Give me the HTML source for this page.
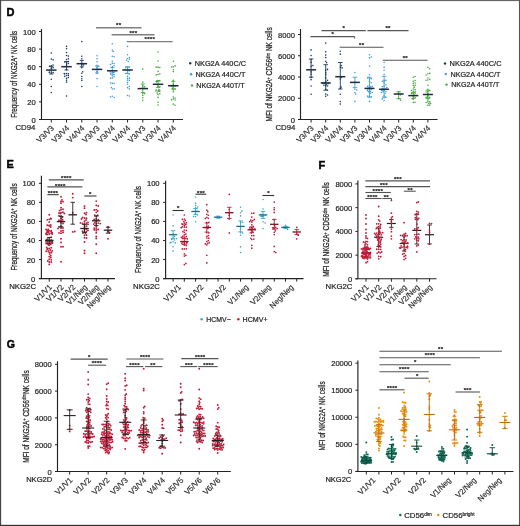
<!DOCTYPE html>
<html><head><meta charset="utf-8"><style>
html,body{margin:0;padding:0;background:#fff;}
body{width:520px;height:526px;overflow:hidden;}
svg{display:block;filter:blur(0.3px);font-family:"Liberation Sans", sans-serif;}
</style></head><body>
<svg width="520" height="526" viewBox="0 0 520 526">
<rect x="0" y="0" width="520" height="526" fill="#fff"/>
<text x="6.60" y="15.90" font-size="11" font-weight="bold" fill="#000" stroke="#000" stroke-width="0.45">D</text>
<line x1="41.50" y1="29.00" x2="41.50" y2="120.00" stroke="#222" stroke-width="1.15"/>
<line x1="39.00" y1="119.50" x2="41.50" y2="119.50" stroke="#222" stroke-width="1.0"/>
<text x="35.70" y="122.50" font-size="7.6" text-anchor="end" fill="#222" stroke="#222" stroke-width="0.2">0</text>
<line x1="39.00" y1="101.90" x2="41.50" y2="101.90" stroke="#222" stroke-width="1.0"/>
<text x="35.70" y="104.90" font-size="7.6" text-anchor="end" fill="#222" stroke="#222" stroke-width="0.2">20</text>
<line x1="39.00" y1="84.30" x2="41.50" y2="84.30" stroke="#222" stroke-width="1.0"/>
<text x="35.70" y="87.30" font-size="7.6" text-anchor="end" fill="#222" stroke="#222" stroke-width="0.2">40</text>
<line x1="39.00" y1="66.70" x2="41.50" y2="66.70" stroke="#222" stroke-width="1.0"/>
<text x="35.70" y="69.70" font-size="7.6" text-anchor="end" fill="#222" stroke="#222" stroke-width="0.2">60</text>
<line x1="39.00" y1="49.10" x2="41.50" y2="49.10" stroke="#222" stroke-width="1.0"/>
<text x="35.70" y="52.10" font-size="7.6" text-anchor="end" fill="#222" stroke="#222" stroke-width="0.2">80</text>
<line x1="39.00" y1="31.50" x2="41.50" y2="31.50" stroke="#222" stroke-width="1.0"/>
<text x="35.70" y="34.50" font-size="7.6" text-anchor="end" fill="#222" stroke="#222" stroke-width="0.2">100</text>
<line x1="39.00" y1="119.50" x2="183.00" y2="119.50" stroke="#222" stroke-width="1.15"/>
<line x1="51.30" y1="119.50" x2="51.30" y2="122.50" stroke="#222" stroke-width="1.0"/>
<line x1="66.55" y1="119.50" x2="66.55" y2="122.50" stroke="#222" stroke-width="1.0"/>
<line x1="81.80" y1="119.50" x2="81.80" y2="122.50" stroke="#222" stroke-width="1.0"/>
<line x1="97.05" y1="119.50" x2="97.05" y2="122.50" stroke="#222" stroke-width="1.0"/>
<line x1="112.30" y1="119.50" x2="112.30" y2="122.50" stroke="#222" stroke-width="1.0"/>
<line x1="127.55" y1="119.50" x2="127.55" y2="122.50" stroke="#222" stroke-width="1.0"/>
<line x1="142.80" y1="119.50" x2="142.80" y2="122.50" stroke="#222" stroke-width="1.0"/>
<line x1="158.05" y1="119.50" x2="158.05" y2="122.50" stroke="#222" stroke-width="1.0"/>
<line x1="173.30" y1="119.50" x2="173.30" y2="122.50" stroke="#222" stroke-width="1.0"/>
<text x="16.60" y="74.20" font-size="9.4" text-anchor="middle" textLength="86.9" lengthAdjust="spacingAndGlyphs" transform="rotate(-90 16.60 74.20)" fill="#222" stroke="#222" stroke-width="0.25">Frequency of NKG2A<tspan font-size="5.4" dy="-2.6">+</tspan><tspan dy="2.6"> NK cells</tspan></text>
<text x="15.40" y="130.20" font-size="7.8" fill="#222" stroke="#222" stroke-width="0.2">CD94</text>
<text x="54.50" y="128.70" font-size="7.9" text-anchor="end" textLength="20.7" lengthAdjust="spacingAndGlyphs" transform="rotate(-45 54.50 128.70)" fill="#2a2a2a" stroke="#2a2a2a" stroke-width="0.15">V3/V3</text>
<text x="69.75" y="128.70" font-size="7.9" text-anchor="end" textLength="20.7" lengthAdjust="spacingAndGlyphs" transform="rotate(-45 69.75 128.70)" fill="#2a2a2a" stroke="#2a2a2a" stroke-width="0.15">V3/V4</text>
<text x="85.00" y="128.70" font-size="7.9" text-anchor="end" textLength="20.7" lengthAdjust="spacingAndGlyphs" transform="rotate(-45 85.00 128.70)" fill="#2a2a2a" stroke="#2a2a2a" stroke-width="0.15">V4/V4</text>
<text x="100.25" y="128.70" font-size="7.9" text-anchor="end" textLength="20.7" lengthAdjust="spacingAndGlyphs" transform="rotate(-45 100.25 128.70)" fill="#2a2a2a" stroke="#2a2a2a" stroke-width="0.15">V3/V3</text>
<text x="115.50" y="128.70" font-size="7.9" text-anchor="end" textLength="20.7" lengthAdjust="spacingAndGlyphs" transform="rotate(-45 115.50 128.70)" fill="#2a2a2a" stroke="#2a2a2a" stroke-width="0.15">V3/V4</text>
<text x="130.75" y="128.70" font-size="7.9" text-anchor="end" textLength="20.7" lengthAdjust="spacingAndGlyphs" transform="rotate(-45 130.75 128.70)" fill="#2a2a2a" stroke="#2a2a2a" stroke-width="0.15">V4/V4</text>
<text x="146.00" y="128.70" font-size="7.9" text-anchor="end" textLength="20.7" lengthAdjust="spacingAndGlyphs" transform="rotate(-45 146.00 128.70)" fill="#2a2a2a" stroke="#2a2a2a" stroke-width="0.15">V3/V3</text>
<text x="161.25" y="128.70" font-size="7.9" text-anchor="end" textLength="20.7" lengthAdjust="spacingAndGlyphs" transform="rotate(-45 161.25 128.70)" fill="#2a2a2a" stroke="#2a2a2a" stroke-width="0.15">V3/V4</text>
<text x="176.50" y="128.70" font-size="7.9" text-anchor="end" textLength="20.7" lengthAdjust="spacingAndGlyphs" transform="rotate(-45 176.50 128.70)" fill="#2a2a2a" stroke="#2a2a2a" stroke-width="0.15">V4/V4</text>
<circle cx="51.30" cy="73.21" r="0.8" fill="#1a3a68"/>
<circle cx="53.10" cy="72.63" r="0.8" fill="#1a3a68"/>
<circle cx="51.30" cy="68.27" r="0.8" fill="#1a3a68"/>
<circle cx="51.30" cy="59.12" r="0.8" fill="#1a3a68"/>
<circle cx="49.50" cy="72.33" r="0.8" fill="#1a3a68"/>
<circle cx="49.38" cy="72.21" r="0.8" fill="#1a3a68"/>
<circle cx="51.30" cy="86.55" r="0.8" fill="#1a3a68"/>
<circle cx="53.10" cy="67.64" r="0.8" fill="#1a3a68"/>
<circle cx="51.30" cy="79.28" r="0.8" fill="#1a3a68"/>
<circle cx="51.30" cy="53.00" r="0.8" fill="#1a3a68"/>
<circle cx="51.30" cy="65.91" r="0.8" fill="#1a3a68"/>
<circle cx="49.50" cy="66.20" r="0.8" fill="#1a3a68"/>
<circle cx="53.10" cy="59.86" r="0.8" fill="#1a3a68"/>
<circle cx="53.10" cy="65.05" r="0.8" fill="#1a3a68"/>
<circle cx="51.30" cy="92.50" r="0.8" fill="#1a3a68"/>
<line x1="51.30" y1="66.30" x2="51.30" y2="74.00" stroke="#1a3a68" stroke-width="0.9"/>
<line x1="49.30" y1="66.30" x2="53.30" y2="66.30" stroke="#1a3a68" stroke-width="0.9"/>
<line x1="49.30" y1="74.00" x2="53.30" y2="74.00" stroke="#1a3a68" stroke-width="0.9"/>
<line x1="46.05" y1="70.10" x2="56.55" y2="70.10" stroke="#1f2a3a" stroke-width="1.5"/>
<circle cx="66.55" cy="73.52" r="0.8" fill="#1a3a68"/>
<circle cx="66.55" cy="62.69" r="0.8" fill="#1a3a68"/>
<circle cx="66.55" cy="48.68" r="0.8" fill="#1a3a68"/>
<circle cx="66.55" cy="75.50" r="0.8" fill="#1a3a68"/>
<circle cx="66.55" cy="69.62" r="0.8" fill="#1a3a68"/>
<circle cx="66.55" cy="80.21" r="0.8" fill="#1a3a68"/>
<circle cx="66.55" cy="82.12" r="0.8" fill="#1a3a68"/>
<circle cx="66.55" cy="65.03" r="0.8" fill="#1a3a68"/>
<circle cx="68.35" cy="73.68" r="0.8" fill="#1a3a68"/>
<circle cx="66.55" cy="52.51" r="0.8" fill="#1a3a68"/>
<circle cx="68.35" cy="75.38" r="0.8" fill="#1a3a68"/>
<circle cx="66.55" cy="96.00" r="0.8" fill="#1a3a68"/>
<circle cx="66.55" cy="78.40" r="0.8" fill="#1a3a68"/>
<circle cx="66.55" cy="46.40" r="0.8" fill="#1a3a68"/>
<circle cx="64.75" cy="73.86" r="0.8" fill="#1a3a68"/>
<circle cx="64.75" cy="76.37" r="0.8" fill="#1a3a68"/>
<circle cx="66.55" cy="59.52" r="0.8" fill="#1a3a68"/>
<circle cx="66.55" cy="55.48" r="0.8" fill="#1a3a68"/>
<circle cx="68.35" cy="63.54" r="0.8" fill="#1a3a68"/>
<circle cx="68.35" cy="61.58" r="0.8" fill="#1a3a68"/>
<circle cx="64.75" cy="61.97" r="0.8" fill="#1a3a68"/>
<circle cx="68.35" cy="58.84" r="0.8" fill="#1a3a68"/>
<circle cx="68.35" cy="56.09" r="0.8" fill="#1a3a68"/>
<circle cx="64.22" cy="73.48" r="0.8" fill="#1a3a68"/>
<circle cx="68.35" cy="77.56" r="0.8" fill="#1a3a68"/>
<line x1="66.55" y1="61.50" x2="66.55" y2="70.00" stroke="#1a3a68" stroke-width="0.9"/>
<line x1="64.55" y1="61.50" x2="68.55" y2="61.50" stroke="#1a3a68" stroke-width="0.9"/>
<line x1="64.55" y1="70.00" x2="68.55" y2="70.00" stroke="#1a3a68" stroke-width="0.9"/>
<line x1="61.30" y1="66.70" x2="71.80" y2="66.70" stroke="#1f2a3a" stroke-width="1.5"/>
<circle cx="81.80" cy="67.59" r="0.8" fill="#1a3a68"/>
<circle cx="81.80" cy="76.52" r="0.8" fill="#1a3a68"/>
<circle cx="81.80" cy="73.29" r="0.8" fill="#1a3a68"/>
<circle cx="81.80" cy="56.29" r="0.8" fill="#1a3a68"/>
<circle cx="81.80" cy="78.68" r="0.8" fill="#1a3a68"/>
<circle cx="81.80" cy="58.76" r="0.8" fill="#1a3a68"/>
<circle cx="81.80" cy="86.50" r="0.8" fill="#1a3a68"/>
<circle cx="81.80" cy="80.50" r="0.8" fill="#1a3a68"/>
<circle cx="81.80" cy="64.84" r="0.8" fill="#1a3a68"/>
<circle cx="81.80" cy="41.60" r="0.8" fill="#1a3a68"/>
<circle cx="83.60" cy="65.04" r="0.8" fill="#1a3a68"/>
<circle cx="82.70" cy="71.68" r="0.8" fill="#1a3a68"/>
<line x1="81.80" y1="60.40" x2="81.80" y2="66.90" stroke="#1a3a68" stroke-width="0.9"/>
<line x1="79.80" y1="60.40" x2="83.80" y2="60.40" stroke="#1a3a68" stroke-width="0.9"/>
<line x1="79.80" y1="66.90" x2="83.80" y2="66.90" stroke="#1a3a68" stroke-width="0.9"/>
<line x1="76.55" y1="63.70" x2="87.05" y2="63.70" stroke="#1f2a3a" stroke-width="1.5"/>
<circle cx="97.05" cy="68.94" r="0.8" fill="#3f9fd8"/>
<circle cx="97.05" cy="65.32" r="0.8" fill="#3f9fd8"/>
<circle cx="98.85" cy="66.36" r="0.8" fill="#3f9fd8"/>
<circle cx="97.05" cy="58.85" r="0.8" fill="#3f9fd8"/>
<circle cx="97.05" cy="55.80" r="0.8" fill="#3f9fd8"/>
<circle cx="97.05" cy="67.23" r="0.8" fill="#3f9fd8"/>
<circle cx="97.05" cy="86.50" r="0.8" fill="#3f9fd8"/>
<circle cx="97.05" cy="78.60" r="0.8" fill="#3f9fd8"/>
<circle cx="98.85" cy="69.29" r="0.8" fill="#3f9fd8"/>
<circle cx="97.05" cy="61.76" r="0.8" fill="#3f9fd8"/>
<circle cx="97.05" cy="73.41" r="0.8" fill="#3f9fd8"/>
<circle cx="97.05" cy="71.67" r="0.8" fill="#3f9fd8"/>
<line x1="97.05" y1="66.00" x2="97.05" y2="73.00" stroke="#3f9fd8" stroke-width="0.9"/>
<line x1="95.05" y1="66.00" x2="99.05" y2="66.00" stroke="#3f9fd8" stroke-width="0.9"/>
<line x1="95.05" y1="73.00" x2="99.05" y2="73.00" stroke="#3f9fd8" stroke-width="0.9"/>
<line x1="91.80" y1="69.40" x2="102.30" y2="69.40" stroke="#1f2a3a" stroke-width="1.5"/>
<circle cx="112.30" cy="49.93" r="0.8" fill="#3f9fd8"/>
<circle cx="112.30" cy="75.73" r="0.8" fill="#3f9fd8"/>
<circle cx="112.30" cy="77.89" r="0.8" fill="#3f9fd8"/>
<circle cx="114.10" cy="74.78" r="0.8" fill="#3f9fd8"/>
<circle cx="112.30" cy="83.42" r="0.8" fill="#3f9fd8"/>
<circle cx="114.10" cy="76.85" r="0.8" fill="#3f9fd8"/>
<circle cx="112.30" cy="61.28" r="0.8" fill="#3f9fd8"/>
<circle cx="112.30" cy="89.05" r="0.8" fill="#3f9fd8"/>
<circle cx="112.30" cy="96.29" r="0.8" fill="#3f9fd8"/>
<circle cx="112.30" cy="56.37" r="0.8" fill="#3f9fd8"/>
<circle cx="114.10" cy="83.21" r="0.8" fill="#3f9fd8"/>
<circle cx="114.10" cy="97.60" r="0.8" fill="#3f9fd8"/>
<circle cx="112.30" cy="72.30" r="0.8" fill="#3f9fd8"/>
<circle cx="112.30" cy="66.64" r="0.8" fill="#3f9fd8"/>
<circle cx="114.10" cy="88.82" r="0.8" fill="#3f9fd8"/>
<circle cx="110.50" cy="82.93" r="0.8" fill="#3f9fd8"/>
<circle cx="112.30" cy="63.40" r="0.8" fill="#3f9fd8"/>
<circle cx="114.10" cy="65.68" r="0.8" fill="#3f9fd8"/>
<circle cx="110.50" cy="64.47" r="0.8" fill="#3f9fd8"/>
<circle cx="110.50" cy="78.25" r="0.8" fill="#3f9fd8"/>
<circle cx="111.40" cy="87.44" r="0.8" fill="#3f9fd8"/>
<circle cx="114.10" cy="72.19" r="0.8" fill="#3f9fd8"/>
<circle cx="113.20" cy="51.40" r="0.8" fill="#3f9fd8"/>
<circle cx="110.50" cy="73.71" r="0.8" fill="#3f9fd8"/>
<circle cx="114.10" cy="56.75" r="0.8" fill="#3f9fd8"/>
<circle cx="110.50" cy="97.02" r="0.8" fill="#3f9fd8"/>
<circle cx="113.60" cy="72.56" r="0.8" fill="#3f9fd8"/>
<circle cx="114.10" cy="63.48" r="0.8" fill="#3f9fd8"/>
<circle cx="112.30" cy="43.80" r="0.8" fill="#3f9fd8"/>
<circle cx="110.50" cy="71.94" r="0.8" fill="#3f9fd8"/>
<line x1="112.30" y1="67.50" x2="112.30" y2="74.30" stroke="#3f9fd8" stroke-width="0.9"/>
<line x1="110.30" y1="67.50" x2="114.30" y2="67.50" stroke="#3f9fd8" stroke-width="0.9"/>
<line x1="110.30" y1="74.30" x2="114.30" y2="74.30" stroke="#3f9fd8" stroke-width="0.9"/>
<line x1="107.05" y1="70.80" x2="117.55" y2="70.80" stroke="#1f2a3a" stroke-width="1.5"/>
<circle cx="127.55" cy="80.10" r="0.8" fill="#3f9fd8"/>
<circle cx="127.55" cy="73.38" r="0.8" fill="#3f9fd8"/>
<circle cx="127.55" cy="69.16" r="0.8" fill="#3f9fd8"/>
<circle cx="129.35" cy="70.30" r="0.8" fill="#3f9fd8"/>
<circle cx="125.75" cy="69.57" r="0.8" fill="#3f9fd8"/>
<circle cx="127.55" cy="87.64" r="0.8" fill="#3f9fd8"/>
<circle cx="127.55" cy="67.45" r="0.8" fill="#3f9fd8"/>
<circle cx="127.55" cy="82.37" r="0.8" fill="#3f9fd8"/>
<circle cx="127.55" cy="95.55" r="0.8" fill="#3f9fd8"/>
<circle cx="127.55" cy="78.36" r="0.8" fill="#3f9fd8"/>
<circle cx="129.35" cy="80.42" r="0.8" fill="#3f9fd8"/>
<circle cx="127.55" cy="58.78" r="0.8" fill="#3f9fd8"/>
<circle cx="127.55" cy="76.34" r="0.8" fill="#3f9fd8"/>
<circle cx="129.35" cy="96.00" r="0.8" fill="#3f9fd8"/>
<circle cx="129.35" cy="88.86" r="0.8" fill="#3f9fd8"/>
<circle cx="129.35" cy="59.30" r="0.8" fill="#3f9fd8"/>
<circle cx="126.65" cy="60.25" r="0.8" fill="#3f9fd8"/>
<circle cx="127.55" cy="54.74" r="0.8" fill="#3f9fd8"/>
<circle cx="129.35" cy="74.24" r="0.8" fill="#3f9fd8"/>
<circle cx="129.35" cy="57.48" r="0.8" fill="#3f9fd8"/>
<circle cx="129.35" cy="67.37" r="0.8" fill="#3f9fd8"/>
<circle cx="129.17" cy="70.86" r="0.8" fill="#3f9fd8"/>
<circle cx="127.55" cy="84.27" r="0.8" fill="#3f9fd8"/>
<circle cx="125.75" cy="67.28" r="0.8" fill="#3f9fd8"/>
<circle cx="125.75" cy="73.49" r="0.8" fill="#3f9fd8"/>
<circle cx="129.35" cy="78.16" r="0.8" fill="#3f9fd8"/>
<circle cx="127.55" cy="46.40" r="0.8" fill="#3f9fd8"/>
<circle cx="129.35" cy="86.55" r="0.8" fill="#3f9fd8"/>
<circle cx="125.31" cy="69.47" r="0.8" fill="#3f9fd8"/>
<circle cx="128.45" cy="61.54" r="0.8" fill="#3f9fd8"/>
<line x1="127.55" y1="66.70" x2="127.55" y2="73.40" stroke="#3f9fd8" stroke-width="0.9"/>
<line x1="125.55" y1="66.70" x2="129.55" y2="66.70" stroke="#3f9fd8" stroke-width="0.9"/>
<line x1="125.55" y1="73.40" x2="129.55" y2="73.40" stroke="#3f9fd8" stroke-width="0.9"/>
<line x1="122.30" y1="70.00" x2="132.80" y2="70.00" stroke="#1f2a3a" stroke-width="1.5"/>
<circle cx="142.80" cy="97.68" r="0.8" fill="#45a83c"/>
<circle cx="142.80" cy="93.50" r="0.8" fill="#45a83c"/>
<circle cx="142.80" cy="95.38" r="0.8" fill="#45a83c"/>
<circle cx="142.80" cy="85.99" r="0.8" fill="#45a83c"/>
<circle cx="142.80" cy="100.20" r="0.8" fill="#45a83c"/>
<circle cx="142.80" cy="69.10" r="0.8" fill="#45a83c"/>
<circle cx="144.60" cy="93.43" r="0.8" fill="#45a83c"/>
<circle cx="142.80" cy="82.08" r="0.8" fill="#45a83c"/>
<circle cx="144.60" cy="86.90" r="0.8" fill="#45a83c"/>
<circle cx="142.80" cy="87.93" r="0.8" fill="#45a83c"/>
<line x1="142.80" y1="84.00" x2="142.80" y2="92.50" stroke="#45a83c" stroke-width="0.9"/>
<line x1="140.80" y1="84.00" x2="144.80" y2="84.00" stroke="#45a83c" stroke-width="0.9"/>
<line x1="140.80" y1="92.50" x2="144.80" y2="92.50" stroke="#45a83c" stroke-width="0.9"/>
<line x1="137.55" y1="88.60" x2="148.05" y2="88.60" stroke="#1f2a3a" stroke-width="1.5"/>
<circle cx="158.05" cy="60.93" r="0.8" fill="#45a83c"/>
<circle cx="158.05" cy="94.58" r="0.8" fill="#45a83c"/>
<circle cx="158.05" cy="105.00" r="0.8" fill="#45a83c"/>
<circle cx="158.05" cy="67.13" r="0.8" fill="#45a83c"/>
<circle cx="158.05" cy="81.15" r="0.8" fill="#45a83c"/>
<circle cx="158.05" cy="91.28" r="0.8" fill="#45a83c"/>
<circle cx="158.05" cy="74.51" r="0.8" fill="#45a83c"/>
<circle cx="159.85" cy="91.07" r="0.8" fill="#45a83c"/>
<circle cx="156.25" cy="90.02" r="0.8" fill="#45a83c"/>
<circle cx="158.05" cy="86.41" r="0.8" fill="#45a83c"/>
<circle cx="158.95" cy="89.61" r="0.8" fill="#45a83c"/>
<circle cx="159.85" cy="86.92" r="0.8" fill="#45a83c"/>
<circle cx="159.59" cy="91.00" r="0.8" fill="#45a83c"/>
<circle cx="159.85" cy="67.58" r="0.8" fill="#45a83c"/>
<circle cx="159.85" cy="93.85" r="0.8" fill="#45a83c"/>
<circle cx="155.92" cy="90.93" r="0.8" fill="#45a83c"/>
<circle cx="158.05" cy="52.00" r="0.8" fill="#45a83c"/>
<circle cx="159.85" cy="80.88" r="0.8" fill="#45a83c"/>
<circle cx="157.15" cy="93.09" r="0.8" fill="#45a83c"/>
<circle cx="159.85" cy="73.84" r="0.8" fill="#45a83c"/>
<circle cx="158.05" cy="102.18" r="0.8" fill="#45a83c"/>
<circle cx="156.25" cy="81.71" r="0.8" fill="#45a83c"/>
<circle cx="158.38" cy="90.43" r="0.8" fill="#45a83c"/>
<circle cx="158.05" cy="97.39" r="0.8" fill="#45a83c"/>
<circle cx="156.25" cy="67.14" r="0.8" fill="#45a83c"/>
<circle cx="156.69" cy="81.85" r="0.8" fill="#45a83c"/>
<circle cx="156.25" cy="74.83" r="0.8" fill="#45a83c"/>
<circle cx="158.05" cy="71.38" r="0.8" fill="#45a83c"/>
<line x1="158.05" y1="80.60" x2="158.05" y2="87.40" stroke="#45a83c" stroke-width="0.9"/>
<line x1="156.05" y1="80.60" x2="160.05" y2="80.60" stroke="#45a83c" stroke-width="0.9"/>
<line x1="156.05" y1="87.40" x2="160.05" y2="87.40" stroke="#45a83c" stroke-width="0.9"/>
<line x1="152.80" y1="84.30" x2="163.30" y2="84.30" stroke="#1f2a3a" stroke-width="1.5"/>
<circle cx="173.30" cy="98.90" r="0.8" fill="#45a83c"/>
<circle cx="173.30" cy="61.20" r="0.8" fill="#45a83c"/>
<circle cx="173.30" cy="66.91" r="0.8" fill="#45a83c"/>
<circle cx="173.30" cy="80.40" r="0.8" fill="#45a83c"/>
<circle cx="175.10" cy="99.93" r="0.8" fill="#45a83c"/>
<circle cx="173.30" cy="104.13" r="0.8" fill="#45a83c"/>
<circle cx="173.30" cy="86.39" r="0.8" fill="#45a83c"/>
<circle cx="173.30" cy="69.75" r="0.8" fill="#45a83c"/>
<circle cx="173.30" cy="89.96" r="0.8" fill="#45a83c"/>
<circle cx="175.10" cy="65.92" r="0.8" fill="#45a83c"/>
<circle cx="173.30" cy="71.61" r="0.8" fill="#45a83c"/>
<circle cx="175.10" cy="105.30" r="0.8" fill="#45a83c"/>
<circle cx="173.30" cy="84.17" r="0.8" fill="#45a83c"/>
<circle cx="175.10" cy="86.55" r="0.8" fill="#45a83c"/>
<circle cx="173.30" cy="91.84" r="0.8" fill="#45a83c"/>
<circle cx="175.10" cy="88.89" r="0.8" fill="#45a83c"/>
<circle cx="171.50" cy="86.16" r="0.8" fill="#45a83c"/>
<circle cx="172.40" cy="88.31" r="0.8" fill="#45a83c"/>
<circle cx="173.30" cy="97.02" r="0.8" fill="#45a83c"/>
<circle cx="171.50" cy="67.01" r="0.8" fill="#45a83c"/>
<circle cx="175.10" cy="98.00" r="0.8" fill="#45a83c"/>
<circle cx="171.50" cy="99.84" r="0.8" fill="#45a83c"/>
<line x1="173.30" y1="81.40" x2="173.30" y2="89.10" stroke="#45a83c" stroke-width="0.9"/>
<line x1="171.30" y1="81.40" x2="175.30" y2="81.40" stroke="#45a83c" stroke-width="0.9"/>
<line x1="171.30" y1="89.10" x2="175.30" y2="89.10" stroke="#45a83c" stroke-width="0.9"/>
<line x1="168.05" y1="85.70" x2="178.55" y2="85.70" stroke="#1f2a3a" stroke-width="1.5"/>
<line x1="96.00" y1="27.80" x2="141.60" y2="27.80" stroke="#808080" stroke-width="1.4"/>
<text x="118.65" y="26.90" font-size="6" text-anchor="middle" font-weight="bold" fill="#222" stroke="#222" stroke-width="0.2" letter-spacing="0.3">**</text>
<line x1="111.60" y1="34.70" x2="154.50" y2="34.70" stroke="#808080" stroke-width="1.4"/>
<text x="133.45" y="34.50" font-size="6" text-anchor="middle" font-weight="bold" fill="#222" stroke="#222" stroke-width="0.2" letter-spacing="0.3">***</text>
<line x1="126.70" y1="41.60" x2="172.70" y2="41.60" stroke="#808080" stroke-width="1.4"/>
<text x="149.85" y="41.30" font-size="6" text-anchor="middle" font-weight="bold" fill="#222" stroke="#222" stroke-width="0.2" letter-spacing="0.3">****</text>
<circle cx="190.20" cy="63.20" r="1.2" fill="#1a3a68"/>
<text x="194.70" y="65.90" font-size="7.6" textLength="51.4" lengthAdjust="spacingAndGlyphs" fill="#222" stroke="#222" stroke-width="0.2">NKG2A 440C/C</text>
<circle cx="191.10" cy="74.30" r="1.2" fill="#3f9fd8"/>
<text x="195.50" y="77.00" font-size="7.6" textLength="50" lengthAdjust="spacingAndGlyphs" fill="#222" stroke="#222" stroke-width="0.2">NKG2A 440C/T</text>
<circle cx="192.00" cy="85.40" r="1.2" fill="#45a83c"/>
<text x="196.30" y="88.10" font-size="7.6" textLength="48.4" lengthAdjust="spacingAndGlyphs" fill="#222" stroke="#222" stroke-width="0.2">NKG2A 440T/T</text>
<line x1="300.50" y1="29.00" x2="300.50" y2="120.00" stroke="#222" stroke-width="1.15"/>
<line x1="298.00" y1="119.50" x2="300.50" y2="119.50" stroke="#222" stroke-width="1.0"/>
<text x="295.00" y="122.50" font-size="7.6" text-anchor="end" fill="#222" stroke="#222" stroke-width="0.2">0</text>
<line x1="298.00" y1="98.25" x2="300.50" y2="98.25" stroke="#222" stroke-width="1.0"/>
<text x="295.00" y="101.25" font-size="7.6" text-anchor="end" fill="#222" stroke="#222" stroke-width="0.2">2000</text>
<line x1="298.00" y1="77.00" x2="300.50" y2="77.00" stroke="#222" stroke-width="1.0"/>
<text x="295.00" y="80.00" font-size="7.6" text-anchor="end" fill="#222" stroke="#222" stroke-width="0.2">4000</text>
<line x1="298.00" y1="55.75" x2="300.50" y2="55.75" stroke="#222" stroke-width="1.0"/>
<text x="295.00" y="58.75" font-size="7.6" text-anchor="end" fill="#222" stroke="#222" stroke-width="0.2">6000</text>
<line x1="298.00" y1="34.50" x2="300.50" y2="34.50" stroke="#222" stroke-width="1.0"/>
<text x="295.00" y="37.50" font-size="7.6" text-anchor="end" fill="#222" stroke="#222" stroke-width="0.2">8000</text>
<line x1="298.00" y1="119.50" x2="437.50" y2="119.50" stroke="#222" stroke-width="1.15"/>
<line x1="311.10" y1="119.50" x2="311.10" y2="122.50" stroke="#222" stroke-width="1.0"/>
<line x1="325.70" y1="119.50" x2="325.70" y2="122.50" stroke="#222" stroke-width="1.0"/>
<line x1="340.30" y1="119.50" x2="340.30" y2="122.50" stroke="#222" stroke-width="1.0"/>
<line x1="354.90" y1="119.50" x2="354.90" y2="122.50" stroke="#222" stroke-width="1.0"/>
<line x1="369.50" y1="119.50" x2="369.50" y2="122.50" stroke="#222" stroke-width="1.0"/>
<line x1="384.10" y1="119.50" x2="384.10" y2="122.50" stroke="#222" stroke-width="1.0"/>
<line x1="398.70" y1="119.50" x2="398.70" y2="122.50" stroke="#222" stroke-width="1.0"/>
<line x1="413.30" y1="119.50" x2="413.30" y2="122.50" stroke="#222" stroke-width="1.0"/>
<line x1="427.90" y1="119.50" x2="427.90" y2="122.50" stroke="#222" stroke-width="1.0"/>
<text x="272.30" y="74.40" font-size="9.4" text-anchor="middle" textLength="94.1" lengthAdjust="spacingAndGlyphs" transform="rotate(-90 272.30 74.40)" fill="#222" stroke="#222" stroke-width="0.25">MFI of NKG2A<tspan font-size="5.4" dy="-2.6">+</tspan><tspan dy="2.6"> CD56</tspan><tspan font-size="5.4" dy="-2.6">dim</tspan><tspan dy="2.6"> NK cells</tspan></text>
<text x="275.40" y="130.20" font-size="7.8" fill="#222" stroke="#222" stroke-width="0.2">CD94</text>
<text x="314.30" y="128.70" font-size="7.9" text-anchor="end" textLength="20.7" lengthAdjust="spacingAndGlyphs" transform="rotate(-45 314.30 128.70)" fill="#2a2a2a" stroke="#2a2a2a" stroke-width="0.15">V3/V3</text>
<text x="328.90" y="128.70" font-size="7.9" text-anchor="end" textLength="20.7" lengthAdjust="spacingAndGlyphs" transform="rotate(-45 328.90 128.70)" fill="#2a2a2a" stroke="#2a2a2a" stroke-width="0.15">V3/V4</text>
<text x="343.50" y="128.70" font-size="7.9" text-anchor="end" textLength="20.7" lengthAdjust="spacingAndGlyphs" transform="rotate(-45 343.50 128.70)" fill="#2a2a2a" stroke="#2a2a2a" stroke-width="0.15">V4/V4</text>
<text x="358.10" y="128.70" font-size="7.9" text-anchor="end" textLength="20.7" lengthAdjust="spacingAndGlyphs" transform="rotate(-45 358.10 128.70)" fill="#2a2a2a" stroke="#2a2a2a" stroke-width="0.15">V3/V3</text>
<text x="372.70" y="128.70" font-size="7.9" text-anchor="end" textLength="20.7" lengthAdjust="spacingAndGlyphs" transform="rotate(-45 372.70 128.70)" fill="#2a2a2a" stroke="#2a2a2a" stroke-width="0.15">V3/V4</text>
<text x="387.30" y="128.70" font-size="7.9" text-anchor="end" textLength="20.7" lengthAdjust="spacingAndGlyphs" transform="rotate(-45 387.30 128.70)" fill="#2a2a2a" stroke="#2a2a2a" stroke-width="0.15">V4/V4</text>
<text x="401.90" y="128.70" font-size="7.9" text-anchor="end" textLength="20.7" lengthAdjust="spacingAndGlyphs" transform="rotate(-45 401.90 128.70)" fill="#2a2a2a" stroke="#2a2a2a" stroke-width="0.15">V3/V3</text>
<text x="416.50" y="128.70" font-size="7.9" text-anchor="end" textLength="20.7" lengthAdjust="spacingAndGlyphs" transform="rotate(-45 416.50 128.70)" fill="#2a2a2a" stroke="#2a2a2a" stroke-width="0.15">V3/V4</text>
<text x="431.10" y="128.70" font-size="7.9" text-anchor="end" textLength="20.7" lengthAdjust="spacingAndGlyphs" transform="rotate(-45 431.10 128.70)" fill="#2a2a2a" stroke="#2a2a2a" stroke-width="0.15">V4/V4</text>
<circle cx="311.10" cy="77.41" r="0.8" fill="#1a3a68"/>
<circle cx="311.10" cy="71.91" r="0.8" fill="#1a3a68"/>
<circle cx="311.10" cy="94.20" r="0.8" fill="#1a3a68"/>
<circle cx="311.10" cy="85.96" r="0.8" fill="#1a3a68"/>
<circle cx="311.10" cy="79.67" r="0.8" fill="#1a3a68"/>
<circle cx="311.10" cy="66.22" r="0.8" fill="#1a3a68"/>
<circle cx="311.10" cy="49.90" r="0.8" fill="#1a3a68"/>
<circle cx="312.90" cy="65.46" r="0.8" fill="#1a3a68"/>
<circle cx="311.10" cy="62.38" r="0.8" fill="#1a3a68"/>
<circle cx="311.10" cy="59.62" r="0.8" fill="#1a3a68"/>
<circle cx="311.10" cy="74.18" r="0.8" fill="#1a3a68"/>
<circle cx="311.10" cy="55.57" r="0.8" fill="#1a3a68"/>
<line x1="311.10" y1="59.00" x2="311.10" y2="77.20" stroke="#1a3a68" stroke-width="0.9"/>
<line x1="308.85" y1="59.00" x2="313.35" y2="59.00" stroke="#1a3a68" stroke-width="0.9"/>
<line x1="308.85" y1="77.20" x2="313.35" y2="77.20" stroke="#1a3a68" stroke-width="0.9"/>
<line x1="306.10" y1="69.80" x2="316.10" y2="69.80" stroke="#1f2a3a" stroke-width="1.5"/>
<circle cx="325.70" cy="85.82" r="0.8" fill="#1a3a68"/>
<circle cx="325.70" cy="81.66" r="0.8" fill="#1a3a68"/>
<circle cx="326.60" cy="84.37" r="0.8" fill="#1a3a68"/>
<circle cx="325.70" cy="74.70" r="0.8" fill="#1a3a68"/>
<circle cx="324.80" cy="83.39" r="0.8" fill="#1a3a68"/>
<circle cx="327.50" cy="80.35" r="0.8" fill="#1a3a68"/>
<circle cx="325.70" cy="70.17" r="0.8" fill="#1a3a68"/>
<circle cx="325.70" cy="89.33" r="0.8" fill="#1a3a68"/>
<circle cx="328.40" cy="83.44" r="0.8" fill="#1a3a68"/>
<circle cx="325.70" cy="61.32" r="0.8" fill="#1a3a68"/>
<circle cx="325.70" cy="94.09" r="0.8" fill="#1a3a68"/>
<circle cx="327.50" cy="69.42" r="0.8" fill="#1a3a68"/>
<circle cx="325.70" cy="96.20" r="0.8" fill="#1a3a68"/>
<circle cx="325.70" cy="57.62" r="0.8" fill="#1a3a68"/>
<circle cx="327.50" cy="95.03" r="0.8" fill="#1a3a68"/>
<circle cx="325.70" cy="55.11" r="0.8" fill="#1a3a68"/>
<circle cx="323.00" cy="83.40" r="0.8" fill="#1a3a68"/>
<circle cx="325.70" cy="72.85" r="0.8" fill="#1a3a68"/>
<circle cx="323.90" cy="85.25" r="0.8" fill="#1a3a68"/>
<circle cx="327.50" cy="90.19" r="0.8" fill="#1a3a68"/>
<circle cx="326.60" cy="62.79" r="0.8" fill="#1a3a68"/>
<circle cx="325.70" cy="43.10" r="0.8" fill="#1a3a68"/>
<circle cx="325.70" cy="51.84" r="0.8" fill="#1a3a68"/>
<circle cx="327.50" cy="86.05" r="0.8" fill="#1a3a68"/>
<circle cx="325.70" cy="77.89" r="0.8" fill="#1a3a68"/>
<line x1="325.70" y1="64.70" x2="325.70" y2="90.20" stroke="#1a3a68" stroke-width="0.9"/>
<line x1="323.45" y1="64.70" x2="327.95" y2="64.70" stroke="#1a3a68" stroke-width="0.9"/>
<line x1="323.45" y1="90.20" x2="327.95" y2="90.20" stroke="#1a3a68" stroke-width="0.9"/>
<line x1="320.70" y1="82.90" x2="330.70" y2="82.90" stroke="#1f2a3a" stroke-width="1.5"/>
<circle cx="340.30" cy="101.47" r="0.8" fill="#1a3a68"/>
<circle cx="340.30" cy="94.30" r="0.8" fill="#1a3a68"/>
<circle cx="340.30" cy="67.20" r="0.8" fill="#1a3a68"/>
<circle cx="340.30" cy="104.00" r="0.8" fill="#1a3a68"/>
<circle cx="340.30" cy="88.42" r="0.8" fill="#1a3a68"/>
<circle cx="340.30" cy="54.14" r="0.8" fill="#1a3a68"/>
<circle cx="341.20" cy="86.93" r="0.8" fill="#1a3a68"/>
<circle cx="340.30" cy="79.02" r="0.8" fill="#1a3a68"/>
<circle cx="342.10" cy="67.90" r="0.8" fill="#1a3a68"/>
<circle cx="340.30" cy="51.20" r="0.8" fill="#1a3a68"/>
<circle cx="341.20" cy="65.60" r="0.8" fill="#1a3a68"/>
<circle cx="341.20" cy="77.53" r="0.8" fill="#1a3a68"/>
<line x1="340.30" y1="62.50" x2="340.30" y2="89.00" stroke="#1a3a68" stroke-width="0.9"/>
<line x1="338.05" y1="62.50" x2="342.55" y2="62.50" stroke="#1a3a68" stroke-width="0.9"/>
<line x1="338.05" y1="89.00" x2="342.55" y2="89.00" stroke="#1a3a68" stroke-width="0.9"/>
<line x1="335.30" y1="76.70" x2="345.30" y2="76.70" stroke="#1f2a3a" stroke-width="1.5"/>
<circle cx="354.90" cy="89.11" r="0.8" fill="#3f9fd8"/>
<circle cx="354.90" cy="92.48" r="0.8" fill="#3f9fd8"/>
<circle cx="354.90" cy="72.50" r="0.8" fill="#3f9fd8"/>
<circle cx="354.90" cy="101.40" r="0.8" fill="#3f9fd8"/>
<circle cx="354.90" cy="82.12" r="0.8" fill="#3f9fd8"/>
<circle cx="355.80" cy="94.11" r="0.8" fill="#3f9fd8"/>
<circle cx="356.70" cy="90.00" r="0.8" fill="#3f9fd8"/>
<line x1="354.90" y1="77.20" x2="354.90" y2="87.60" stroke="#3f9fd8" stroke-width="0.9"/>
<line x1="352.65" y1="77.20" x2="357.15" y2="77.20" stroke="#3f9fd8" stroke-width="0.9"/>
<line x1="352.65" y1="87.60" x2="357.15" y2="87.60" stroke="#3f9fd8" stroke-width="0.9"/>
<line x1="349.90" y1="82.40" x2="359.90" y2="82.40" stroke="#1f2a3a" stroke-width="1.5"/>
<circle cx="369.50" cy="85.60" r="0.8" fill="#3f9fd8"/>
<circle cx="369.50" cy="57.88" r="0.8" fill="#3f9fd8"/>
<circle cx="369.50" cy="89.70" r="0.8" fill="#3f9fd8"/>
<circle cx="369.50" cy="81.48" r="0.8" fill="#3f9fd8"/>
<circle cx="371.30" cy="88.56" r="0.8" fill="#3f9fd8"/>
<circle cx="369.50" cy="78.83" r="0.8" fill="#3f9fd8"/>
<circle cx="369.50" cy="66.03" r="0.8" fill="#3f9fd8"/>
<circle cx="370.40" cy="87.08" r="0.8" fill="#3f9fd8"/>
<circle cx="369.50" cy="97.54" r="0.8" fill="#3f9fd8"/>
<circle cx="371.30" cy="96.86" r="0.8" fill="#3f9fd8"/>
<circle cx="370.40" cy="91.32" r="0.8" fill="#3f9fd8"/>
<circle cx="367.70" cy="86.42" r="0.8" fill="#3f9fd8"/>
<circle cx="371.30" cy="56.94" r="0.8" fill="#3f9fd8"/>
<circle cx="367.70" cy="96.14" r="0.8" fill="#3f9fd8"/>
<circle cx="372.20" cy="86.18" r="0.8" fill="#3f9fd8"/>
<circle cx="368.60" cy="91.73" r="0.8" fill="#3f9fd8"/>
<circle cx="372.20" cy="92.51" r="0.8" fill="#3f9fd8"/>
<circle cx="370.76" cy="87.03" r="0.8" fill="#3f9fd8"/>
<circle cx="369.50" cy="74.70" r="0.8" fill="#3f9fd8"/>
<circle cx="370.40" cy="93.17" r="0.8" fill="#3f9fd8"/>
<circle cx="369.50" cy="54.70" r="0.8" fill="#3f9fd8"/>
<circle cx="371.30" cy="78.71" r="0.8" fill="#3f9fd8"/>
<circle cx="369.50" cy="101.40" r="0.8" fill="#3f9fd8"/>
<circle cx="367.70" cy="77.92" r="0.8" fill="#3f9fd8"/>
<circle cx="367.70" cy="89.95" r="0.8" fill="#3f9fd8"/>
<circle cx="371.19" cy="89.53" r="0.8" fill="#3f9fd8"/>
<circle cx="368.60" cy="88.09" r="0.8" fill="#3f9fd8"/>
<circle cx="371.30" cy="82.80" r="0.8" fill="#3f9fd8"/>
<circle cx="367.55" cy="90.65" r="0.8" fill="#3f9fd8"/>
<circle cx="369.63" cy="78.19" r="0.8" fill="#3f9fd8"/>
<line x1="369.50" y1="77.20" x2="369.50" y2="97.00" stroke="#3f9fd8" stroke-width="0.9"/>
<line x1="367.25" y1="77.20" x2="371.75" y2="77.20" stroke="#3f9fd8" stroke-width="0.9"/>
<line x1="367.25" y1="97.00" x2="371.75" y2="97.00" stroke="#3f9fd8" stroke-width="0.9"/>
<line x1="364.50" y1="88.40" x2="374.50" y2="88.40" stroke="#1f2a3a" stroke-width="1.5"/>
<circle cx="384.10" cy="90.33" r="0.8" fill="#3f9fd8"/>
<circle cx="385.90" cy="91.51" r="0.8" fill="#3f9fd8"/>
<circle cx="384.10" cy="67.38" r="0.8" fill="#3f9fd8"/>
<circle cx="384.10" cy="97.81" r="0.8" fill="#3f9fd8"/>
<circle cx="385.90" cy="97.27" r="0.8" fill="#3f9fd8"/>
<circle cx="385.90" cy="88.90" r="0.8" fill="#3f9fd8"/>
<circle cx="384.10" cy="95.70" r="0.8" fill="#3f9fd8"/>
<circle cx="382.30" cy="89.59" r="0.8" fill="#3f9fd8"/>
<circle cx="383.08" cy="88.83" r="0.8" fill="#3f9fd8"/>
<circle cx="384.10" cy="86.14" r="0.8" fill="#3f9fd8"/>
<circle cx="381.86" cy="89.23" r="0.8" fill="#3f9fd8"/>
<circle cx="383.95" cy="89.96" r="0.8" fill="#3f9fd8"/>
<circle cx="384.10" cy="74.55" r="0.8" fill="#3f9fd8"/>
<circle cx="383.20" cy="91.83" r="0.8" fill="#3f9fd8"/>
<circle cx="386.80" cy="87.43" r="0.8" fill="#3f9fd8"/>
<circle cx="382.30" cy="86.77" r="0.8" fill="#3f9fd8"/>
<circle cx="384.10" cy="80.42" r="0.8" fill="#3f9fd8"/>
<circle cx="384.10" cy="100.50" r="0.8" fill="#3f9fd8"/>
<circle cx="384.10" cy="83.09" r="0.8" fill="#3f9fd8"/>
<circle cx="384.10" cy="62.50" r="0.8" fill="#3f9fd8"/>
<circle cx="381.40" cy="92.47" r="0.8" fill="#3f9fd8"/>
<circle cx="385.00" cy="93.24" r="0.8" fill="#3f9fd8"/>
<circle cx="382.96" cy="90.10" r="0.8" fill="#3f9fd8"/>
<circle cx="385.90" cy="80.41" r="0.8" fill="#3f9fd8"/>
<circle cx="385.90" cy="84.81" r="0.8" fill="#3f9fd8"/>
<circle cx="381.81" cy="90.41" r="0.8" fill="#3f9fd8"/>
<circle cx="382.30" cy="98.92" r="0.8" fill="#3f9fd8"/>
<circle cx="382.30" cy="81.27" r="0.8" fill="#3f9fd8"/>
<circle cx="384.10" cy="70.27" r="0.8" fill="#3f9fd8"/>
<circle cx="384.14" cy="81.32" r="0.8" fill="#3f9fd8"/>
<line x1="384.10" y1="76.30" x2="384.10" y2="97.00" stroke="#3f9fd8" stroke-width="0.9"/>
<line x1="381.85" y1="76.30" x2="386.35" y2="76.30" stroke="#3f9fd8" stroke-width="0.9"/>
<line x1="381.85" y1="97.00" x2="386.35" y2="97.00" stroke="#3f9fd8" stroke-width="0.9"/>
<line x1="379.10" y1="89.30" x2="389.10" y2="89.30" stroke="#1f2a3a" stroke-width="1.5"/>
<circle cx="398.70" cy="98.67" r="0.8" fill="#45a83c"/>
<circle cx="398.70" cy="94.30" r="0.8" fill="#45a83c"/>
<circle cx="400.50" cy="94.87" r="0.8" fill="#45a83c"/>
<circle cx="398.70" cy="91.80" r="0.8" fill="#45a83c"/>
<circle cx="400.50" cy="100.10" r="0.8" fill="#45a83c"/>
<line x1="398.70" y1="91.80" x2="398.70" y2="98.60" stroke="#45a83c" stroke-width="0.9"/>
<line x1="396.45" y1="91.80" x2="400.95" y2="91.80" stroke="#45a83c" stroke-width="0.9"/>
<line x1="396.45" y1="98.60" x2="400.95" y2="98.60" stroke="#45a83c" stroke-width="0.9"/>
<line x1="393.70" y1="94.00" x2="403.70" y2="94.00" stroke="#1f2a3a" stroke-width="1.5"/>
<circle cx="413.30" cy="93.28" r="0.8" fill="#45a83c"/>
<circle cx="413.30" cy="96.95" r="0.8" fill="#45a83c"/>
<circle cx="413.30" cy="83.39" r="0.8" fill="#45a83c"/>
<circle cx="413.30" cy="91.20" r="0.8" fill="#45a83c"/>
<circle cx="413.30" cy="88.98" r="0.8" fill="#45a83c"/>
<circle cx="415.10" cy="91.20" r="0.8" fill="#45a83c"/>
<circle cx="413.30" cy="77.29" r="0.8" fill="#45a83c"/>
<circle cx="415.10" cy="89.47" r="0.8" fill="#45a83c"/>
<circle cx="411.50" cy="90.57" r="0.8" fill="#45a83c"/>
<circle cx="414.20" cy="95.37" r="0.8" fill="#45a83c"/>
<circle cx="413.30" cy="102.40" r="0.8" fill="#45a83c"/>
<circle cx="415.10" cy="93.37" r="0.8" fill="#45a83c"/>
<circle cx="415.10" cy="76.50" r="0.8" fill="#45a83c"/>
<circle cx="414.20" cy="87.42" r="0.8" fill="#45a83c"/>
<circle cx="415.10" cy="102.27" r="0.8" fill="#45a83c"/>
<circle cx="413.30" cy="85.56" r="0.8" fill="#45a83c"/>
<circle cx="412.40" cy="95.44" r="0.8" fill="#45a83c"/>
<circle cx="413.30" cy="81.21" r="0.8" fill="#45a83c"/>
<circle cx="415.10" cy="80.47" r="0.8" fill="#45a83c"/>
<circle cx="416.00" cy="95.43" r="0.8" fill="#45a83c"/>
<circle cx="415.10" cy="83.04" r="0.8" fill="#45a83c"/>
<circle cx="415.10" cy="97.53" r="0.8" fill="#45a83c"/>
<circle cx="415.10" cy="85.40" r="0.8" fill="#45a83c"/>
<circle cx="411.50" cy="93.45" r="0.8" fill="#45a83c"/>
<circle cx="413.30" cy="99.30" r="0.8" fill="#45a83c"/>
<line x1="413.30" y1="92.50" x2="413.30" y2="98.60" stroke="#45a83c" stroke-width="0.9"/>
<line x1="411.05" y1="92.50" x2="415.55" y2="92.50" stroke="#45a83c" stroke-width="0.9"/>
<line x1="411.05" y1="98.60" x2="415.55" y2="98.60" stroke="#45a83c" stroke-width="0.9"/>
<line x1="408.30" y1="95.60" x2="418.30" y2="95.60" stroke="#1f2a3a" stroke-width="1.5"/>
<circle cx="427.90" cy="85.21" r="0.8" fill="#45a83c"/>
<circle cx="427.90" cy="100.08" r="0.8" fill="#45a83c"/>
<circle cx="427.90" cy="97.61" r="0.8" fill="#45a83c"/>
<circle cx="427.90" cy="67.40" r="0.8" fill="#45a83c"/>
<circle cx="427.90" cy="101.92" r="0.8" fill="#45a83c"/>
<circle cx="427.90" cy="89.25" r="0.8" fill="#45a83c"/>
<circle cx="427.90" cy="95.25" r="0.8" fill="#45a83c"/>
<circle cx="429.70" cy="68.71" r="0.8" fill="#45a83c"/>
<circle cx="427.90" cy="91.57" r="0.8" fill="#45a83c"/>
<circle cx="427.90" cy="78.03" r="0.8" fill="#45a83c"/>
<circle cx="427.90" cy="73.76" r="0.8" fill="#45a83c"/>
<circle cx="429.70" cy="97.35" r="0.8" fill="#45a83c"/>
<circle cx="429.70" cy="90.61" r="0.8" fill="#45a83c"/>
<circle cx="428.80" cy="103.43" r="0.8" fill="#45a83c"/>
<circle cx="427.90" cy="105.40" r="0.8" fill="#45a83c"/>
<circle cx="427.90" cy="93.46" r="0.8" fill="#45a83c"/>
<circle cx="429.70" cy="79.30" r="0.8" fill="#45a83c"/>
<circle cx="427.90" cy="79.98" r="0.8" fill="#45a83c"/>
<circle cx="429.70" cy="73.40" r="0.8" fill="#45a83c"/>
<circle cx="426.10" cy="74.95" r="0.8" fill="#45a83c"/>
<circle cx="429.70" cy="105.10" r="0.8" fill="#45a83c"/>
<circle cx="426.10" cy="80.20" r="0.8" fill="#45a83c"/>
<circle cx="426.10" cy="91.97" r="0.8" fill="#45a83c"/>
<circle cx="426.10" cy="102.55" r="0.8" fill="#45a83c"/>
<circle cx="430.60" cy="103.37" r="0.8" fill="#45a83c"/>
<circle cx="429.70" cy="101.87" r="0.8" fill="#45a83c"/>
<circle cx="426.10" cy="97.62" r="0.8" fill="#45a83c"/>
<circle cx="427.27" cy="96.90" r="0.8" fill="#45a83c"/>
<line x1="427.90" y1="90.20" x2="427.90" y2="98.60" stroke="#45a83c" stroke-width="0.9"/>
<line x1="425.65" y1="90.20" x2="430.15" y2="90.20" stroke="#45a83c" stroke-width="0.9"/>
<line x1="425.65" y1="98.60" x2="430.15" y2="98.60" stroke="#45a83c" stroke-width="0.9"/>
<line x1="422.90" y1="94.50" x2="432.90" y2="94.50" stroke="#1f2a3a" stroke-width="1.5"/>
<line x1="321.50" y1="30.60" x2="365.80" y2="30.60" stroke="#555" stroke-width="1.1"/>
<text x="343.80" y="30.20" font-size="6" text-anchor="middle" font-weight="bold" fill="#222" stroke="#222" stroke-width="0.2" letter-spacing="0.3">*</text>
<line x1="367.40" y1="30.60" x2="408.50" y2="30.60" stroke="#555" stroke-width="1.1"/>
<text x="388.10" y="30.20" font-size="6" text-anchor="middle" font-weight="bold" fill="#222" stroke="#222" stroke-width="0.2" letter-spacing="0.3">**</text>
<line x1="310.40" y1="36.60" x2="354.70" y2="36.60" stroke="#555" stroke-width="1.1"/>
<text x="332.70" y="36.20" font-size="6" text-anchor="middle" font-weight="bold" fill="#222" stroke="#222" stroke-width="0.2" letter-spacing="0.3">*</text>
<line x1="354.70" y1="36.60" x2="354.70" y2="38.60" stroke="#555" stroke-width="1"/>
<line x1="339.70" y1="47.20" x2="383.50" y2="47.20" stroke="#555" stroke-width="1.1"/>
<text x="361.75" y="46.80" font-size="6" text-anchor="middle" font-weight="bold" fill="#222" stroke="#222" stroke-width="0.2" letter-spacing="0.3">**</text>
<line x1="382.70" y1="60.20" x2="427.60" y2="60.20" stroke="#555" stroke-width="1.1"/>
<text x="405.30" y="59.80" font-size="6" text-anchor="middle" font-weight="bold" fill="#222" stroke="#222" stroke-width="0.2" letter-spacing="0.3">**</text>
<circle cx="445.00" cy="63.50" r="1.2" fill="#1a3a68"/>
<text x="449.60" y="66.20" font-size="7.6" textLength="51.9" lengthAdjust="spacingAndGlyphs" fill="#222" stroke="#222" stroke-width="0.2">NKG2A 440C/C</text>
<circle cx="445.75" cy="74.05" r="1.2" fill="#3f9fd8"/>
<text x="450.40" y="76.75" font-size="7.6" textLength="50" lengthAdjust="spacingAndGlyphs" fill="#222" stroke="#222" stroke-width="0.2">NKG2A 440C/T</text>
<circle cx="446.50" cy="84.60" r="1.2" fill="#45a83c"/>
<text x="451.20" y="87.30" font-size="7.6" textLength="48.1" lengthAdjust="spacingAndGlyphs" fill="#222" stroke="#222" stroke-width="0.2">NKG2A 440T/T</text>
<text x="6.60" y="168.20" font-size="11" font-weight="bold" fill="#000" stroke="#000" stroke-width="0.45">E</text>
<line x1="41.40" y1="175.80" x2="41.40" y2="279.00" stroke="#222" stroke-width="1.15"/>
<line x1="38.90" y1="278.60" x2="41.40" y2="278.60" stroke="#222" stroke-width="1.0"/>
<text x="35.20" y="281.60" font-size="7.6" text-anchor="end" fill="#222" stroke="#222" stroke-width="0.2">0</text>
<line x1="38.90" y1="259.54" x2="41.40" y2="259.54" stroke="#222" stroke-width="1.0"/>
<text x="35.20" y="262.54" font-size="7.6" text-anchor="end" fill="#222" stroke="#222" stroke-width="0.2">20</text>
<line x1="38.90" y1="240.48" x2="41.40" y2="240.48" stroke="#222" stroke-width="1.0"/>
<text x="35.20" y="243.48" font-size="7.6" text-anchor="end" fill="#222" stroke="#222" stroke-width="0.2">40</text>
<line x1="38.90" y1="221.42" x2="41.40" y2="221.42" stroke="#222" stroke-width="1.0"/>
<text x="35.20" y="224.42" font-size="7.6" text-anchor="end" fill="#222" stroke="#222" stroke-width="0.2">60</text>
<line x1="38.90" y1="202.36" x2="41.40" y2="202.36" stroke="#222" stroke-width="1.0"/>
<text x="35.20" y="205.36" font-size="7.6" text-anchor="end" fill="#222" stroke="#222" stroke-width="0.2">80</text>
<line x1="38.90" y1="183.30" x2="41.40" y2="183.30" stroke="#222" stroke-width="1.0"/>
<text x="35.20" y="186.30" font-size="7.6" text-anchor="end" fill="#222" stroke="#222" stroke-width="0.2">100</text>
<line x1="38.90" y1="278.60" x2="115.00" y2="278.60" stroke="#222" stroke-width="1.15"/>
<line x1="49.25" y1="278.60" x2="49.25" y2="281.60" stroke="#222" stroke-width="1.0"/>
<line x1="61.00" y1="278.60" x2="61.00" y2="281.60" stroke="#222" stroke-width="1.0"/>
<line x1="72.75" y1="278.60" x2="72.75" y2="281.60" stroke="#222" stroke-width="1.0"/>
<line x1="84.50" y1="278.60" x2="84.50" y2="281.60" stroke="#222" stroke-width="1.0"/>
<line x1="96.25" y1="278.60" x2="96.25" y2="281.60" stroke="#222" stroke-width="1.0"/>
<line x1="108.00" y1="278.60" x2="108.00" y2="281.60" stroke="#222" stroke-width="1.0"/>
<text x="16.70" y="227.00" font-size="9.4" text-anchor="middle" textLength="87.2" lengthAdjust="spacingAndGlyphs" transform="rotate(-90 16.70 227.00)" fill="#222" stroke="#222" stroke-width="0.25">Frequency of NKG2A<tspan font-size="5.4" dy="-2.6">+</tspan><tspan dy="2.6"> NK cells</tspan></text>
<text x="9.20" y="288.70" font-size="7.8" fill="#222" stroke="#222" stroke-width="0.2">NKG2C</text>
<text x="52.45" y="287.70" font-size="7.9" text-anchor="end" textLength="20.7" lengthAdjust="spacingAndGlyphs" transform="rotate(-45 52.45 287.70)" fill="#2a2a2a" stroke="#2a2a2a" stroke-width="0.15">V1/V1</text>
<text x="64.20" y="287.70" font-size="7.9" text-anchor="end" textLength="20.7" lengthAdjust="spacingAndGlyphs" transform="rotate(-45 64.20 287.70)" fill="#2a2a2a" stroke="#2a2a2a" stroke-width="0.15">V1/V2</text>
<text x="75.95" y="287.70" font-size="7.9" text-anchor="end" textLength="20.7" lengthAdjust="spacingAndGlyphs" transform="rotate(-45 75.95 287.70)" fill="#2a2a2a" stroke="#2a2a2a" stroke-width="0.15">V2/V2</text>
<text x="87.70" y="287.70" font-size="7.9" text-anchor="end" textLength="25.35" lengthAdjust="spacingAndGlyphs" transform="rotate(-45 87.70 287.70)" fill="#2a2a2a" stroke="#2a2a2a" stroke-width="0.15">V1/Neg</text>
<text x="99.45" y="287.70" font-size="7.9" text-anchor="end" textLength="25.35" lengthAdjust="spacingAndGlyphs" transform="rotate(-45 99.45 287.70)" fill="#2a2a2a" stroke="#2a2a2a" stroke-width="0.15">V2/Neg</text>
<text x="111.20" y="287.70" font-size="7.9" text-anchor="end" textLength="30.0" lengthAdjust="spacingAndGlyphs" transform="rotate(-45 111.20 287.70)" fill="#2a2a2a" stroke="#2a2a2a" stroke-width="0.15">Neg/Neg</text>
<circle cx="49.25" cy="234.06" r="0.95" fill="#c41a38"/>
<circle cx="49.25" cy="230.86" r="0.95" fill="#c41a38"/>
<circle cx="49.25" cy="262.03" r="0.95" fill="#c41a38"/>
<circle cx="51.25" cy="233.37" r="0.95" fill="#c41a38"/>
<circle cx="49.25" cy="240.21" r="0.95" fill="#c41a38"/>
<circle cx="51.25" cy="230.66" r="0.95" fill="#c41a38"/>
<circle cx="49.25" cy="252.48" r="0.95" fill="#c41a38"/>
<circle cx="49.25" cy="256.60" r="0.95" fill="#c41a38"/>
<circle cx="47.25" cy="230.38" r="0.95" fill="#c41a38"/>
<circle cx="49.25" cy="248.43" r="0.95" fill="#c41a38"/>
<circle cx="50.25" cy="250.00" r="0.95" fill="#c41a38"/>
<circle cx="48.24" cy="229.47" r="0.95" fill="#c41a38"/>
<circle cx="49.25" cy="243.21" r="0.95" fill="#c41a38"/>
<circle cx="51.25" cy="240.29" r="0.95" fill="#c41a38"/>
<circle cx="47.25" cy="239.67" r="0.95" fill="#c41a38"/>
<circle cx="47.75" cy="241.45" r="0.95" fill="#c41a38"/>
<circle cx="48.25" cy="251.05" r="0.95" fill="#c41a38"/>
<circle cx="49.25" cy="219.35" r="0.95" fill="#c41a38"/>
<circle cx="52.35" cy="241.28" r="0.95" fill="#c41a38"/>
<circle cx="49.25" cy="259.18" r="0.95" fill="#c41a38"/>
<circle cx="46.69" cy="240.09" r="0.95" fill="#c41a38"/>
<circle cx="50.75" cy="244.24" r="0.95" fill="#c41a38"/>
<circle cx="47.25" cy="234.54" r="0.95" fill="#c41a38"/>
<circle cx="49.25" cy="225.85" r="0.95" fill="#c41a38"/>
<circle cx="47.25" cy="243.29" r="0.95" fill="#c41a38"/>
<circle cx="49.25" cy="221.91" r="0.95" fill="#c41a38"/>
<circle cx="50.75" cy="255.67" r="0.95" fill="#c41a38"/>
<circle cx="52.25" cy="243.03" r="0.95" fill="#c41a38"/>
<circle cx="52.41" cy="242.83" r="0.95" fill="#c41a38"/>
<circle cx="50.25" cy="241.69" r="0.95" fill="#c41a38"/>
<circle cx="47.26" cy="239.23" r="0.95" fill="#c41a38"/>
<circle cx="48.28" cy="230.95" r="0.95" fill="#c41a38"/>
<circle cx="49.25" cy="237.63" r="0.95" fill="#c41a38"/>
<circle cx="49.25" cy="264.40" r="0.95" fill="#c41a38"/>
<circle cx="50.75" cy="225.00" r="0.95" fill="#c41a38"/>
<circle cx="50.75" cy="257.55" r="0.95" fill="#c41a38"/>
<circle cx="47.25" cy="225.26" r="0.95" fill="#c41a38"/>
<circle cx="51.25" cy="252.46" r="0.95" fill="#c41a38"/>
<circle cx="51.44" cy="240.62" r="0.95" fill="#c41a38"/>
<circle cx="49.25" cy="245.22" r="0.95" fill="#c41a38"/>
<circle cx="51.44" cy="240.34" r="0.95" fill="#c41a38"/>
<circle cx="48.79" cy="240.63" r="0.95" fill="#c41a38"/>
<circle cx="51.25" cy="261.95" r="0.95" fill="#c41a38"/>
<circle cx="46.18" cy="243.51" r="0.95" fill="#c41a38"/>
<circle cx="50.75" cy="218.53" r="0.95" fill="#c41a38"/>
<circle cx="49.07" cy="225.40" r="0.95" fill="#c41a38"/>
<circle cx="47.25" cy="219.86" r="0.95" fill="#c41a38"/>
<circle cx="52.25" cy="250.86" r="0.95" fill="#c41a38"/>
<circle cx="51.25" cy="247.78" r="0.95" fill="#c41a38"/>
<circle cx="47.25" cy="232.33" r="0.95" fill="#c41a38"/>
<circle cx="50.75" cy="226.99" r="0.95" fill="#c41a38"/>
<circle cx="48.38" cy="244.85" r="0.95" fill="#c41a38"/>
<circle cx="52.10" cy="241.90" r="0.95" fill="#c41a38"/>
<circle cx="47.16" cy="231.90" r="0.95" fill="#c41a38"/>
<circle cx="46.25" cy="251.25" r="0.95" fill="#c41a38"/>
<circle cx="47.25" cy="249.04" r="0.95" fill="#c41a38"/>
<circle cx="48.33" cy="244.40" r="0.95" fill="#c41a38"/>
<circle cx="47.75" cy="260.97" r="0.95" fill="#c41a38"/>
<circle cx="51.25" cy="237.23" r="0.95" fill="#c41a38"/>
<circle cx="51.95" cy="232.74" r="0.95" fill="#c41a38"/>
<circle cx="46.06" cy="233.56" r="0.95" fill="#c41a38"/>
<circle cx="48.64" cy="232.62" r="0.95" fill="#c41a38"/>
<circle cx="51.37" cy="252.25" r="0.95" fill="#c41a38"/>
<circle cx="51.06" cy="231.61" r="0.95" fill="#c41a38"/>
<circle cx="49.25" cy="214.80" r="0.95" fill="#c41a38"/>
<circle cx="46.13" cy="229.51" r="0.95" fill="#c41a38"/>
<circle cx="51.25" cy="259.86" r="0.95" fill="#c41a38"/>
<circle cx="46.09" cy="241.85" r="0.95" fill="#c41a38"/>
<circle cx="46.28" cy="234.27" r="0.95" fill="#c41a38"/>
<circle cx="52.11" cy="233.97" r="0.95" fill="#c41a38"/>
<circle cx="47.60" cy="248.91" r="0.95" fill="#c41a38"/>
<circle cx="50.93" cy="218.72" r="0.95" fill="#c41a38"/>
<circle cx="49.75" cy="254.12" r="0.95" fill="#c41a38"/>
<circle cx="46.75" cy="247.33" r="0.95" fill="#c41a38"/>
<circle cx="51.96" cy="232.81" r="0.95" fill="#c41a38"/>
<line x1="49.25" y1="237.54" x2="49.25" y2="243.26" stroke="#222" stroke-width="0.9"/>
<line x1="47.00" y1="237.54" x2="51.50" y2="237.54" stroke="#222" stroke-width="0.9"/>
<line x1="47.00" y1="243.26" x2="51.50" y2="243.26" stroke="#222" stroke-width="0.9"/>
<line x1="45.00" y1="240.40" x2="53.50" y2="240.40" stroke="#222" stroke-width="1.3"/>
<circle cx="61.00" cy="233.15" r="0.95" fill="#c41a38"/>
<circle cx="61.00" cy="196.80" r="0.95" fill="#c41a38"/>
<circle cx="61.00" cy="220.95" r="0.95" fill="#c41a38"/>
<circle cx="61.00" cy="228.12" r="0.95" fill="#c41a38"/>
<circle cx="61.00" cy="201.45" r="0.95" fill="#c41a38"/>
<circle cx="61.00" cy="212.77" r="0.95" fill="#c41a38"/>
<circle cx="61.00" cy="261.80" r="0.95" fill="#c41a38"/>
<circle cx="61.00" cy="230.95" r="0.95" fill="#c41a38"/>
<circle cx="61.00" cy="215.90" r="0.95" fill="#c41a38"/>
<circle cx="61.00" cy="246.70" r="0.95" fill="#c41a38"/>
<circle cx="61.00" cy="226.11" r="0.95" fill="#c41a38"/>
<circle cx="61.00" cy="238.75" r="0.95" fill="#c41a38"/>
<circle cx="63.00" cy="228.06" r="0.95" fill="#c41a38"/>
<circle cx="62.50" cy="219.73" r="0.95" fill="#c41a38"/>
<circle cx="59.00" cy="220.27" r="0.95" fill="#c41a38"/>
<circle cx="63.00" cy="201.66" r="0.95" fill="#c41a38"/>
<circle cx="63.00" cy="212.31" r="0.95" fill="#c41a38"/>
<circle cx="59.00" cy="226.89" r="0.95" fill="#c41a38"/>
<circle cx="63.00" cy="246.78" r="0.95" fill="#c41a38"/>
<circle cx="61.00" cy="209.67" r="0.95" fill="#c41a38"/>
<circle cx="58.00" cy="228.48" r="0.95" fill="#c41a38"/>
<circle cx="59.00" cy="212.97" r="0.95" fill="#c41a38"/>
<circle cx="63.00" cy="232.41" r="0.95" fill="#c41a38"/>
<circle cx="63.00" cy="230.64" r="0.95" fill="#c41a38"/>
<circle cx="60.29" cy="213.52" r="0.95" fill="#c41a38"/>
<circle cx="64.35" cy="213.52" r="0.95" fill="#c41a38"/>
<circle cx="61.00" cy="222.86" r="0.95" fill="#c41a38"/>
<circle cx="63.00" cy="221.50" r="0.95" fill="#c41a38"/>
<circle cx="62.50" cy="217.25" r="0.95" fill="#c41a38"/>
<circle cx="63.00" cy="223.57" r="0.95" fill="#c41a38"/>
<circle cx="59.00" cy="215.66" r="0.95" fill="#c41a38"/>
<circle cx="59.00" cy="232.92" r="0.95" fill="#c41a38"/>
<circle cx="61.00" cy="207.65" r="0.95" fill="#c41a38"/>
<circle cx="63.00" cy="209.25" r="0.95" fill="#c41a38"/>
<circle cx="61.00" cy="242.46" r="0.95" fill="#c41a38"/>
<circle cx="61.00" cy="218.23" r="0.95" fill="#c41a38"/>
<circle cx="62.00" cy="199.88" r="0.95" fill="#c41a38"/>
<circle cx="61.00" cy="203.24" r="0.95" fill="#c41a38"/>
<circle cx="59.50" cy="210.62" r="0.95" fill="#c41a38"/>
<circle cx="61.05" cy="227.51" r="0.95" fill="#c41a38"/>
<line x1="61.00" y1="216.46" x2="61.00" y2="226.74" stroke="#222" stroke-width="0.9"/>
<line x1="58.75" y1="216.46" x2="63.25" y2="216.46" stroke="#222" stroke-width="0.9"/>
<line x1="58.75" y1="226.74" x2="63.25" y2="226.74" stroke="#222" stroke-width="0.9"/>
<line x1="56.75" y1="221.60" x2="65.25" y2="221.60" stroke="#222" stroke-width="1.3"/>
<circle cx="72.75" cy="212.78" r="0.95" fill="#c41a38"/>
<circle cx="72.75" cy="197.60" r="0.95" fill="#c41a38"/>
<circle cx="72.75" cy="231.90" r="0.95" fill="#c41a38"/>
<circle cx="74.75" cy="231.48" r="0.95" fill="#c41a38"/>
<circle cx="72.75" cy="193.80" r="0.95" fill="#c41a38"/>
<line x1="72.75" y1="202.30" x2="72.75" y2="224.20" stroke="#222" stroke-width="0.9"/>
<line x1="70.50" y1="202.30" x2="75.00" y2="202.30" stroke="#222" stroke-width="0.9"/>
<line x1="70.50" y1="224.20" x2="75.00" y2="224.20" stroke="#222" stroke-width="0.9"/>
<line x1="68.50" y1="214.80" x2="77.00" y2="214.80" stroke="#222" stroke-width="1.3"/>
<circle cx="84.50" cy="235.27" r="0.95" fill="#c41a38"/>
<circle cx="84.50" cy="218.06" r="0.95" fill="#c41a38"/>
<circle cx="84.50" cy="221.17" r="0.95" fill="#c41a38"/>
<circle cx="84.50" cy="223.26" r="0.95" fill="#c41a38"/>
<circle cx="86.50" cy="218.24" r="0.95" fill="#c41a38"/>
<circle cx="84.50" cy="231.77" r="0.95" fill="#c41a38"/>
<circle cx="86.50" cy="223.31" r="0.95" fill="#c41a38"/>
<circle cx="84.50" cy="250.45" r="0.95" fill="#c41a38"/>
<circle cx="82.50" cy="223.49" r="0.95" fill="#c41a38"/>
<circle cx="84.50" cy="206.20" r="0.95" fill="#c41a38"/>
<circle cx="84.50" cy="229.77" r="0.95" fill="#c41a38"/>
<circle cx="86.50" cy="231.52" r="0.95" fill="#c41a38"/>
<circle cx="88.00" cy="222.34" r="0.95" fill="#c41a38"/>
<circle cx="84.50" cy="208.16" r="0.95" fill="#c41a38"/>
<circle cx="85.50" cy="233.32" r="0.95" fill="#c41a38"/>
<circle cx="84.50" cy="241.95" r="0.95" fill="#c41a38"/>
<circle cx="84.50" cy="253.20" r="0.95" fill="#c41a38"/>
<circle cx="86.50" cy="228.99" r="0.95" fill="#c41a38"/>
<circle cx="84.50" cy="237.78" r="0.95" fill="#c41a38"/>
<circle cx="82.50" cy="231.13" r="0.95" fill="#c41a38"/>
<circle cx="86.50" cy="238.06" r="0.95" fill="#c41a38"/>
<circle cx="84.50" cy="213.18" r="0.95" fill="#c41a38"/>
<circle cx="86.00" cy="219.95" r="0.95" fill="#c41a38"/>
<circle cx="84.50" cy="226.04" r="0.95" fill="#c41a38"/>
<circle cx="86.50" cy="234.96" r="0.95" fill="#c41a38"/>
<circle cx="86.00" cy="214.46" r="0.95" fill="#c41a38"/>
<circle cx="84.50" cy="227.75" r="0.95" fill="#c41a38"/>
<circle cx="86.50" cy="226.22" r="0.95" fill="#c41a38"/>
<circle cx="88.00" cy="224.34" r="0.95" fill="#c41a38"/>
<circle cx="88.00" cy="230.36" r="0.95" fill="#c41a38"/>
<circle cx="82.50" cy="217.46" r="0.95" fill="#c41a38"/>
<circle cx="86.50" cy="212.61" r="0.95" fill="#c41a38"/>
<circle cx="80.50" cy="222.92" r="0.95" fill="#c41a38"/>
<circle cx="83.00" cy="233.09" r="0.95" fill="#c41a38"/>
<circle cx="81.50" cy="219.02" r="0.95" fill="#c41a38"/>
<line x1="84.50" y1="224.53" x2="84.50" y2="232.47" stroke="#222" stroke-width="0.9"/>
<line x1="82.25" y1="224.53" x2="86.75" y2="224.53" stroke="#222" stroke-width="0.9"/>
<line x1="82.25" y1="232.47" x2="86.75" y2="232.47" stroke="#222" stroke-width="0.9"/>
<line x1="80.25" y1="228.50" x2="88.75" y2="228.50" stroke="#222" stroke-width="1.3"/>
<circle cx="96.25" cy="228.72" r="0.95" fill="#c41a38"/>
<circle cx="96.25" cy="209.65" r="0.95" fill="#c41a38"/>
<circle cx="96.25" cy="212.35" r="0.95" fill="#c41a38"/>
<circle cx="96.25" cy="223.82" r="0.95" fill="#c41a38"/>
<circle cx="96.25" cy="218.88" r="0.95" fill="#c41a38"/>
<circle cx="98.25" cy="219.62" r="0.95" fill="#c41a38"/>
<circle cx="96.25" cy="244.30" r="0.95" fill="#c41a38"/>
<circle cx="96.25" cy="238.47" r="0.95" fill="#c41a38"/>
<circle cx="96.25" cy="253.20" r="0.95" fill="#c41a38"/>
<circle cx="98.25" cy="229.51" r="0.95" fill="#c41a38"/>
<circle cx="96.25" cy="216.05" r="0.95" fill="#c41a38"/>
<circle cx="98.25" cy="223.09" r="0.95" fill="#c41a38"/>
<circle cx="96.25" cy="230.52" r="0.95" fill="#c41a38"/>
<circle cx="94.25" cy="228.11" r="0.95" fill="#c41a38"/>
<circle cx="96.25" cy="201.10" r="0.95" fill="#c41a38"/>
<circle cx="96.25" cy="221.01" r="0.95" fill="#c41a38"/>
<circle cx="94.25" cy="219.40" r="0.95" fill="#c41a38"/>
<circle cx="94.25" cy="229.82" r="0.95" fill="#c41a38"/>
<circle cx="96.25" cy="232.82" r="0.95" fill="#c41a38"/>
<circle cx="97.75" cy="215.22" r="0.95" fill="#c41a38"/>
<circle cx="97.75" cy="211.01" r="0.95" fill="#c41a38"/>
<circle cx="94.75" cy="222.58" r="0.95" fill="#c41a38"/>
<circle cx="94.25" cy="210.07" r="0.95" fill="#c41a38"/>
<circle cx="96.25" cy="205.34" r="0.95" fill="#c41a38"/>
<circle cx="94.75" cy="215.11" r="0.95" fill="#c41a38"/>
<circle cx="98.25" cy="206.02" r="0.95" fill="#c41a38"/>
<circle cx="93.75" cy="224.08" r="0.95" fill="#c41a38"/>
<circle cx="100.25" cy="223.62" r="0.95" fill="#c41a38"/>
<circle cx="96.25" cy="236.56" r="0.95" fill="#c41a38"/>
<circle cx="96.25" cy="226.73" r="0.95" fill="#c41a38"/>
<line x1="96.25" y1="216.04" x2="96.25" y2="225.56" stroke="#222" stroke-width="0.9"/>
<line x1="94.00" y1="216.04" x2="98.50" y2="216.04" stroke="#222" stroke-width="0.9"/>
<line x1="94.00" y1="225.56" x2="98.50" y2="225.56" stroke="#222" stroke-width="0.9"/>
<line x1="92.00" y1="220.80" x2="100.50" y2="220.80" stroke="#222" stroke-width="1.3"/>
<circle cx="108.00" cy="226.80" r="0.95" fill="#c41a38"/>
<circle cx="108.00" cy="238.70" r="0.95" fill="#c41a38"/>
<circle cx="108.00" cy="231.50" r="0.95" fill="#c41a38"/>
<circle cx="109.50" cy="232.49" r="0.95" fill="#c41a38"/>
<line x1="108.00" y1="227.22" x2="108.00" y2="233.17" stroke="#222" stroke-width="0.9"/>
<line x1="105.75" y1="227.22" x2="110.25" y2="227.22" stroke="#222" stroke-width="0.9"/>
<line x1="105.75" y1="233.17" x2="110.25" y2="233.17" stroke="#222" stroke-width="0.9"/>
<line x1="103.75" y1="230.20" x2="112.25" y2="230.20" stroke="#222" stroke-width="1.3"/>
<line x1="48.75" y1="179.80" x2="83.75" y2="179.80" stroke="#555" stroke-width="1.3"/>
<text x="66.35" y="180.00" font-size="6" text-anchor="middle" font-weight="bold" fill="#222" stroke="#222" stroke-width="0.2" letter-spacing="0.3">****</text>
<line x1="47.40" y1="186.80" x2="82.40" y2="186.80" stroke="#555" stroke-width="1.3"/>
<text x="60.35" y="187.70" font-size="6" text-anchor="middle" font-weight="bold" fill="#222" stroke="#222" stroke-width="0.2" letter-spacing="0.3">****</text>
<line x1="47.40" y1="194.60" x2="58.80" y2="194.60" stroke="#555" stroke-width="1.3"/>
<text x="52.95" y="195.10" font-size="6" text-anchor="middle" font-weight="bold" fill="#222" stroke="#222" stroke-width="0.2" letter-spacing="0.3">****</text>
<line x1="84.40" y1="196.00" x2="96.50" y2="196.00" stroke="#555" stroke-width="1.3"/>
<text x="90.35" y="195.50" font-size="6" text-anchor="middle" font-weight="bold" fill="#222" stroke="#222" stroke-width="0.2" letter-spacing="0.3">*</text>
<line x1="165.60" y1="180.80" x2="165.60" y2="279.00" stroke="#222" stroke-width="1.15"/>
<line x1="163.10" y1="278.60" x2="165.60" y2="278.60" stroke="#222" stroke-width="1.0"/>
<text x="159.60" y="281.60" font-size="7.6" text-anchor="end" fill="#222" stroke="#222" stroke-width="0.2">0</text>
<line x1="163.10" y1="259.54" x2="165.60" y2="259.54" stroke="#222" stroke-width="1.0"/>
<text x="159.60" y="262.54" font-size="7.6" text-anchor="end" fill="#222" stroke="#222" stroke-width="0.2">20</text>
<line x1="163.10" y1="240.48" x2="165.60" y2="240.48" stroke="#222" stroke-width="1.0"/>
<text x="159.60" y="243.48" font-size="7.6" text-anchor="end" fill="#222" stroke="#222" stroke-width="0.2">40</text>
<line x1="163.10" y1="221.42" x2="165.60" y2="221.42" stroke="#222" stroke-width="1.0"/>
<text x="159.60" y="224.42" font-size="7.6" text-anchor="end" fill="#222" stroke="#222" stroke-width="0.2">60</text>
<line x1="163.10" y1="202.36" x2="165.60" y2="202.36" stroke="#222" stroke-width="1.0"/>
<text x="159.60" y="205.36" font-size="7.6" text-anchor="end" fill="#222" stroke="#222" stroke-width="0.2">80</text>
<line x1="163.10" y1="183.30" x2="165.60" y2="183.30" stroke="#222" stroke-width="1.0"/>
<text x="159.60" y="186.30" font-size="7.6" text-anchor="end" fill="#222" stroke="#222" stroke-width="0.2">100</text>
<line x1="163.10" y1="278.60" x2="303.50" y2="278.60" stroke="#222" stroke-width="1.15"/>
<line x1="173.10" y1="278.60" x2="173.10" y2="281.60" stroke="#222" stroke-width="1.0"/>
<line x1="184.34" y1="278.60" x2="184.34" y2="281.60" stroke="#222" stroke-width="1.0"/>
<line x1="195.58" y1="278.60" x2="195.58" y2="281.60" stroke="#222" stroke-width="1.0"/>
<line x1="206.82" y1="278.60" x2="206.82" y2="281.60" stroke="#222" stroke-width="1.0"/>
<line x1="218.06" y1="278.60" x2="218.06" y2="281.60" stroke="#222" stroke-width="1.0"/>
<line x1="229.30" y1="278.60" x2="229.30" y2="281.60" stroke="#222" stroke-width="1.0"/>
<line x1="240.54" y1="278.60" x2="240.54" y2="281.60" stroke="#222" stroke-width="1.0"/>
<line x1="251.78" y1="278.60" x2="251.78" y2="281.60" stroke="#222" stroke-width="1.0"/>
<line x1="263.02" y1="278.60" x2="263.02" y2="281.60" stroke="#222" stroke-width="1.0"/>
<line x1="274.26" y1="278.60" x2="274.26" y2="281.60" stroke="#222" stroke-width="1.0"/>
<line x1="285.50" y1="278.60" x2="285.50" y2="281.60" stroke="#222" stroke-width="1.0"/>
<line x1="296.74" y1="278.60" x2="296.74" y2="281.60" stroke="#222" stroke-width="1.0"/>
<text x="140.90" y="229.50" font-size="9.4" text-anchor="middle" textLength="86.9" lengthAdjust="spacingAndGlyphs" transform="rotate(-90 140.90 229.50)" fill="#222" stroke="#222" stroke-width="0.25">Frequency of NKG2A<tspan font-size="5.4" dy="-2.6">+</tspan><tspan dy="2.6"> NK cells</tspan></text>
<text x="133.10" y="288.90" font-size="7.8" fill="#222" stroke="#222" stroke-width="0.2">NKG2C</text>
<text x="181.62" y="287.70" font-size="7.9" text-anchor="end" textLength="20.7" lengthAdjust="spacingAndGlyphs" transform="rotate(-45 181.62 287.70)" fill="#2a2a2a" stroke="#2a2a2a" stroke-width="0.15">V1/V1</text>
<text x="204.10" y="287.70" font-size="7.9" text-anchor="end" textLength="20.7" lengthAdjust="spacingAndGlyphs" transform="rotate(-45 204.10 287.70)" fill="#2a2a2a" stroke="#2a2a2a" stroke-width="0.15">V1/V2</text>
<text x="226.58" y="287.70" font-size="7.9" text-anchor="end" textLength="20.7" lengthAdjust="spacingAndGlyphs" transform="rotate(-45 226.58 287.70)" fill="#2a2a2a" stroke="#2a2a2a" stroke-width="0.15">V2/V2</text>
<text x="249.06" y="287.70" font-size="7.9" text-anchor="end" textLength="25.35" lengthAdjust="spacingAndGlyphs" transform="rotate(-45 249.06 287.70)" fill="#2a2a2a" stroke="#2a2a2a" stroke-width="0.15">V1/Neg</text>
<text x="271.54" y="287.70" font-size="7.9" text-anchor="end" textLength="25.35" lengthAdjust="spacingAndGlyphs" transform="rotate(-45 271.54 287.70)" fill="#2a2a2a" stroke="#2a2a2a" stroke-width="0.15">V2/Neg</text>
<text x="294.02" y="287.70" font-size="7.9" text-anchor="end" textLength="30.0" lengthAdjust="spacingAndGlyphs" transform="rotate(-45 294.02 287.70)" fill="#2a2a2a" stroke="#2a2a2a" stroke-width="0.15">Neg/Neg</text>
<circle cx="173.10" cy="225.91" r="0.8" fill="#3aa5c9"/>
<circle cx="173.10" cy="241.77" r="0.8" fill="#3aa5c9"/>
<circle cx="173.10" cy="237.94" r="0.8" fill="#3aa5c9"/>
<circle cx="173.10" cy="233.96" r="0.8" fill="#3aa5c9"/>
<circle cx="173.10" cy="250.90" r="0.8" fill="#3aa5c9"/>
<circle cx="174.50" cy="239.99" r="0.8" fill="#3aa5c9"/>
<circle cx="173.10" cy="215.00" r="0.8" fill="#3aa5c9"/>
<circle cx="175.20" cy="242.91" r="0.8" fill="#3aa5c9"/>
<circle cx="174.50" cy="236.51" r="0.8" fill="#3aa5c9"/>
<circle cx="173.10" cy="246.69" r="0.8" fill="#3aa5c9"/>
<circle cx="171.00" cy="242.34" r="0.8" fill="#3aa5c9"/>
<circle cx="170.24" cy="242.91" r="0.8" fill="#3aa5c9"/>
<circle cx="171.70" cy="239.39" r="0.8" fill="#3aa5c9"/>
<circle cx="176.60" cy="238.60" r="0.8" fill="#3aa5c9"/>
<line x1="173.10" y1="230.70" x2="173.10" y2="238.70" stroke="#3aa5c9" stroke-width="0.9"/>
<line x1="170.85" y1="230.70" x2="175.35" y2="230.70" stroke="#3aa5c9" stroke-width="0.9"/>
<line x1="170.85" y1="238.70" x2="175.35" y2="238.70" stroke="#3aa5c9" stroke-width="0.9"/>
<line x1="168.85" y1="234.70" x2="177.35" y2="234.70" stroke="#1f6f8b" stroke-width="1.3"/>
<circle cx="184.34" cy="223.03" r="0.85" fill="#c41a38"/>
<circle cx="184.34" cy="218.98" r="0.85" fill="#c41a38"/>
<circle cx="184.34" cy="230.01" r="0.85" fill="#c41a38"/>
<circle cx="184.34" cy="243.15" r="0.85" fill="#c41a38"/>
<circle cx="184.34" cy="248.93" r="0.85" fill="#c41a38"/>
<circle cx="184.34" cy="245.07" r="0.85" fill="#c41a38"/>
<circle cx="184.34" cy="253.84" r="0.85" fill="#c41a38"/>
<circle cx="186.34" cy="242.93" r="0.85" fill="#c41a38"/>
<circle cx="184.34" cy="227.18" r="0.85" fill="#c41a38"/>
<circle cx="184.34" cy="215.00" r="0.85" fill="#c41a38"/>
<circle cx="186.34" cy="227.17" r="0.85" fill="#c41a38"/>
<circle cx="185.34" cy="220.37" r="0.85" fill="#c41a38"/>
<circle cx="182.84" cy="241.99" r="0.85" fill="#c41a38"/>
<circle cx="186.34" cy="248.78" r="0.85" fill="#c41a38"/>
<circle cx="181.84" cy="243.43" r="0.85" fill="#c41a38"/>
<circle cx="182.34" cy="219.31" r="0.85" fill="#c41a38"/>
<circle cx="186.34" cy="245.59" r="0.85" fill="#c41a38"/>
<circle cx="184.34" cy="256.12" r="0.85" fill="#c41a38"/>
<circle cx="184.34" cy="264.60" r="0.85" fill="#c41a38"/>
<circle cx="182.34" cy="248.97" r="0.85" fill="#c41a38"/>
<circle cx="184.34" cy="237.03" r="0.85" fill="#c41a38"/>
<circle cx="185.34" cy="238.46" r="0.85" fill="#c41a38"/>
<circle cx="184.34" cy="225.46" r="0.85" fill="#c41a38"/>
<circle cx="185.84" cy="255.34" r="0.85" fill="#c41a38"/>
<circle cx="185.84" cy="224.26" r="0.85" fill="#c41a38"/>
<circle cx="186.95" cy="242.69" r="0.85" fill="#c41a38"/>
<circle cx="182.84" cy="224.44" r="0.85" fill="#c41a38"/>
<circle cx="182.84" cy="238.27" r="0.85" fill="#c41a38"/>
<circle cx="186.34" cy="236.59" r="0.85" fill="#c41a38"/>
<circle cx="185.84" cy="263.41" r="0.85" fill="#c41a38"/>
<circle cx="187.34" cy="238.94" r="0.85" fill="#c41a38"/>
<circle cx="182.34" cy="226.82" r="0.85" fill="#c41a38"/>
<circle cx="181.34" cy="237.36" r="0.85" fill="#c41a38"/>
<circle cx="184.34" cy="234.81" r="0.85" fill="#c41a38"/>
<circle cx="181.91" cy="223.97" r="0.85" fill="#c41a38"/>
<circle cx="182.54" cy="238.42" r="0.85" fill="#c41a38"/>
<circle cx="185.84" cy="234.08" r="0.85" fill="#c41a38"/>
<circle cx="185.35" cy="224.72" r="0.85" fill="#c41a38"/>
<circle cx="186.34" cy="230.39" r="0.85" fill="#c41a38"/>
<circle cx="182.84" cy="236.22" r="0.85" fill="#c41a38"/>
<circle cx="184.34" cy="232.42" r="0.85" fill="#c41a38"/>
<circle cx="182.84" cy="231.54" r="0.85" fill="#c41a38"/>
<circle cx="183.84" cy="221.38" r="0.85" fill="#c41a38"/>
<circle cx="181.19" cy="227.66" r="0.85" fill="#c41a38"/>
<circle cx="186.34" cy="222.68" r="0.85" fill="#c41a38"/>
<line x1="184.34" y1="238.42" x2="184.34" y2="244.58" stroke="#c41a38" stroke-width="0.9"/>
<line x1="182.09" y1="238.42" x2="186.59" y2="238.42" stroke="#c41a38" stroke-width="0.9"/>
<line x1="182.09" y1="244.58" x2="186.59" y2="244.58" stroke="#c41a38" stroke-width="0.9"/>
<line x1="180.09" y1="241.50" x2="188.59" y2="241.50" stroke="#8a1022" stroke-width="1.3"/>
<circle cx="195.58" cy="207.89" r="0.8" fill="#3aa5c9"/>
<circle cx="195.58" cy="213.73" r="0.8" fill="#3aa5c9"/>
<circle cx="197.68" cy="206.93" r="0.8" fill="#3aa5c9"/>
<circle cx="197.68" cy="215.05" r="0.8" fill="#3aa5c9"/>
<circle cx="195.58" cy="221.80" r="0.8" fill="#3aa5c9"/>
<circle cx="195.58" cy="210.18" r="0.8" fill="#3aa5c9"/>
<circle cx="195.58" cy="216.51" r="0.8" fill="#3aa5c9"/>
<circle cx="195.58" cy="203.40" r="0.8" fill="#3aa5c9"/>
<circle cx="193.48" cy="216.44" r="0.8" fill="#3aa5c9"/>
<circle cx="197.68" cy="211.40" r="0.8" fill="#3aa5c9"/>
<circle cx="195.58" cy="197.00" r="0.8" fill="#3aa5c9"/>
<circle cx="195.58" cy="205.69" r="0.8" fill="#3aa5c9"/>
<line x1="195.58" y1="208.52" x2="195.58" y2="214.48" stroke="#3aa5c9" stroke-width="0.9"/>
<line x1="193.33" y1="208.52" x2="197.83" y2="208.52" stroke="#3aa5c9" stroke-width="0.9"/>
<line x1="193.33" y1="214.48" x2="197.83" y2="214.48" stroke="#3aa5c9" stroke-width="0.9"/>
<line x1="191.33" y1="211.50" x2="199.83" y2="211.50" stroke="#1f6f8b" stroke-width="1.3"/>
<circle cx="206.82" cy="227.11" r="0.85" fill="#c41a38"/>
<circle cx="206.82" cy="232.77" r="0.85" fill="#c41a38"/>
<circle cx="206.82" cy="241.59" r="0.85" fill="#c41a38"/>
<circle cx="206.82" cy="237.99" r="0.85" fill="#c41a38"/>
<circle cx="206.82" cy="244.78" r="0.85" fill="#c41a38"/>
<circle cx="207.82" cy="243.34" r="0.85" fill="#c41a38"/>
<circle cx="208.82" cy="238.22" r="0.85" fill="#c41a38"/>
<circle cx="205.32" cy="243.92" r="0.85" fill="#c41a38"/>
<circle cx="208.82" cy="232.83" r="0.85" fill="#c41a38"/>
<circle cx="209.32" cy="242.53" r="0.85" fill="#c41a38"/>
<circle cx="206.82" cy="236.23" r="0.85" fill="#c41a38"/>
<circle cx="206.82" cy="210.19" r="0.85" fill="#c41a38"/>
<circle cx="206.82" cy="214.26" r="0.85" fill="#c41a38"/>
<circle cx="206.82" cy="217.32" r="0.85" fill="#c41a38"/>
<circle cx="207.82" cy="228.51" r="0.85" fill="#c41a38"/>
<circle cx="206.82" cy="255.24" r="0.85" fill="#c41a38"/>
<circle cx="208.32" cy="215.23" r="0.85" fill="#c41a38"/>
<circle cx="206.82" cy="222.66" r="0.85" fill="#c41a38"/>
<circle cx="208.32" cy="218.29" r="0.85" fill="#c41a38"/>
<circle cx="204.82" cy="227.49" r="0.85" fill="#c41a38"/>
<circle cx="208.82" cy="222.31" r="0.85" fill="#c41a38"/>
<circle cx="206.82" cy="204.70" r="0.85" fill="#c41a38"/>
<circle cx="207.82" cy="211.66" r="0.85" fill="#c41a38"/>
<circle cx="205.32" cy="218.38" r="0.85" fill="#c41a38"/>
<circle cx="208.32" cy="226.03" r="0.85" fill="#c41a38"/>
<circle cx="208.32" cy="240.62" r="0.85" fill="#c41a38"/>
<circle cx="206.82" cy="262.90" r="0.85" fill="#c41a38"/>
<circle cx="208.32" cy="235.54" r="0.85" fill="#c41a38"/>
<line x1="206.82" y1="222.92" x2="206.82" y2="232.08" stroke="#c41a38" stroke-width="0.9"/>
<line x1="204.57" y1="222.92" x2="209.07" y2="222.92" stroke="#c41a38" stroke-width="0.9"/>
<line x1="204.57" y1="232.08" x2="209.07" y2="232.08" stroke="#c41a38" stroke-width="0.9"/>
<line x1="202.57" y1="227.50" x2="211.07" y2="227.50" stroke="#8a1022" stroke-width="1.3"/>
<circle cx="218.06" cy="216.50" r="0.8" fill="#3aa5c9"/>
<circle cx="219.46" cy="218.00" r="0.8" fill="#3aa5c9"/>
<line x1="218.06" y1="216.20" x2="218.06" y2="218.20" stroke="#3aa5c9" stroke-width="0.9"/>
<line x1="215.81" y1="216.20" x2="220.31" y2="216.20" stroke="#3aa5c9" stroke-width="0.9"/>
<line x1="215.81" y1="218.20" x2="220.31" y2="218.20" stroke="#3aa5c9" stroke-width="0.9"/>
<line x1="213.81" y1="217.20" x2="222.31" y2="217.20" stroke="#1f6f8b" stroke-width="1.3"/>
<circle cx="229.30" cy="212.89" r="0.85" fill="#c41a38"/>
<circle cx="229.30" cy="215.21" r="0.85" fill="#c41a38"/>
<circle cx="229.30" cy="218.95" r="0.85" fill="#c41a38"/>
<circle cx="229.30" cy="232.90" r="0.85" fill="#c41a38"/>
<circle cx="229.30" cy="194.40" r="0.85" fill="#c41a38"/>
<circle cx="229.30" cy="209.50" r="0.85" fill="#c41a38"/>
<line x1="229.30" y1="207.30" x2="229.30" y2="218.40" stroke="#c41a38" stroke-width="0.9"/>
<line x1="227.05" y1="207.30" x2="231.55" y2="207.30" stroke="#c41a38" stroke-width="0.9"/>
<line x1="227.05" y1="218.40" x2="231.55" y2="218.40" stroke="#c41a38" stroke-width="0.9"/>
<line x1="225.05" y1="212.70" x2="233.55" y2="212.70" stroke="#8a1022" stroke-width="1.3"/>
<circle cx="240.54" cy="222.39" r="0.8" fill="#3aa5c9"/>
<circle cx="240.54" cy="212.82" r="0.8" fill="#3aa5c9"/>
<circle cx="242.64" cy="222.25" r="0.8" fill="#3aa5c9"/>
<circle cx="240.54" cy="252.50" r="0.8" fill="#3aa5c9"/>
<circle cx="240.54" cy="232.79" r="0.8" fill="#3aa5c9"/>
<circle cx="241.94" cy="211.13" r="0.8" fill="#3aa5c9"/>
<circle cx="240.54" cy="215.90" r="0.8" fill="#3aa5c9"/>
<circle cx="240.54" cy="207.20" r="0.8" fill="#3aa5c9"/>
<circle cx="240.54" cy="228.90" r="0.8" fill="#3aa5c9"/>
<circle cx="240.54" cy="246.89" r="0.8" fill="#3aa5c9"/>
<circle cx="240.54" cy="235.30" r="0.8" fill="#3aa5c9"/>
<circle cx="242.64" cy="232.97" r="0.8" fill="#3aa5c9"/>
<line x1="240.54" y1="220.95" x2="240.54" y2="231.85" stroke="#3aa5c9" stroke-width="0.9"/>
<line x1="238.29" y1="220.95" x2="242.79" y2="220.95" stroke="#3aa5c9" stroke-width="0.9"/>
<line x1="238.29" y1="231.85" x2="242.79" y2="231.85" stroke="#3aa5c9" stroke-width="0.9"/>
<line x1="236.29" y1="226.40" x2="244.79" y2="226.40" stroke="#1f6f8b" stroke-width="1.3"/>
<circle cx="251.78" cy="235.57" r="0.85" fill="#c41a38"/>
<circle cx="251.78" cy="213.29" r="0.85" fill="#c41a38"/>
<circle cx="251.78" cy="221.91" r="0.85" fill="#c41a38"/>
<circle cx="251.78" cy="227.67" r="0.85" fill="#c41a38"/>
<circle cx="251.78" cy="224.81" r="0.85" fill="#c41a38"/>
<circle cx="253.78" cy="213.20" r="0.85" fill="#c41a38"/>
<circle cx="252.78" cy="220.49" r="0.85" fill="#c41a38"/>
<circle cx="251.78" cy="230.47" r="0.85" fill="#c41a38"/>
<circle cx="253.78" cy="235.62" r="0.85" fill="#c41a38"/>
<circle cx="251.78" cy="239.51" r="0.85" fill="#c41a38"/>
<circle cx="253.28" cy="226.64" r="0.85" fill="#c41a38"/>
<circle cx="251.78" cy="217.12" r="0.85" fill="#c41a38"/>
<circle cx="250.78" cy="220.20" r="0.85" fill="#c41a38"/>
<circle cx="253.78" cy="239.05" r="0.85" fill="#c41a38"/>
<circle cx="249.78" cy="221.69" r="0.85" fill="#c41a38"/>
<circle cx="252.78" cy="228.93" r="0.85" fill="#c41a38"/>
<circle cx="251.78" cy="248.20" r="0.85" fill="#c41a38"/>
<circle cx="254.28" cy="219.43" r="0.85" fill="#c41a38"/>
<circle cx="250.28" cy="229.37" r="0.85" fill="#c41a38"/>
<circle cx="254.78" cy="228.73" r="0.85" fill="#c41a38"/>
<circle cx="249.78" cy="227.81" r="0.85" fill="#c41a38"/>
<circle cx="250.78" cy="238.26" r="0.85" fill="#c41a38"/>
<circle cx="252.78" cy="231.89" r="0.85" fill="#c41a38"/>
<circle cx="251.28" cy="232.84" r="0.85" fill="#c41a38"/>
<circle cx="251.78" cy="245.25" r="0.85" fill="#c41a38"/>
<line x1="251.78" y1="226.88" x2="251.78" y2="232.72" stroke="#c41a38" stroke-width="0.9"/>
<line x1="249.53" y1="226.88" x2="254.03" y2="226.88" stroke="#c41a38" stroke-width="0.9"/>
<line x1="249.53" y1="232.72" x2="254.03" y2="232.72" stroke="#c41a38" stroke-width="0.9"/>
<line x1="247.53" y1="229.80" x2="256.03" y2="229.80" stroke="#8a1022" stroke-width="1.3"/>
<circle cx="263.02" cy="208.98" r="0.8" fill="#3aa5c9"/>
<circle cx="263.02" cy="215.15" r="0.8" fill="#3aa5c9"/>
<circle cx="265.12" cy="215.23" r="0.8" fill="#3aa5c9"/>
<circle cx="263.02" cy="221.71" r="0.8" fill="#3aa5c9"/>
<circle cx="260.92" cy="216.24" r="0.8" fill="#3aa5c9"/>
<circle cx="260.92" cy="214.21" r="0.8" fill="#3aa5c9"/>
<circle cx="263.54" cy="216.23" r="0.8" fill="#3aa5c9"/>
<circle cx="263.02" cy="228.60" r="0.8" fill="#3aa5c9"/>
<circle cx="265.12" cy="222.98" r="0.8" fill="#3aa5c9"/>
<circle cx="261.53" cy="216.13" r="0.8" fill="#3aa5c9"/>
<circle cx="263.02" cy="199.50" r="0.8" fill="#3aa5c9"/>
<circle cx="262.57" cy="216.39" r="0.8" fill="#3aa5c9"/>
<line x1="263.02" y1="211.40" x2="263.02" y2="218.40" stroke="#3aa5c9" stroke-width="0.9"/>
<line x1="260.77" y1="211.40" x2="265.27" y2="211.40" stroke="#3aa5c9" stroke-width="0.9"/>
<line x1="260.77" y1="218.40" x2="265.27" y2="218.40" stroke="#3aa5c9" stroke-width="0.9"/>
<line x1="258.77" y1="214.90" x2="267.27" y2="214.90" stroke="#1f6f8b" stroke-width="1.3"/>
<circle cx="274.26" cy="246.46" r="0.85" fill="#c41a38"/>
<circle cx="274.26" cy="228.33" r="0.85" fill="#c41a38"/>
<circle cx="275.76" cy="227.56" r="0.85" fill="#c41a38"/>
<circle cx="274.26" cy="224.29" r="0.85" fill="#c41a38"/>
<circle cx="274.76" cy="225.83" r="0.85" fill="#c41a38"/>
<circle cx="274.26" cy="202.10" r="0.85" fill="#c41a38"/>
<circle cx="274.26" cy="234.58" r="0.85" fill="#c41a38"/>
<circle cx="274.26" cy="212.45" r="0.85" fill="#c41a38"/>
<circle cx="272.76" cy="227.76" r="0.85" fill="#c41a38"/>
<circle cx="274.26" cy="232.24" r="0.85" fill="#c41a38"/>
<circle cx="274.26" cy="251.57" r="0.85" fill="#c41a38"/>
<circle cx="275.26" cy="230.84" r="0.85" fill="#c41a38"/>
<circle cx="274.26" cy="209.68" r="0.85" fill="#c41a38"/>
<circle cx="274.26" cy="207.77" r="0.85" fill="#c41a38"/>
<circle cx="275.76" cy="252.50" r="0.85" fill="#c41a38"/>
<circle cx="277.26" cy="228.50" r="0.85" fill="#c41a38"/>
<circle cx="273.75" cy="227.79" r="0.85" fill="#c41a38"/>
<circle cx="274.26" cy="219.68" r="0.85" fill="#c41a38"/>
<line x1="274.26" y1="219.35" x2="274.26" y2="229.25" stroke="#c41a38" stroke-width="0.9"/>
<line x1="272.01" y1="219.35" x2="276.51" y2="219.35" stroke="#c41a38" stroke-width="0.9"/>
<line x1="272.01" y1="229.25" x2="276.51" y2="229.25" stroke="#c41a38" stroke-width="0.9"/>
<line x1="270.01" y1="224.30" x2="278.51" y2="224.30" stroke="#8a1022" stroke-width="1.3"/>
<circle cx="285.50" cy="225.20" r="0.8" fill="#3aa5c9"/>
<circle cx="285.50" cy="228.02" r="0.8" fill="#3aa5c9"/>
<circle cx="287.60" cy="229.40" r="0.8" fill="#3aa5c9"/>
<line x1="285.50" y1="226.39" x2="285.50" y2="228.41" stroke="#3aa5c9" stroke-width="0.9"/>
<line x1="283.25" y1="226.39" x2="287.75" y2="226.39" stroke="#3aa5c9" stroke-width="0.9"/>
<line x1="283.25" y1="228.41" x2="287.75" y2="228.41" stroke="#3aa5c9" stroke-width="0.9"/>
<line x1="281.25" y1="227.40" x2="289.75" y2="227.40" stroke="#1f6f8b" stroke-width="1.3"/>
<circle cx="296.74" cy="234.18" r="0.85" fill="#c41a38"/>
<circle cx="296.74" cy="227.40" r="0.85" fill="#c41a38"/>
<circle cx="298.24" cy="235.22" r="0.85" fill="#c41a38"/>
<circle cx="296.74" cy="238.80" r="0.85" fill="#c41a38"/>
<line x1="296.74" y1="229.62" x2="296.74" y2="234.38" stroke="#c41a38" stroke-width="0.9"/>
<line x1="294.49" y1="229.62" x2="298.99" y2="229.62" stroke="#c41a38" stroke-width="0.9"/>
<line x1="294.49" y1="234.38" x2="298.99" y2="234.38" stroke="#c41a38" stroke-width="0.9"/>
<line x1="292.49" y1="232.00" x2="300.99" y2="232.00" stroke="#8a1022" stroke-width="1.3"/>
<line x1="172.50" y1="210.50" x2="183.75" y2="210.50" stroke="#333" stroke-width="1.1"/>
<text x="178.28" y="210.30" font-size="6" text-anchor="middle" font-weight="bold" fill="#222" stroke="#222" stroke-width="0.2" letter-spacing="0.3">*</text>
<line x1="195.50" y1="194.20" x2="206.25" y2="194.20" stroke="#333" stroke-width="1.1"/>
<text x="201.03" y="194.55" font-size="6" text-anchor="middle" font-weight="bold" fill="#222" stroke="#222" stroke-width="0.2" letter-spacing="0.3">***</text>
<line x1="262.50" y1="195.50" x2="274.25" y2="195.50" stroke="#333" stroke-width="1.1"/>
<text x="268.52" y="195.05" font-size="6" text-anchor="middle" font-weight="bold" fill="#222" stroke="#222" stroke-width="0.2" letter-spacing="0.3">*</text>
<circle cx="201.6" cy="319.3" r="1.2" fill="#3aa5c9"/>
<text x="206.30" y="321.90" font-size="7" textLength="24.4" lengthAdjust="spacingAndGlyphs" fill="#222" stroke="#222" stroke-width="0.2">HCMV−</text>
<circle cx="238.4" cy="319.3" r="1.2" fill="#c41a38"/>
<text x="242.60" y="321.90" font-size="7" textLength="25.0" lengthAdjust="spacingAndGlyphs" fill="#222" stroke="#222" stroke-width="0.2">HCMV+</text>
<text x="318.60" y="169.20" font-size="11" font-weight="bold" fill="#000" stroke="#000" stroke-width="0.45">F</text>
<line x1="357.90" y1="180.50" x2="357.90" y2="279.00" stroke="#222" stroke-width="1.15"/>
<line x1="355.40" y1="278.90" x2="357.90" y2="278.90" stroke="#222" stroke-width="1.0"/>
<text x="352.30" y="281.90" font-size="7.6" text-anchor="end" fill="#222" stroke="#222" stroke-width="0.2">0</text>
<line x1="355.40" y1="255.15" x2="357.90" y2="255.15" stroke="#222" stroke-width="1.0"/>
<text x="352.30" y="258.15" font-size="7.6" text-anchor="end" fill="#222" stroke="#222" stroke-width="0.2">2000</text>
<line x1="355.40" y1="231.40" x2="357.90" y2="231.40" stroke="#222" stroke-width="1.0"/>
<text x="352.30" y="234.40" font-size="7.6" text-anchor="end" fill="#222" stroke="#222" stroke-width="0.2">4000</text>
<line x1="355.40" y1="207.65" x2="357.90" y2="207.65" stroke="#222" stroke-width="1.0"/>
<text x="352.30" y="210.65" font-size="7.6" text-anchor="end" fill="#222" stroke="#222" stroke-width="0.2">6000</text>
<line x1="355.40" y1="183.90" x2="357.90" y2="183.90" stroke="#222" stroke-width="1.0"/>
<text x="352.30" y="186.90" font-size="7.6" text-anchor="end" fill="#222" stroke="#222" stroke-width="0.2">8000</text>
<line x1="355.40" y1="278.70" x2="436.50" y2="278.70" stroke="#222" stroke-width="1.15"/>
<line x1="366.00" y1="278.70" x2="366.00" y2="281.70" stroke="#222" stroke-width="1.0"/>
<line x1="378.70" y1="278.70" x2="378.70" y2="281.70" stroke="#222" stroke-width="1.0"/>
<line x1="391.40" y1="278.70" x2="391.40" y2="281.70" stroke="#222" stroke-width="1.0"/>
<line x1="404.10" y1="278.70" x2="404.10" y2="281.70" stroke="#222" stroke-width="1.0"/>
<line x1="416.80" y1="278.70" x2="416.80" y2="281.70" stroke="#222" stroke-width="1.0"/>
<line x1="429.50" y1="278.70" x2="429.50" y2="281.70" stroke="#222" stroke-width="1.0"/>
<text x="329.20" y="229.40" font-size="9.4" text-anchor="middle" textLength="94.5" lengthAdjust="spacingAndGlyphs" transform="rotate(-90 329.20 229.40)" fill="#222" stroke="#222" stroke-width="0.25">MFI of NKG2A<tspan font-size="5.4" dy="-2.6">+</tspan><tspan dy="2.6"> CD56</tspan><tspan font-size="5.4" dy="-2.6">dim</tspan><tspan dy="2.6"> NK cells</tspan></text>
<text x="325.60" y="288.80" font-size="7.8" fill="#222" stroke="#222" stroke-width="0.2">NKG2C</text>
<text x="369.20" y="287.70" font-size="7.9" text-anchor="end" textLength="20.7" lengthAdjust="spacingAndGlyphs" transform="rotate(-45 369.20 287.70)" fill="#2a2a2a" stroke="#2a2a2a" stroke-width="0.15">V1/V1</text>
<text x="381.90" y="287.70" font-size="7.9" text-anchor="end" textLength="20.7" lengthAdjust="spacingAndGlyphs" transform="rotate(-45 381.90 287.70)" fill="#2a2a2a" stroke="#2a2a2a" stroke-width="0.15">V1/V2</text>
<text x="394.60" y="287.70" font-size="7.9" text-anchor="end" textLength="20.7" lengthAdjust="spacingAndGlyphs" transform="rotate(-45 394.60 287.70)" fill="#2a2a2a" stroke="#2a2a2a" stroke-width="0.15">V2/V2</text>
<text x="407.30" y="287.70" font-size="7.9" text-anchor="end" textLength="25.35" lengthAdjust="spacingAndGlyphs" transform="rotate(-45 407.30 287.70)" fill="#2a2a2a" stroke="#2a2a2a" stroke-width="0.15">V1/Neg</text>
<text x="420.00" y="287.70" font-size="7.9" text-anchor="end" textLength="25.35" lengthAdjust="spacingAndGlyphs" transform="rotate(-45 420.00 287.70)" fill="#2a2a2a" stroke="#2a2a2a" stroke-width="0.15">V2/Neg</text>
<text x="432.70" y="287.70" font-size="7.9" text-anchor="end" textLength="30.0" lengthAdjust="spacingAndGlyphs" transform="rotate(-45 432.70 287.70)" fill="#2a2a2a" stroke="#2a2a2a" stroke-width="0.15">Neg/Neg</text>
<line x1="366.00" y1="247.00" x2="366.00" y2="257.00" stroke="#222" stroke-width="0.9"/>
<line x1="363.75" y1="247.00" x2="368.25" y2="247.00" stroke="#222" stroke-width="0.9"/>
<line x1="363.75" y1="257.00" x2="368.25" y2="257.00" stroke="#222" stroke-width="0.9"/>
<line x1="361.50" y1="252.70" x2="370.50" y2="252.70" stroke="#222" stroke-width="1.2"/>
<circle cx="366.00" cy="248.30" r="0.9" fill="#c41a38"/>
<circle cx="366.50" cy="249.77" r="0.9" fill="#c41a38"/>
<circle cx="366.00" cy="236.00" r="0.9" fill="#c41a38"/>
<circle cx="366.00" cy="254.64" r="0.9" fill="#c41a38"/>
<circle cx="366.00" cy="258.02" r="0.9" fill="#c41a38"/>
<circle cx="367.50" cy="253.60" r="0.9" fill="#c41a38"/>
<circle cx="366.00" cy="238.00" r="0.9" fill="#c41a38"/>
<circle cx="367.50" cy="257.27" r="0.9" fill="#c41a38"/>
<circle cx="364.50" cy="254.50" r="0.9" fill="#c41a38"/>
<circle cx="364.50" cy="257.03" r="0.9" fill="#c41a38"/>
<circle cx="363.50" cy="253.38" r="0.9" fill="#c41a38"/>
<circle cx="366.00" cy="256.25" r="0.9" fill="#c41a38"/>
<circle cx="366.00" cy="252.80" r="0.9" fill="#c41a38"/>
<circle cx="369.00" cy="252.97" r="0.9" fill="#c41a38"/>
<circle cx="368.50" cy="255.87" r="0.9" fill="#c41a38"/>
<circle cx="362.00" cy="253.29" r="0.9" fill="#c41a38"/>
<circle cx="363.00" cy="256.19" r="0.9" fill="#c41a38"/>
<circle cx="364.50" cy="248.97" r="0.9" fill="#c41a38"/>
<circle cx="368.00" cy="249.23" r="0.9" fill="#c41a38"/>
<circle cx="370.50" cy="252.37" r="0.9" fill="#c41a38"/>
<circle cx="363.00" cy="249.87" r="0.9" fill="#c41a38"/>
<circle cx="363.00" cy="248.30" r="0.9" fill="#c41a38"/>
<circle cx="367.50" cy="259.09" r="0.9" fill="#c41a38"/>
<circle cx="369.50" cy="249.52" r="0.9" fill="#c41a38"/>
<circle cx="370.00" cy="256.08" r="0.9" fill="#c41a38"/>
<circle cx="367.00" cy="251.46" r="0.9" fill="#c41a38"/>
<circle cx="366.00" cy="243.83" r="0.9" fill="#c41a38"/>
<circle cx="361.50" cy="248.89" r="0.9" fill="#c41a38"/>
<circle cx="369.00" cy="257.65" r="0.9" fill="#c41a38"/>
<circle cx="361.50" cy="256.19" r="0.9" fill="#c41a38"/>
<circle cx="368.34" cy="253.63" r="0.9" fill="#c41a38"/>
<circle cx="367.35" cy="252.32" r="0.9" fill="#c41a38"/>
<circle cx="362.50" cy="257.62" r="0.9" fill="#c41a38"/>
<circle cx="366.00" cy="215.00" r="0.9" fill="#c41a38"/>
<circle cx="364.50" cy="252.07" r="0.9" fill="#c41a38"/>
<circle cx="367.00" cy="247.10" r="0.9" fill="#c41a38"/>
<circle cx="368.52" cy="248.46" r="0.9" fill="#c41a38"/>
<circle cx="370.50" cy="248.36" r="0.9" fill="#c41a38"/>
<circle cx="365.72" cy="255.23" r="0.9" fill="#c41a38"/>
<circle cx="366.00" cy="229.50" r="0.9" fill="#c41a38"/>
<circle cx="365.00" cy="250.65" r="0.9" fill="#c41a38"/>
<circle cx="368.55" cy="248.33" r="0.9" fill="#c41a38"/>
<circle cx="366.00" cy="262.70" r="0.9" fill="#c41a38"/>
<circle cx="363.57" cy="248.33" r="0.9" fill="#c41a38"/>
<circle cx="367.84" cy="248.25" r="0.9" fill="#c41a38"/>
<circle cx="370.50" cy="257.78" r="0.9" fill="#c41a38"/>
<circle cx="367.50" cy="244.85" r="0.9" fill="#c41a38"/>
<circle cx="367.69" cy="249.28" r="0.9" fill="#c41a38"/>
<circle cx="370.35" cy="253.39" r="0.9" fill="#c41a38"/>
<circle cx="367.61" cy="248.72" r="0.9" fill="#c41a38"/>
<circle cx="365.00" cy="245.00" r="0.9" fill="#c41a38"/>
<circle cx="364.00" cy="258.50" r="0.9" fill="#c41a38"/>
<circle cx="365.83" cy="254.62" r="0.9" fill="#c41a38"/>
<circle cx="368.75" cy="249.05" r="0.9" fill="#c41a38"/>
<circle cx="367.50" cy="238.41" r="0.9" fill="#c41a38"/>
<circle cx="366.00" cy="241.39" r="0.9" fill="#c41a38"/>
<circle cx="368.69" cy="253.53" r="0.9" fill="#c41a38"/>
<circle cx="364.72" cy="256.93" r="0.9" fill="#c41a38"/>
<circle cx="367.39" cy="247.71" r="0.9" fill="#c41a38"/>
<circle cx="367.50" cy="241.69" r="0.9" fill="#c41a38"/>
<circle cx="364.38" cy="249.58" r="0.9" fill="#c41a38"/>
<circle cx="365.86" cy="257.46" r="0.9" fill="#c41a38"/>
<circle cx="367.50" cy="261.70" r="0.9" fill="#c41a38"/>
<circle cx="365.00" cy="242.63" r="0.9" fill="#c41a38"/>
<circle cx="367.11" cy="256.26" r="0.9" fill="#c41a38"/>
<circle cx="363.00" cy="251.51" r="0.9" fill="#c41a38"/>
<circle cx="362.27" cy="255.75" r="0.9" fill="#c41a38"/>
<circle cx="365.00" cy="247.16" r="0.9" fill="#c41a38"/>
<circle cx="369.57" cy="254.35" r="0.9" fill="#c41a38"/>
<circle cx="362.87" cy="257.81" r="0.9" fill="#c41a38"/>
<circle cx="366.00" cy="233.00" r="0.9" fill="#c41a38"/>
<circle cx="364.23" cy="253.50" r="0.9" fill="#c41a38"/>
<circle cx="363.50" cy="241.94" r="0.9" fill="#c41a38"/>
<circle cx="364.97" cy="248.20" r="0.9" fill="#c41a38"/>
<circle cx="366.00" cy="218.50" r="0.9" fill="#c41a38"/>
<circle cx="362.27" cy="256.47" r="0.9" fill="#c41a38"/>
<circle cx="366.58" cy="252.66" r="0.9" fill="#c41a38"/>
<circle cx="364.42" cy="257.68" r="0.9" fill="#c41a38"/>
<circle cx="369.98" cy="254.39" r="0.9" fill="#c41a38"/>
<circle cx="366.00" cy="224.00" r="0.9" fill="#c41a38"/>
<circle cx="366.28" cy="249.89" r="0.9" fill="#c41a38"/>
<circle cx="364.61" cy="252.87" r="0.9" fill="#c41a38"/>
<circle cx="366.74" cy="253.26" r="0.9" fill="#c41a38"/>
<circle cx="367.42" cy="257.64" r="0.9" fill="#c41a38"/>
<circle cx="363.39" cy="253.90" r="0.9" fill="#c41a38"/>
<line x1="378.70" y1="228.00" x2="378.70" y2="246.50" stroke="#222" stroke-width="0.9"/>
<line x1="376.45" y1="228.00" x2="380.95" y2="228.00" stroke="#222" stroke-width="0.9"/>
<line x1="376.45" y1="246.50" x2="380.95" y2="246.50" stroke="#222" stroke-width="0.9"/>
<line x1="374.20" y1="237.30" x2="383.20" y2="237.30" stroke="#222" stroke-width="1.2"/>
<circle cx="378.70" cy="232.72" r="0.9" fill="#c41a38"/>
<circle cx="378.70" cy="247.05" r="0.9" fill="#c41a38"/>
<circle cx="378.70" cy="223.78" r="0.9" fill="#c41a38"/>
<circle cx="380.70" cy="232.97" r="0.9" fill="#c41a38"/>
<circle cx="378.70" cy="206.50" r="0.9" fill="#c41a38"/>
<circle cx="378.70" cy="241.25" r="0.9" fill="#c41a38"/>
<circle cx="380.70" cy="224.31" r="0.9" fill="#c41a38"/>
<circle cx="378.70" cy="249.18" r="0.9" fill="#c41a38"/>
<circle cx="378.70" cy="256.32" r="0.9" fill="#c41a38"/>
<circle cx="380.70" cy="249.43" r="0.9" fill="#c41a38"/>
<circle cx="380.70" cy="246.90" r="0.9" fill="#c41a38"/>
<circle cx="378.70" cy="251.98" r="0.9" fill="#c41a38"/>
<circle cx="378.70" cy="243.21" r="0.9" fill="#c41a38"/>
<circle cx="380.20" cy="242.26" r="0.9" fill="#c41a38"/>
<circle cx="376.70" cy="233.07" r="0.9" fill="#c41a38"/>
<circle cx="379.70" cy="245.62" r="0.9" fill="#c41a38"/>
<circle cx="378.20" cy="245.00" r="0.9" fill="#c41a38"/>
<circle cx="376.70" cy="223.83" r="0.9" fill="#c41a38"/>
<circle cx="378.70" cy="226.70" r="0.9" fill="#c41a38"/>
<circle cx="380.20" cy="252.87" r="0.9" fill="#c41a38"/>
<circle cx="378.70" cy="216.20" r="0.9" fill="#c41a38"/>
<circle cx="380.20" cy="225.90" r="0.9" fill="#c41a38"/>
<circle cx="378.70" cy="229.26" r="0.9" fill="#c41a38"/>
<circle cx="378.70" cy="219.85" r="0.9" fill="#c41a38"/>
<circle cx="378.70" cy="258.80" r="0.9" fill="#c41a38"/>
<circle cx="377.20" cy="253.07" r="0.9" fill="#c41a38"/>
<circle cx="380.70" cy="244.14" r="0.9" fill="#c41a38"/>
<circle cx="381.70" cy="251.93" r="0.9" fill="#c41a38"/>
<circle cx="379.20" cy="234.26" r="0.9" fill="#c41a38"/>
<circle cx="376.70" cy="249.26" r="0.9" fill="#c41a38"/>
<circle cx="378.70" cy="237.15" r="0.9" fill="#c41a38"/>
<circle cx="379.70" cy="221.11" r="0.9" fill="#c41a38"/>
<circle cx="379.20" cy="238.73" r="0.9" fill="#c41a38"/>
<circle cx="377.20" cy="237.96" r="0.9" fill="#c41a38"/>
<circle cx="380.20" cy="228.08" r="0.9" fill="#c41a38"/>
<circle cx="380.70" cy="237.31" r="0.9" fill="#c41a38"/>
<circle cx="382.70" cy="232.65" r="0.9" fill="#c41a38"/>
<circle cx="380.70" cy="256.75" r="0.9" fill="#c41a38"/>
<circle cx="374.70" cy="233.39" r="0.9" fill="#c41a38"/>
<circle cx="380.70" cy="240.73" r="0.9" fill="#c41a38"/>
<circle cx="381.20" cy="239.19" r="0.9" fill="#c41a38"/>
<circle cx="379.70" cy="231.24" r="0.9" fill="#c41a38"/>
<circle cx="377.70" cy="234.83" r="0.9" fill="#c41a38"/>
<circle cx="381.20" cy="234.82" r="0.9" fill="#c41a38"/>
<circle cx="377.70" cy="239.98" r="0.9" fill="#c41a38"/>
<circle cx="379.11" cy="232.77" r="0.9" fill="#c41a38"/>
<circle cx="376.70" cy="236.22" r="0.9" fill="#c41a38"/>
<circle cx="377.20" cy="227.34" r="0.9" fill="#c41a38"/>
<circle cx="375.70" cy="234.69" r="0.9" fill="#c41a38"/>
<circle cx="376.20" cy="228.60" r="0.9" fill="#c41a38"/>
<line x1="391.40" y1="219.60" x2="391.40" y2="227.30" stroke="#222" stroke-width="0.9"/>
<line x1="389.15" y1="219.60" x2="393.65" y2="219.60" stroke="#222" stroke-width="0.9"/>
<line x1="389.15" y1="227.30" x2="393.65" y2="227.30" stroke="#222" stroke-width="0.9"/>
<line x1="386.90" y1="223.50" x2="395.90" y2="223.50" stroke="#222" stroke-width="1.2"/>
<circle cx="391.40" cy="238.80" r="0.9" fill="#c41a38"/>
<circle cx="391.40" cy="229.04" r="0.9" fill="#c41a38"/>
<circle cx="391.40" cy="221.28" r="0.9" fill="#c41a38"/>
<circle cx="391.40" cy="200.40" r="0.9" fill="#c41a38"/>
<circle cx="391.40" cy="217.97" r="0.9" fill="#c41a38"/>
<circle cx="391.40" cy="236.11" r="0.9" fill="#c41a38"/>
<circle cx="391.40" cy="223.28" r="0.9" fill="#c41a38"/>
<circle cx="392.40" cy="216.64" r="0.9" fill="#c41a38"/>
<circle cx="391.40" cy="213.21" r="0.9" fill="#c41a38"/>
<circle cx="391.40" cy="231.72" r="0.9" fill="#c41a38"/>
<line x1="404.10" y1="236.00" x2="404.10" y2="251.00" stroke="#222" stroke-width="0.9"/>
<line x1="401.85" y1="236.00" x2="406.35" y2="236.00" stroke="#222" stroke-width="0.9"/>
<line x1="401.85" y1="251.00" x2="406.35" y2="251.00" stroke="#222" stroke-width="0.9"/>
<line x1="399.60" y1="243.50" x2="408.60" y2="243.50" stroke="#222" stroke-width="1.2"/>
<circle cx="404.10" cy="234.25" r="0.9" fill="#c41a38"/>
<circle cx="404.10" cy="239.50" r="0.9" fill="#c41a38"/>
<circle cx="405.10" cy="235.59" r="0.9" fill="#c41a38"/>
<circle cx="404.10" cy="246.74" r="0.9" fill="#c41a38"/>
<circle cx="404.10" cy="250.03" r="0.9" fill="#c41a38"/>
<circle cx="404.10" cy="256.44" r="0.9" fill="#c41a38"/>
<circle cx="406.10" cy="239.93" r="0.9" fill="#c41a38"/>
<circle cx="406.10" cy="247.13" r="0.9" fill="#c41a38"/>
<circle cx="404.10" cy="253.47" r="0.9" fill="#c41a38"/>
<circle cx="404.10" cy="259.60" r="0.9" fill="#c41a38"/>
<circle cx="404.10" cy="242.49" r="0.9" fill="#c41a38"/>
<circle cx="404.10" cy="237.15" r="0.9" fill="#c41a38"/>
<circle cx="405.60" cy="258.36" r="0.9" fill="#c41a38"/>
<circle cx="405.60" cy="255.52" r="0.9" fill="#c41a38"/>
<circle cx="402.60" cy="235.37" r="0.9" fill="#c41a38"/>
<circle cx="402.10" cy="247.28" r="0.9" fill="#c41a38"/>
<circle cx="401.10" cy="245.91" r="0.9" fill="#c41a38"/>
<circle cx="405.60" cy="241.46" r="0.9" fill="#c41a38"/>
<circle cx="402.60" cy="240.71" r="0.9" fill="#c41a38"/>
<circle cx="407.60" cy="247.86" r="0.9" fill="#c41a38"/>
<circle cx="407.60" cy="246.26" r="0.9" fill="#c41a38"/>
<circle cx="405.60" cy="243.20" r="0.9" fill="#c41a38"/>
<circle cx="401.10" cy="239.53" r="0.9" fill="#c41a38"/>
<circle cx="402.10" cy="242.56" r="0.9" fill="#c41a38"/>
<circle cx="400.60" cy="248.02" r="0.9" fill="#c41a38"/>
<circle cx="405.10" cy="251.37" r="0.9" fill="#c41a38"/>
<circle cx="407.10" cy="235.72" r="0.9" fill="#c41a38"/>
<circle cx="405.60" cy="233.50" r="0.9" fill="#c41a38"/>
<circle cx="400.60" cy="235.42" r="0.9" fill="#c41a38"/>
<circle cx="402.60" cy="254.05" r="0.9" fill="#c41a38"/>
<circle cx="404.10" cy="244.62" r="0.9" fill="#c41a38"/>
<circle cx="404.10" cy="222.70" r="0.9" fill="#c41a38"/>
<circle cx="399.70" cy="247.89" r="0.9" fill="#c41a38"/>
<circle cx="405.60" cy="249.36" r="0.9" fill="#c41a38"/>
<circle cx="407.60" cy="242.78" r="0.9" fill="#c41a38"/>
<line x1="416.80" y1="214.20" x2="416.80" y2="244.00" stroke="#222" stroke-width="0.9"/>
<line x1="414.55" y1="214.20" x2="419.05" y2="214.20" stroke="#222" stroke-width="0.9"/>
<line x1="414.55" y1="244.00" x2="419.05" y2="244.00" stroke="#222" stroke-width="0.9"/>
<line x1="412.30" y1="230.40" x2="421.30" y2="230.40" stroke="#222" stroke-width="1.2"/>
<circle cx="416.80" cy="251.90" r="0.9" fill="#c41a38"/>
<circle cx="416.80" cy="213.74" r="0.9" fill="#c41a38"/>
<circle cx="416.80" cy="234.29" r="0.9" fill="#c41a38"/>
<circle cx="416.80" cy="218.22" r="0.9" fill="#c41a38"/>
<circle cx="416.80" cy="228.54" r="0.9" fill="#c41a38"/>
<circle cx="416.80" cy="245.88" r="0.9" fill="#c41a38"/>
<circle cx="418.30" cy="227.70" r="0.9" fill="#c41a38"/>
<circle cx="416.80" cy="202.54" r="0.9" fill="#c41a38"/>
<circle cx="416.80" cy="238.33" r="0.9" fill="#c41a38"/>
<circle cx="416.80" cy="224.13" r="0.9" fill="#c41a38"/>
<circle cx="418.30" cy="214.35" r="0.9" fill="#c41a38"/>
<circle cx="418.80" cy="218.29" r="0.9" fill="#c41a38"/>
<circle cx="417.80" cy="219.65" r="0.9" fill="#c41a38"/>
<circle cx="418.80" cy="234.17" r="0.9" fill="#c41a38"/>
<circle cx="414.80" cy="234.53" r="0.9" fill="#c41a38"/>
<circle cx="417.30" cy="230.07" r="0.9" fill="#c41a38"/>
<circle cx="418.30" cy="237.13" r="0.9" fill="#c41a38"/>
<circle cx="416.80" cy="240.19" r="0.9" fill="#c41a38"/>
<circle cx="415.30" cy="214.72" r="0.9" fill="#c41a38"/>
<circle cx="415.30" cy="219.28" r="0.9" fill="#c41a38"/>
<circle cx="415.30" cy="217.56" r="0.9" fill="#c41a38"/>
<circle cx="414.80" cy="228.91" r="0.9" fill="#c41a38"/>
<circle cx="418.30" cy="201.90" r="0.9" fill="#c41a38"/>
<circle cx="418.30" cy="245.10" r="0.9" fill="#c41a38"/>
<circle cx="418.80" cy="238.84" r="0.9" fill="#c41a38"/>
<circle cx="416.80" cy="211.33" r="0.9" fill="#c41a38"/>
<circle cx="418.30" cy="240.84" r="0.9" fill="#c41a38"/>
<circle cx="415.80" cy="237.00" r="0.9" fill="#c41a38"/>
<circle cx="418.30" cy="212.08" r="0.9" fill="#c41a38"/>
<circle cx="414.80" cy="238.81" r="0.9" fill="#c41a38"/>
<line x1="429.50" y1="225.00" x2="429.50" y2="243.90" stroke="#222" stroke-width="0.9"/>
<line x1="427.25" y1="225.00" x2="431.75" y2="225.00" stroke="#222" stroke-width="0.9"/>
<line x1="427.25" y1="243.90" x2="431.75" y2="243.90" stroke="#222" stroke-width="0.9"/>
<line x1="425.00" y1="234.70" x2="434.00" y2="234.70" stroke="#222" stroke-width="1.2"/>
<circle cx="429.50" cy="232.24" r="0.9" fill="#c41a38"/>
<circle cx="429.50" cy="223.50" r="0.9" fill="#c41a38"/>
<circle cx="431.50" cy="223.53" r="0.9" fill="#c41a38"/>
<circle cx="429.50" cy="235.31" r="0.9" fill="#c41a38"/>
<circle cx="429.50" cy="230.08" r="0.9" fill="#c41a38"/>
<circle cx="429.50" cy="244.20" r="0.9" fill="#c41a38"/>
<line x1="365.40" y1="180.90" x2="430.00" y2="180.90" stroke="#555" stroke-width="1.1"/>
<text x="397.85" y="180.70" font-size="6" text-anchor="middle" font-weight="bold" fill="#222" stroke="#222" stroke-width="0.2" letter-spacing="0.3">***</text>
<line x1="365.40" y1="186.60" x2="430.00" y2="186.60" stroke="#555" stroke-width="1.1"/>
<text x="383.95" y="186.80" font-size="6" text-anchor="middle" font-weight="bold" fill="#222" stroke="#222" stroke-width="0.2" letter-spacing="0.3">***</text>
<line x1="365.40" y1="192.50" x2="390.80" y2="192.50" stroke="#555" stroke-width="1.1"/>
<text x="377.85" y="193.00" font-size="6" text-anchor="middle" font-weight="bold" fill="#222" stroke="#222" stroke-width="0.2" letter-spacing="0.3">****</text>
<line x1="403.80" y1="191.20" x2="415.70" y2="191.20" stroke="#555" stroke-width="1.1"/>
<text x="410.15" y="191.90" font-size="6" text-anchor="middle" font-weight="bold" fill="#222" stroke="#222" stroke-width="0.2" letter-spacing="0.3">**</text>
<line x1="365.40" y1="198.50" x2="381.50" y2="198.50" stroke="#555" stroke-width="1.1"/>
<text x="372.45" y="199.10" font-size="6" text-anchor="middle" font-weight="bold" fill="#222" stroke="#222" stroke-width="0.2" letter-spacing="0.3">****</text>
<line x1="382.30" y1="198.50" x2="391.50" y2="198.50" stroke="#555" stroke-width="1.1"/>
<text x="386.35" y="199.10" font-size="6" text-anchor="middle" font-weight="bold" fill="#222" stroke="#222" stroke-width="0.2" letter-spacing="0.3">**</text>
<line x1="391.50" y1="198.50" x2="391.50" y2="201.00" stroke="#555" stroke-width="1"/>
<text x="6.80" y="347.60" font-size="10.6" font-weight="bold" fill="#000" stroke="#000" stroke-width="0.45">G</text>
<line x1="57.50" y1="361.30" x2="57.50" y2="472.00" stroke="#222" stroke-width="1.15"/>
<line x1="55.00" y1="471.50" x2="57.50" y2="471.50" stroke="#222" stroke-width="1.0"/>
<text x="51.70" y="474.50" font-size="7.6" text-anchor="end" fill="#222" stroke="#222" stroke-width="0.2">0</text>
<line x1="55.00" y1="444.70" x2="57.50" y2="444.70" stroke="#222" stroke-width="1.0"/>
<text x="51.70" y="447.70" font-size="7.6" text-anchor="end" fill="#222" stroke="#222" stroke-width="0.2">2000</text>
<line x1="55.00" y1="417.90" x2="57.50" y2="417.90" stroke="#222" stroke-width="1.0"/>
<text x="51.70" y="420.90" font-size="7.6" text-anchor="end" fill="#222" stroke="#222" stroke-width="0.2">4000</text>
<line x1="55.00" y1="391.10" x2="57.50" y2="391.10" stroke="#222" stroke-width="1.0"/>
<text x="51.70" y="394.10" font-size="7.6" text-anchor="end" fill="#222" stroke="#222" stroke-width="0.2">6000</text>
<line x1="55.00" y1="364.30" x2="57.50" y2="364.30" stroke="#222" stroke-width="1.0"/>
<text x="51.70" y="367.30" font-size="7.6" text-anchor="end" fill="#222" stroke="#222" stroke-width="0.2">8000</text>
<line x1="55.00" y1="471.50" x2="230.80" y2="471.50" stroke="#222" stroke-width="1.15"/>
<line x1="69.70" y1="471.50" x2="69.70" y2="474.50" stroke="#222" stroke-width="1.0"/>
<line x1="88.20" y1="471.50" x2="88.20" y2="474.50" stroke="#222" stroke-width="1.0"/>
<line x1="106.70" y1="471.50" x2="106.70" y2="474.50" stroke="#222" stroke-width="1.0"/>
<line x1="125.20" y1="471.50" x2="125.20" y2="474.50" stroke="#222" stroke-width="1.0"/>
<line x1="143.70" y1="471.50" x2="143.70" y2="474.50" stroke="#222" stroke-width="1.0"/>
<line x1="162.20" y1="471.50" x2="162.20" y2="474.50" stroke="#222" stroke-width="1.0"/>
<line x1="180.70" y1="471.50" x2="180.70" y2="474.50" stroke="#222" stroke-width="1.0"/>
<line x1="199.20" y1="471.50" x2="199.20" y2="474.50" stroke="#222" stroke-width="1.0"/>
<line x1="217.70" y1="471.50" x2="217.70" y2="474.50" stroke="#222" stroke-width="1.0"/>
<text x="29.00" y="416.50" font-size="9.4" text-anchor="middle" textLength="92.4" lengthAdjust="spacingAndGlyphs" transform="rotate(-90 29.00 416.50)" fill="#222" stroke="#222" stroke-width="0.25">MFI of NKG2A<tspan font-size="5.4" dy="-2.6">+</tspan><tspan dy="2.6"> CD56</tspan><tspan font-size="5.4" dy="-2.6">dim</tspan><tspan dy="2.6">NK cells</tspan></text>
<text x="52.30" y="482.30" font-size="7.6" text-anchor="end" fill="#222" stroke="#222" stroke-width="0.2">NKG2D</text>
<text x="72.90" y="480.70" font-size="7.9" text-anchor="end" textLength="20.7" lengthAdjust="spacingAndGlyphs" transform="rotate(-45 72.90 480.70)" fill="#2a2a2a" stroke="#2a2a2a" stroke-width="0.15">V1/V1</text>
<text x="91.40" y="480.70" font-size="7.9" text-anchor="end" textLength="20.7" lengthAdjust="spacingAndGlyphs" transform="rotate(-45 91.40 480.70)" fill="#2a2a2a" stroke="#2a2a2a" stroke-width="0.15">V1/V2</text>
<text x="109.90" y="480.70" font-size="7.9" text-anchor="end" textLength="20.7" lengthAdjust="spacingAndGlyphs" transform="rotate(-45 109.90 480.70)" fill="#2a2a2a" stroke="#2a2a2a" stroke-width="0.15">V2/V2</text>
<text x="128.40" y="480.70" font-size="7.9" text-anchor="end" textLength="20.7" lengthAdjust="spacingAndGlyphs" transform="rotate(-45 128.40 480.70)" fill="#2a2a2a" stroke="#2a2a2a" stroke-width="0.15">V3/V3</text>
<text x="146.90" y="480.70" font-size="7.9" text-anchor="end" textLength="20.7" lengthAdjust="spacingAndGlyphs" transform="rotate(-45 146.90 480.70)" fill="#2a2a2a" stroke="#2a2a2a" stroke-width="0.15">V3/V4</text>
<text x="165.40" y="480.70" font-size="7.9" text-anchor="end" textLength="20.7" lengthAdjust="spacingAndGlyphs" transform="rotate(-45 165.40 480.70)" fill="#2a2a2a" stroke="#2a2a2a" stroke-width="0.15">V4/V4</text>
<text x="183.90" y="480.70" font-size="7.9" text-anchor="end" textLength="20.7" lengthAdjust="spacingAndGlyphs" transform="rotate(-45 183.90 480.70)" fill="#2a2a2a" stroke="#2a2a2a" stroke-width="0.15">V5/V5</text>
<text x="202.40" y="480.70" font-size="7.9" text-anchor="end" textLength="20.7" lengthAdjust="spacingAndGlyphs" transform="rotate(-45 202.40 480.70)" fill="#2a2a2a" stroke="#2a2a2a" stroke-width="0.15">V5/V6</text>
<text x="220.90" y="480.70" font-size="7.9" text-anchor="end" textLength="20.7" lengthAdjust="spacingAndGlyphs" transform="rotate(-45 220.90 480.70)" fill="#2a2a2a" stroke="#2a2a2a" stroke-width="0.15">V6/V6</text>
<circle cx="69.70" cy="431.40" r="0.95" fill="#c41a38"/>
<circle cx="69.70" cy="429.43" r="0.95" fill="#c41a38"/>
<circle cx="69.70" cy="409.90" r="0.95" fill="#c41a38"/>
<circle cx="69.70" cy="425.59" r="0.95" fill="#c41a38"/>
<line x1="69.70" y1="409.90" x2="69.70" y2="429.30" stroke="#222" stroke-width="0.9"/>
<line x1="66.70" y1="409.90" x2="72.70" y2="409.90" stroke="#222" stroke-width="0.9"/>
<line x1="66.70" y1="429.30" x2="72.70" y2="429.30" stroke="#222" stroke-width="0.9"/>
<line x1="63.70" y1="415.60" x2="75.70" y2="415.60" stroke="#222" stroke-width="1.1"/>
<circle cx="88.20" cy="416.21" r="0.95" fill="#c41a38"/>
<circle cx="88.20" cy="436.18" r="0.95" fill="#c41a38"/>
<circle cx="88.20" cy="438.37" r="0.95" fill="#c41a38"/>
<circle cx="89.70" cy="415.84" r="0.95" fill="#c41a38"/>
<circle cx="88.20" cy="426.24" r="0.95" fill="#c41a38"/>
<circle cx="88.20" cy="434.38" r="0.95" fill="#c41a38"/>
<circle cx="88.20" cy="430.95" r="0.95" fill="#c41a38"/>
<circle cx="89.70" cy="431.13" r="0.95" fill="#c41a38"/>
<circle cx="88.20" cy="408.74" r="0.95" fill="#c41a38"/>
<circle cx="89.70" cy="408.38" r="0.95" fill="#c41a38"/>
<circle cx="88.20" cy="411.30" r="0.95" fill="#c41a38"/>
<circle cx="89.70" cy="434.90" r="0.95" fill="#c41a38"/>
<circle cx="88.20" cy="446.32" r="0.95" fill="#c41a38"/>
<circle cx="88.20" cy="423.23" r="0.95" fill="#c41a38"/>
<circle cx="88.20" cy="432.61" r="0.95" fill="#c41a38"/>
<circle cx="86.70" cy="431.15" r="0.95" fill="#c41a38"/>
<circle cx="89.20" cy="417.59" r="0.95" fill="#c41a38"/>
<circle cx="89.70" cy="438.55" r="0.95" fill="#c41a38"/>
<circle cx="88.20" cy="442.98" r="0.95" fill="#c41a38"/>
<circle cx="89.70" cy="436.79" r="0.95" fill="#c41a38"/>
<circle cx="89.20" cy="441.84" r="0.95" fill="#c41a38"/>
<circle cx="88.20" cy="440.45" r="0.95" fill="#c41a38"/>
<circle cx="86.70" cy="437.19" r="0.95" fill="#c41a38"/>
<circle cx="86.70" cy="442.64" r="0.95" fill="#c41a38"/>
<circle cx="89.70" cy="411.14" r="0.95" fill="#c41a38"/>
<circle cx="88.20" cy="384.48" r="0.95" fill="#c41a38"/>
<circle cx="88.20" cy="404.08" r="0.95" fill="#c41a38"/>
<circle cx="88.20" cy="397.56" r="0.95" fill="#c41a38"/>
<circle cx="88.20" cy="401.93" r="0.95" fill="#c41a38"/>
<circle cx="86.70" cy="438.76" r="0.95" fill="#c41a38"/>
<circle cx="89.70" cy="422.22" r="0.95" fill="#c41a38"/>
<circle cx="88.20" cy="428.06" r="0.95" fill="#c41a38"/>
<circle cx="89.70" cy="433.13" r="0.95" fill="#c41a38"/>
<circle cx="88.20" cy="448.00" r="0.95" fill="#c41a38"/>
<circle cx="90.70" cy="442.19" r="0.95" fill="#c41a38"/>
<circle cx="86.70" cy="433.87" r="0.95" fill="#c41a38"/>
<circle cx="86.70" cy="412.27" r="0.95" fill="#c41a38"/>
<circle cx="91.20" cy="437.10" r="0.95" fill="#c41a38"/>
<circle cx="89.20" cy="400.76" r="0.95" fill="#c41a38"/>
<circle cx="89.70" cy="424.25" r="0.95" fill="#c41a38"/>
<circle cx="87.20" cy="424.90" r="0.95" fill="#c41a38"/>
<circle cx="87.70" cy="418.37" r="0.95" fill="#c41a38"/>
<circle cx="91.20" cy="433.46" r="0.95" fill="#c41a38"/>
<circle cx="88.20" cy="421.49" r="0.95" fill="#c41a38"/>
<circle cx="86.70" cy="421.51" r="0.95" fill="#c41a38"/>
<circle cx="89.70" cy="398.53" r="0.95" fill="#c41a38"/>
<circle cx="90.70" cy="412.36" r="0.95" fill="#c41a38"/>
<circle cx="87.20" cy="409.96" r="0.95" fill="#c41a38"/>
<circle cx="86.70" cy="440.78" r="0.95" fill="#c41a38"/>
<circle cx="88.20" cy="399.61" r="0.95" fill="#c41a38"/>
<circle cx="89.70" cy="428.62" r="0.95" fill="#c41a38"/>
<circle cx="89.70" cy="446.10" r="0.95" fill="#c41a38"/>
<circle cx="89.70" cy="426.20" r="0.95" fill="#c41a38"/>
<circle cx="86.70" cy="426.94" r="0.95" fill="#c41a38"/>
<circle cx="85.20" cy="436.09" r="0.95" fill="#c41a38"/>
<circle cx="90.70" cy="409.78" r="0.95" fill="#c41a38"/>
<circle cx="86.70" cy="416.19" r="0.95" fill="#c41a38"/>
<circle cx="88.20" cy="394.10" r="0.95" fill="#c41a38"/>
<circle cx="86.70" cy="407.66" r="0.95" fill="#c41a38"/>
<circle cx="92.70" cy="437.02" r="0.95" fill="#c41a38"/>
<circle cx="88.20" cy="414.48" r="0.95" fill="#c41a38"/>
<circle cx="88.70" cy="419.65" r="0.95" fill="#c41a38"/>
<circle cx="85.20" cy="434.46" r="0.95" fill="#c41a38"/>
<circle cx="91.20" cy="431.93" r="0.95" fill="#c41a38"/>
<circle cx="91.20" cy="425.88" r="0.95" fill="#c41a38"/>
<circle cx="92.70" cy="433.95" r="0.95" fill="#c41a38"/>
<circle cx="88.20" cy="371.90" r="0.95" fill="#c41a38"/>
<circle cx="86.70" cy="399.80" r="0.95" fill="#c41a38"/>
<circle cx="88.20" cy="379.79" r="0.95" fill="#c41a38"/>
<circle cx="83.70" cy="433.80" r="0.95" fill="#c41a38"/>
<circle cx="90.20" cy="420.28" r="0.95" fill="#c41a38"/>
<circle cx="85.20" cy="441.93" r="0.95" fill="#c41a38"/>
<circle cx="92.20" cy="441.72" r="0.95" fill="#c41a38"/>
<circle cx="86.20" cy="417.94" r="0.95" fill="#c41a38"/>
<circle cx="85.70" cy="410.62" r="0.95" fill="#c41a38"/>
<circle cx="85.20" cy="431.32" r="0.95" fill="#c41a38"/>
<circle cx="86.70" cy="428.81" r="0.95" fill="#c41a38"/>
<circle cx="89.70" cy="404.42" r="0.95" fill="#c41a38"/>
<circle cx="83.70" cy="437.07" r="0.95" fill="#c41a38"/>
<circle cx="94.20" cy="436.54" r="0.95" fill="#c41a38"/>
<line x1="88.20" y1="409.00" x2="88.20" y2="437.50" stroke="#222" stroke-width="0.9"/>
<line x1="85.20" y1="409.00" x2="91.20" y2="409.00" stroke="#222" stroke-width="0.9"/>
<line x1="85.20" y1="437.50" x2="91.20" y2="437.50" stroke="#222" stroke-width="0.9"/>
<line x1="82.20" y1="428.00" x2="94.20" y2="428.00" stroke="#222" stroke-width="1.1"/>
<circle cx="106.70" cy="449.44" r="0.95" fill="#c41a38"/>
<circle cx="106.70" cy="441.88" r="0.95" fill="#c41a38"/>
<circle cx="106.70" cy="404.09" r="0.95" fill="#c41a38"/>
<circle cx="106.70" cy="408.59" r="0.95" fill="#c41a38"/>
<circle cx="106.70" cy="425.26" r="0.95" fill="#c41a38"/>
<circle cx="106.70" cy="439.80" r="0.95" fill="#c41a38"/>
<circle cx="108.20" cy="441.88" r="0.95" fill="#c41a38"/>
<circle cx="105.20" cy="441.45" r="0.95" fill="#c41a38"/>
<circle cx="106.70" cy="429.66" r="0.95" fill="#c41a38"/>
<circle cx="106.70" cy="422.63" r="0.95" fill="#c41a38"/>
<circle cx="106.70" cy="384.15" r="0.95" fill="#c41a38"/>
<circle cx="106.70" cy="432.06" r="0.95" fill="#c41a38"/>
<circle cx="106.70" cy="446.82" r="0.95" fill="#c41a38"/>
<circle cx="106.70" cy="398.96" r="0.95" fill="#c41a38"/>
<circle cx="107.70" cy="445.47" r="0.95" fill="#c41a38"/>
<circle cx="107.70" cy="433.46" r="0.95" fill="#c41a38"/>
<circle cx="107.70" cy="448.02" r="0.95" fill="#c41a38"/>
<circle cx="106.70" cy="419.27" r="0.95" fill="#c41a38"/>
<circle cx="108.20" cy="438.70" r="0.95" fill="#c41a38"/>
<circle cx="106.70" cy="438.16" r="0.95" fill="#c41a38"/>
<circle cx="107.70" cy="421.37" r="0.95" fill="#c41a38"/>
<circle cx="106.70" cy="389.23" r="0.95" fill="#c41a38"/>
<circle cx="108.20" cy="437.20" r="0.95" fill="#c41a38"/>
<circle cx="106.70" cy="416.57" r="0.95" fill="#c41a38"/>
<circle cx="106.20" cy="444.72" r="0.95" fill="#c41a38"/>
<circle cx="108.20" cy="429.31" r="0.95" fill="#c41a38"/>
<circle cx="106.70" cy="435.00" r="0.95" fill="#c41a38"/>
<circle cx="105.20" cy="433.08" r="0.95" fill="#c41a38"/>
<circle cx="106.70" cy="451.30" r="0.95" fill="#c41a38"/>
<circle cx="105.20" cy="436.07" r="0.95" fill="#c41a38"/>
<circle cx="106.70" cy="401.50" r="0.95" fill="#c41a38"/>
<circle cx="107.70" cy="405.39" r="0.95" fill="#c41a38"/>
<circle cx="106.70" cy="436.58" r="0.95" fill="#c41a38"/>
<circle cx="108.20" cy="450.52" r="0.95" fill="#c41a38"/>
<circle cx="108.20" cy="431.86" r="0.95" fill="#c41a38"/>
<circle cx="109.70" cy="442.55" r="0.95" fill="#c41a38"/>
<circle cx="105.20" cy="448.82" r="0.95" fill="#c41a38"/>
<circle cx="106.20" cy="405.56" r="0.95" fill="#c41a38"/>
<circle cx="104.70" cy="444.46" r="0.95" fill="#c41a38"/>
<circle cx="107.70" cy="452.48" r="0.95" fill="#c41a38"/>
<circle cx="107.70" cy="443.72" r="0.95" fill="#c41a38"/>
<circle cx="109.20" cy="448.29" r="0.95" fill="#c41a38"/>
<circle cx="107.20" cy="415.08" r="0.95" fill="#c41a38"/>
<circle cx="109.70" cy="436.23" r="0.95" fill="#c41a38"/>
<circle cx="105.20" cy="438.70" r="0.95" fill="#c41a38"/>
<circle cx="109.20" cy="440.01" r="0.95" fill="#c41a38"/>
<circle cx="103.70" cy="439.64" r="0.95" fill="#c41a38"/>
<circle cx="110.70" cy="439.83" r="0.95" fill="#c41a38"/>
<circle cx="105.70" cy="452.60" r="0.95" fill="#c41a38"/>
<circle cx="109.70" cy="438.35" r="0.95" fill="#c41a38"/>
<circle cx="103.70" cy="448.60" r="0.95" fill="#c41a38"/>
<circle cx="108.20" cy="435.15" r="0.95" fill="#c41a38"/>
<circle cx="103.70" cy="437.65" r="0.95" fill="#c41a38"/>
<circle cx="105.20" cy="430.34" r="0.95" fill="#c41a38"/>
<circle cx="109.20" cy="444.88" r="0.95" fill="#c41a38"/>
<circle cx="104.20" cy="434.82" r="0.95" fill="#c41a38"/>
<circle cx="103.70" cy="441.75" r="0.95" fill="#c41a38"/>
<circle cx="103.20" cy="443.99" r="0.95" fill="#c41a38"/>
<circle cx="108.20" cy="423.72" r="0.95" fill="#c41a38"/>
<circle cx="109.70" cy="432.17" r="0.95" fill="#c41a38"/>
<circle cx="108.20" cy="383.30" r="0.95" fill="#c41a38"/>
<circle cx="102.70" cy="435.41" r="0.95" fill="#c41a38"/>
<circle cx="102.20" cy="439.59" r="0.95" fill="#c41a38"/>
<circle cx="105.20" cy="424.48" r="0.95" fill="#c41a38"/>
<circle cx="102.20" cy="441.16" r="0.95" fill="#c41a38"/>
<circle cx="108.20" cy="425.47" r="0.95" fill="#c41a38"/>
<circle cx="105.20" cy="450.39" r="0.95" fill="#c41a38"/>
<circle cx="105.70" cy="415.02" r="0.95" fill="#c41a38"/>
<circle cx="106.70" cy="427.78" r="0.95" fill="#c41a38"/>
<circle cx="112.20" cy="439.69" r="0.95" fill="#c41a38"/>
<circle cx="111.20" cy="442.38" r="0.95" fill="#c41a38"/>
<circle cx="105.70" cy="426.61" r="0.95" fill="#c41a38"/>
<circle cx="108.20" cy="427.26" r="0.95" fill="#c41a38"/>
<circle cx="109.20" cy="452.17" r="0.95" fill="#c41a38"/>
<circle cx="103.70" cy="433.14" r="0.95" fill="#c41a38"/>
<circle cx="106.70" cy="395.93" r="0.95" fill="#c41a38"/>
<circle cx="110.70" cy="448.00" r="0.95" fill="#c41a38"/>
<circle cx="104.20" cy="429.08" r="0.95" fill="#c41a38"/>
<circle cx="111.20" cy="436.51" r="0.95" fill="#c41a38"/>
<circle cx="112.70" cy="441.73" r="0.95" fill="#c41a38"/>
<circle cx="109.70" cy="424.26" r="0.95" fill="#c41a38"/>
<circle cx="108.20" cy="417.61" r="0.95" fill="#c41a38"/>
<circle cx="105.20" cy="446.96" r="0.95" fill="#c41a38"/>
<circle cx="103.70" cy="424.47" r="0.95" fill="#c41a38"/>
<circle cx="104.20" cy="426.92" r="0.95" fill="#c41a38"/>
<circle cx="109.20" cy="433.79" r="0.95" fill="#c41a38"/>
<circle cx="108.70" cy="453.60" r="0.95" fill="#c41a38"/>
<circle cx="100.70" cy="438.96" r="0.95" fill="#c41a38"/>
<circle cx="100.84" cy="438.49" r="0.95" fill="#c41a38"/>
<circle cx="108.20" cy="402.02" r="0.95" fill="#c41a38"/>
<circle cx="104.93" cy="440.34" r="0.95" fill="#c41a38"/>
<circle cx="110.70" cy="433.59" r="0.95" fill="#c41a38"/>
<circle cx="101.70" cy="434.16" r="0.95" fill="#c41a38"/>
<circle cx="100.70" cy="441.52" r="0.95" fill="#c41a38"/>
<circle cx="102.20" cy="447.67" r="0.95" fill="#c41a38"/>
<circle cx="112.20" cy="447.48" r="0.95" fill="#c41a38"/>
<circle cx="111.04" cy="439.05" r="0.95" fill="#c41a38"/>
<circle cx="110.20" cy="449.55" r="0.95" fill="#c41a38"/>
<circle cx="103.56" cy="442.56" r="0.95" fill="#c41a38"/>
<circle cx="105.70" cy="417.75" r="0.95" fill="#c41a38"/>
<circle cx="107.38" cy="440.69" r="0.95" fill="#c41a38"/>
<circle cx="109.70" cy="429.38" r="0.95" fill="#c41a38"/>
<circle cx="102.20" cy="432.27" r="0.95" fill="#c41a38"/>
<circle cx="109.70" cy="427.64" r="0.95" fill="#c41a38"/>
<circle cx="103.70" cy="445.93" r="0.95" fill="#c41a38"/>
<circle cx="102.70" cy="428.84" r="0.95" fill="#c41a38"/>
<circle cx="100.70" cy="447.39" r="0.95" fill="#c41a38"/>
<circle cx="108.20" cy="413.72" r="0.95" fill="#c41a38"/>
<circle cx="106.60" cy="447.11" r="0.95" fill="#c41a38"/>
<circle cx="112.20" cy="434.17" r="0.95" fill="#c41a38"/>
<circle cx="108.20" cy="409.13" r="0.95" fill="#c41a38"/>
<circle cx="104.12" cy="433.13" r="0.95" fill="#c41a38"/>
<circle cx="104.20" cy="431.57" r="0.95" fill="#c41a38"/>
<circle cx="110.20" cy="446.16" r="0.95" fill="#c41a38"/>
<circle cx="110.70" cy="425.67" r="0.95" fill="#c41a38"/>
<circle cx="111.20" cy="430.07" r="0.95" fill="#c41a38"/>
<circle cx="102.20" cy="424.47" r="0.95" fill="#c41a38"/>
<circle cx="102.20" cy="437.61" r="0.95" fill="#c41a38"/>
<circle cx="105.20" cy="442.96" r="0.95" fill="#c41a38"/>
<circle cx="101.70" cy="443.19" r="0.95" fill="#c41a38"/>
<line x1="106.70" y1="421.30" x2="106.70" y2="446.00" stroke="#222" stroke-width="0.9"/>
<line x1="103.70" y1="421.30" x2="109.70" y2="421.30" stroke="#222" stroke-width="0.9"/>
<line x1="103.70" y1="446.00" x2="109.70" y2="446.00" stroke="#222" stroke-width="0.9"/>
<line x1="100.70" y1="437.50" x2="112.70" y2="437.50" stroke="#222" stroke-width="1.1"/>
<circle cx="125.20" cy="378.22" r="0.95" fill="#c41a38"/>
<circle cx="125.20" cy="420.66" r="0.95" fill="#c41a38"/>
<circle cx="125.20" cy="448.90" r="0.95" fill="#c41a38"/>
<circle cx="125.20" cy="409.77" r="0.95" fill="#c41a38"/>
<circle cx="125.20" cy="424.35" r="0.95" fill="#c41a38"/>
<circle cx="125.20" cy="389.90" r="0.95" fill="#c41a38"/>
<circle cx="125.20" cy="429.52" r="0.95" fill="#c41a38"/>
<circle cx="125.20" cy="433.78" r="0.95" fill="#c41a38"/>
<circle cx="126.70" cy="433.98" r="0.95" fill="#c41a38"/>
<circle cx="123.70" cy="433.55" r="0.95" fill="#c41a38"/>
<circle cx="126.70" cy="408.95" r="0.95" fill="#c41a38"/>
<circle cx="125.20" cy="427.92" r="0.95" fill="#c41a38"/>
<circle cx="125.20" cy="415.57" r="0.95" fill="#c41a38"/>
<circle cx="126.70" cy="427.89" r="0.95" fill="#c41a38"/>
<circle cx="123.70" cy="410.37" r="0.95" fill="#c41a38"/>
<circle cx="125.20" cy="412.54" r="0.95" fill="#c41a38"/>
<circle cx="126.20" cy="430.92" r="0.95" fill="#c41a38"/>
<circle cx="125.20" cy="401.47" r="0.95" fill="#c41a38"/>
<circle cx="126.70" cy="429.46" r="0.95" fill="#c41a38"/>
<circle cx="125.20" cy="399.18" r="0.95" fill="#c41a38"/>
<circle cx="125.20" cy="440.72" r="0.95" fill="#c41a38"/>
<circle cx="125.20" cy="438.81" r="0.95" fill="#c41a38"/>
<circle cx="125.20" cy="435.84" r="0.95" fill="#c41a38"/>
<circle cx="126.70" cy="424.67" r="0.95" fill="#c41a38"/>
<circle cx="126.20" cy="423.17" r="0.95" fill="#c41a38"/>
<circle cx="123.70" cy="430.45" r="0.95" fill="#c41a38"/>
<circle cx="126.20" cy="411.26" r="0.95" fill="#c41a38"/>
<circle cx="125.20" cy="397.50" r="0.95" fill="#c41a38"/>
<circle cx="123.70" cy="435.43" r="0.95" fill="#c41a38"/>
<circle cx="123.70" cy="412.38" r="0.95" fill="#c41a38"/>
<circle cx="125.20" cy="417.47" r="0.95" fill="#c41a38"/>
<circle cx="123.70" cy="427.12" r="0.95" fill="#c41a38"/>
<circle cx="127.70" cy="432.67" r="0.95" fill="#c41a38"/>
<circle cx="128.20" cy="430.49" r="0.95" fill="#c41a38"/>
<circle cx="125.20" cy="432.23" r="0.95" fill="#c41a38"/>
<circle cx="125.20" cy="403.72" r="0.95" fill="#c41a38"/>
<circle cx="126.20" cy="419.44" r="0.95" fill="#c41a38"/>
<circle cx="126.70" cy="437.80" r="0.95" fill="#c41a38"/>
<circle cx="125.20" cy="395.17" r="0.95" fill="#c41a38"/>
<circle cx="125.20" cy="406.82" r="0.95" fill="#c41a38"/>
<circle cx="123.70" cy="424.38" r="0.95" fill="#c41a38"/>
<circle cx="124.20" cy="421.96" r="0.95" fill="#c41a38"/>
<circle cx="122.20" cy="430.70" r="0.95" fill="#c41a38"/>
<circle cx="128.20" cy="434.19" r="0.95" fill="#c41a38"/>
<circle cx="126.70" cy="406.96" r="0.95" fill="#c41a38"/>
<circle cx="128.20" cy="424.74" r="0.95" fill="#c41a38"/>
<circle cx="124.20" cy="405.62" r="0.95" fill="#c41a38"/>
<circle cx="123.70" cy="438.26" r="0.95" fill="#c41a38"/>
<circle cx="128.20" cy="438.58" r="0.95" fill="#c41a38"/>
<circle cx="127.70" cy="422.07" r="0.95" fill="#c41a38"/>
<circle cx="126.70" cy="417.90" r="0.95" fill="#c41a38"/>
<circle cx="125.20" cy="385.89" r="0.95" fill="#c41a38"/>
<circle cx="122.70" cy="422.68" r="0.95" fill="#c41a38"/>
<circle cx="125.20" cy="426.18" r="0.95" fill="#c41a38"/>
<circle cx="125.20" cy="373.80" r="0.95" fill="#c41a38"/>
<circle cx="123.70" cy="419.86" r="0.95" fill="#c41a38"/>
<circle cx="129.70" cy="430.69" r="0.95" fill="#c41a38"/>
<circle cx="122.20" cy="432.48" r="0.95" fill="#c41a38"/>
<circle cx="126.70" cy="440.74" r="0.95" fill="#c41a38"/>
<circle cx="128.20" cy="409.57" r="0.95" fill="#c41a38"/>
<circle cx="122.20" cy="437.53" r="0.95" fill="#c41a38"/>
<circle cx="120.70" cy="430.39" r="0.95" fill="#c41a38"/>
<circle cx="127.20" cy="426.13" r="0.95" fill="#c41a38"/>
<circle cx="126.70" cy="385.24" r="0.95" fill="#c41a38"/>
<circle cx="131.20" cy="430.66" r="0.95" fill="#c41a38"/>
<circle cx="129.70" cy="437.66" r="0.95" fill="#c41a38"/>
<circle cx="128.20" cy="427.54" r="0.95" fill="#c41a38"/>
<circle cx="129.20" cy="433.03" r="0.95" fill="#c41a38"/>
<circle cx="126.20" cy="393.96" r="0.95" fill="#c41a38"/>
<circle cx="125.20" cy="380.67" r="0.95" fill="#c41a38"/>
<line x1="125.20" y1="409.00" x2="125.20" y2="434.60" stroke="#222" stroke-width="0.9"/>
<line x1="122.20" y1="409.00" x2="128.20" y2="409.00" stroke="#222" stroke-width="0.9"/>
<line x1="122.20" y1="434.60" x2="128.20" y2="434.60" stroke="#222" stroke-width="0.9"/>
<line x1="119.20" y1="422.30" x2="131.20" y2="422.30" stroke="#222" stroke-width="1.1"/>
<circle cx="143.70" cy="428.85" r="0.95" fill="#c41a38"/>
<circle cx="143.70" cy="447.71" r="0.95" fill="#c41a38"/>
<circle cx="143.70" cy="443.78" r="0.95" fill="#c41a38"/>
<circle cx="143.70" cy="390.56" r="0.95" fill="#c41a38"/>
<circle cx="143.70" cy="434.80" r="0.95" fill="#c41a38"/>
<circle cx="145.20" cy="429.18" r="0.95" fill="#c41a38"/>
<circle cx="143.70" cy="419.56" r="0.95" fill="#c41a38"/>
<circle cx="143.70" cy="436.90" r="0.95" fill="#c41a38"/>
<circle cx="143.70" cy="368.75" r="0.95" fill="#c41a38"/>
<circle cx="143.70" cy="439.42" r="0.95" fill="#c41a38"/>
<circle cx="145.20" cy="447.35" r="0.95" fill="#c41a38"/>
<circle cx="143.70" cy="441.39" r="0.95" fill="#c41a38"/>
<circle cx="143.70" cy="388.81" r="0.95" fill="#c41a38"/>
<circle cx="144.70" cy="418.16" r="0.95" fill="#c41a38"/>
<circle cx="145.20" cy="444.12" r="0.95" fill="#c41a38"/>
<circle cx="145.20" cy="436.61" r="0.95" fill="#c41a38"/>
<circle cx="145.20" cy="434.96" r="0.95" fill="#c41a38"/>
<circle cx="142.20" cy="435.67" r="0.95" fill="#c41a38"/>
<circle cx="142.20" cy="443.85" r="0.95" fill="#c41a38"/>
<circle cx="146.70" cy="435.13" r="0.95" fill="#c41a38"/>
<circle cx="143.70" cy="425.62" r="0.95" fill="#c41a38"/>
<circle cx="143.70" cy="450.74" r="0.95" fill="#c41a38"/>
<circle cx="145.20" cy="425.77" r="0.95" fill="#c41a38"/>
<circle cx="143.70" cy="432.92" r="0.95" fill="#c41a38"/>
<circle cx="146.70" cy="443.13" r="0.95" fill="#c41a38"/>
<circle cx="140.70" cy="436.59" r="0.95" fill="#c41a38"/>
<circle cx="142.20" cy="428.86" r="0.95" fill="#c41a38"/>
<circle cx="145.20" cy="432.29" r="0.95" fill="#c41a38"/>
<circle cx="144.70" cy="449.58" r="0.95" fill="#c41a38"/>
<circle cx="143.70" cy="427.29" r="0.95" fill="#c41a38"/>
<circle cx="143.70" cy="431.10" r="0.95" fill="#c41a38"/>
<circle cx="142.20" cy="447.25" r="0.95" fill="#c41a38"/>
<circle cx="143.70" cy="407.76" r="0.95" fill="#c41a38"/>
<circle cx="142.20" cy="432.76" r="0.95" fill="#c41a38"/>
<circle cx="146.70" cy="447.41" r="0.95" fill="#c41a38"/>
<circle cx="140.70" cy="446.26" r="0.95" fill="#c41a38"/>
<circle cx="142.20" cy="430.54" r="0.95" fill="#c41a38"/>
<circle cx="146.70" cy="431.56" r="0.95" fill="#c41a38"/>
<circle cx="147.70" cy="436.48" r="0.95" fill="#c41a38"/>
<circle cx="146.70" cy="429.65" r="0.95" fill="#c41a38"/>
<circle cx="140.70" cy="430.84" r="0.95" fill="#c41a38"/>
<circle cx="142.20" cy="424.58" r="0.95" fill="#c41a38"/>
<circle cx="145.20" cy="439.61" r="0.95" fill="#c41a38"/>
<circle cx="147.70" cy="446.29" r="0.95" fill="#c41a38"/>
<circle cx="140.70" cy="432.52" r="0.95" fill="#c41a38"/>
<circle cx="146.70" cy="425.22" r="0.95" fill="#c41a38"/>
<circle cx="143.70" cy="445.35" r="0.95" fill="#c41a38"/>
<circle cx="142.20" cy="439.99" r="0.95" fill="#c41a38"/>
<circle cx="143.70" cy="411.83" r="0.95" fill="#c41a38"/>
<circle cx="145.20" cy="442.06" r="0.95" fill="#c41a38"/>
<circle cx="140.70" cy="434.89" r="0.95" fill="#c41a38"/>
<circle cx="139.20" cy="446.41" r="0.95" fill="#c41a38"/>
<circle cx="143.70" cy="421.22" r="0.95" fill="#c41a38"/>
<circle cx="139.20" cy="435.72" r="0.95" fill="#c41a38"/>
<circle cx="144.70" cy="406.42" r="0.95" fill="#c41a38"/>
<circle cx="140.70" cy="443.29" r="0.95" fill="#c41a38"/>
<circle cx="141.20" cy="425.92" r="0.95" fill="#c41a38"/>
<circle cx="148.20" cy="434.80" r="0.95" fill="#c41a38"/>
<circle cx="146.70" cy="439.90" r="0.95" fill="#c41a38"/>
<circle cx="146.20" cy="427.98" r="0.95" fill="#c41a38"/>
<circle cx="140.70" cy="440.71" r="0.95" fill="#c41a38"/>
<circle cx="143.70" cy="452.50" r="0.95" fill="#c41a38"/>
<circle cx="146.20" cy="445.30" r="0.95" fill="#c41a38"/>
<circle cx="148.20" cy="429.88" r="0.95" fill="#c41a38"/>
<circle cx="142.20" cy="437.56" r="0.95" fill="#c41a38"/>
<circle cx="149.70" cy="435.38" r="0.95" fill="#c41a38"/>
<circle cx="146.70" cy="433.30" r="0.95" fill="#c41a38"/>
<circle cx="143.70" cy="423.10" r="0.95" fill="#c41a38"/>
<circle cx="140.70" cy="427.93" r="0.95" fill="#c41a38"/>
<circle cx="148.20" cy="442.57" r="0.95" fill="#c41a38"/>
<circle cx="139.20" cy="437.57" r="0.95" fill="#c41a38"/>
<circle cx="148.20" cy="431.83" r="0.95" fill="#c41a38"/>
<circle cx="139.20" cy="429.96" r="0.95" fill="#c41a38"/>
<circle cx="146.20" cy="438.31" r="0.95" fill="#c41a38"/>
<circle cx="143.70" cy="413.43" r="0.95" fill="#c41a38"/>
<circle cx="143.20" cy="417.71" r="0.95" fill="#c41a38"/>
<circle cx="142.20" cy="449.70" r="0.95" fill="#c41a38"/>
<circle cx="139.20" cy="443.09" r="0.95" fill="#c41a38"/>
<circle cx="137.70" cy="435.37" r="0.95" fill="#c41a38"/>
<circle cx="149.20" cy="437.33" r="0.95" fill="#c41a38"/>
<line x1="143.70" y1="420.00" x2="143.70" y2="442.50" stroke="#222" stroke-width="0.9"/>
<line x1="140.70" y1="420.00" x2="146.70" y2="420.00" stroke="#222" stroke-width="0.9"/>
<line x1="140.70" y1="442.50" x2="146.70" y2="442.50" stroke="#222" stroke-width="0.9"/>
<line x1="137.70" y1="434.50" x2="149.70" y2="434.50" stroke="#222" stroke-width="1.1"/>
<circle cx="162.20" cy="438.02" r="0.95" fill="#c41a38"/>
<circle cx="163.20" cy="439.27" r="0.95" fill="#c41a38"/>
<circle cx="162.20" cy="434.94" r="0.95" fill="#c41a38"/>
<circle cx="162.20" cy="447.16" r="0.95" fill="#c41a38"/>
<circle cx="163.70" cy="447.69" r="0.95" fill="#c41a38"/>
<circle cx="162.20" cy="421.34" r="0.95" fill="#c41a38"/>
<circle cx="163.20" cy="436.10" r="0.95" fill="#c41a38"/>
<circle cx="162.20" cy="441.28" r="0.95" fill="#c41a38"/>
<circle cx="161.20" cy="439.99" r="0.95" fill="#c41a38"/>
<circle cx="160.70" cy="446.27" r="0.95" fill="#c41a38"/>
<circle cx="162.20" cy="445.50" r="0.95" fill="#c41a38"/>
<circle cx="162.20" cy="424.72" r="0.95" fill="#c41a38"/>
<circle cx="162.20" cy="453.75" r="0.95" fill="#c41a38"/>
<circle cx="160.70" cy="448.25" r="0.95" fill="#c41a38"/>
<circle cx="162.20" cy="428.00" r="0.95" fill="#c41a38"/>
<circle cx="165.20" cy="447.88" r="0.95" fill="#c41a38"/>
<circle cx="163.70" cy="428.35" r="0.95" fill="#c41a38"/>
<circle cx="163.20" cy="420.21" r="0.95" fill="#c41a38"/>
<circle cx="164.70" cy="439.11" r="0.95" fill="#c41a38"/>
<circle cx="162.20" cy="418.75" r="0.95" fill="#c41a38"/>
<circle cx="160.70" cy="436.94" r="0.95" fill="#c41a38"/>
<circle cx="162.20" cy="443.33" r="0.95" fill="#c41a38"/>
<circle cx="159.20" cy="438.01" r="0.95" fill="#c41a38"/>
<circle cx="159.20" cy="447.71" r="0.95" fill="#c41a38"/>
<circle cx="166.20" cy="438.13" r="0.95" fill="#c41a38"/>
<line x1="162.20" y1="435.00" x2="162.20" y2="446.25" stroke="#222" stroke-width="0.9"/>
<line x1="159.20" y1="435.00" x2="165.20" y2="435.00" stroke="#222" stroke-width="0.9"/>
<line x1="159.20" y1="446.25" x2="165.20" y2="446.25" stroke="#222" stroke-width="0.9"/>
<line x1="156.20" y1="440.50" x2="168.20" y2="440.50" stroke="#222" stroke-width="1.1"/>
<circle cx="180.70" cy="387.25" r="0.95" fill="#c41a38"/>
<circle cx="180.70" cy="399.92" r="0.95" fill="#c41a38"/>
<circle cx="182.20" cy="399.44" r="0.95" fill="#c41a38"/>
<circle cx="180.70" cy="422.40" r="0.95" fill="#c41a38"/>
<circle cx="180.70" cy="383.75" r="0.95" fill="#c41a38"/>
<circle cx="180.70" cy="428.78" r="0.95" fill="#c41a38"/>
<circle cx="182.20" cy="429.09" r="0.95" fill="#c41a38"/>
<circle cx="180.70" cy="413.41" r="0.95" fill="#c41a38"/>
<circle cx="180.70" cy="425.72" r="0.95" fill="#c41a38"/>
<circle cx="179.20" cy="400.81" r="0.95" fill="#c41a38"/>
<circle cx="180.70" cy="419.12" r="0.95" fill="#c41a38"/>
<circle cx="179.70" cy="430.14" r="0.95" fill="#c41a38"/>
<circle cx="180.70" cy="403.97" r="0.95" fill="#c41a38"/>
<circle cx="178.20" cy="430.10" r="0.95" fill="#c41a38"/>
<circle cx="181.70" cy="414.62" r="0.95" fill="#c41a38"/>
<circle cx="180.70" cy="442.50" r="0.95" fill="#c41a38"/>
<circle cx="179.20" cy="414.15" r="0.95" fill="#c41a38"/>
<circle cx="182.20" cy="426.82" r="0.95" fill="#c41a38"/>
<circle cx="183.20" cy="414.02" r="0.95" fill="#c41a38"/>
<circle cx="180.70" cy="424.18" r="0.95" fill="#c41a38"/>
<circle cx="181.70" cy="420.45" r="0.95" fill="#c41a38"/>
<circle cx="180.70" cy="393.00" r="0.95" fill="#c41a38"/>
<circle cx="180.70" cy="431.40" r="0.95" fill="#c41a38"/>
<circle cx="180.70" cy="409.17" r="0.95" fill="#c41a38"/>
<circle cx="181.70" cy="391.86" r="0.95" fill="#c41a38"/>
<circle cx="182.20" cy="422.31" r="0.95" fill="#c41a38"/>
<circle cx="182.20" cy="430.95" r="0.95" fill="#c41a38"/>
<circle cx="179.20" cy="423.21" r="0.95" fill="#c41a38"/>
<circle cx="180.70" cy="435.18" r="0.95" fill="#c41a38"/>
<circle cx="179.20" cy="419.81" r="0.95" fill="#c41a38"/>
<line x1="180.70" y1="400.00" x2="180.70" y2="427.50" stroke="#222" stroke-width="0.9"/>
<line x1="177.70" y1="400.00" x2="183.70" y2="400.00" stroke="#222" stroke-width="0.9"/>
<line x1="177.70" y1="427.50" x2="183.70" y2="427.50" stroke="#222" stroke-width="0.9"/>
<line x1="174.70" y1="415.00" x2="186.70" y2="415.00" stroke="#222" stroke-width="1.1"/>
<circle cx="199.20" cy="401.13" r="0.95" fill="#c41a38"/>
<circle cx="199.20" cy="441.49" r="0.95" fill="#c41a38"/>
<circle cx="199.20" cy="427.67" r="0.95" fill="#c41a38"/>
<circle cx="199.20" cy="422.74" r="0.95" fill="#c41a38"/>
<circle cx="200.70" cy="422.42" r="0.95" fill="#c41a38"/>
<circle cx="199.20" cy="429.35" r="0.95" fill="#c41a38"/>
<circle cx="199.20" cy="434.96" r="0.95" fill="#c41a38"/>
<circle cx="200.70" cy="441.74" r="0.95" fill="#c41a38"/>
<circle cx="197.70" cy="442.56" r="0.95" fill="#c41a38"/>
<circle cx="200.20" cy="433.82" r="0.95" fill="#c41a38"/>
<circle cx="199.20" cy="439.78" r="0.95" fill="#c41a38"/>
<circle cx="198.20" cy="433.84" r="0.95" fill="#c41a38"/>
<circle cx="199.20" cy="432.55" r="0.95" fill="#c41a38"/>
<circle cx="201.70" cy="434.44" r="0.95" fill="#c41a38"/>
<circle cx="199.20" cy="419.28" r="0.95" fill="#c41a38"/>
<circle cx="200.20" cy="431.21" r="0.95" fill="#c41a38"/>
<circle cx="199.20" cy="421.23" r="0.95" fill="#c41a38"/>
<circle cx="199.20" cy="448.75" r="0.95" fill="#c41a38"/>
<circle cx="200.70" cy="435.57" r="0.95" fill="#c41a38"/>
<circle cx="198.70" cy="430.84" r="0.95" fill="#c41a38"/>
<circle cx="196.70" cy="433.19" r="0.95" fill="#c41a38"/>
<circle cx="199.20" cy="414.55" r="0.95" fill="#c41a38"/>
<circle cx="197.70" cy="423.66" r="0.95" fill="#c41a38"/>
<circle cx="199.20" cy="425.88" r="0.95" fill="#c41a38"/>
<circle cx="199.20" cy="436.59" r="0.95" fill="#c41a38"/>
<circle cx="199.20" cy="409.26" r="0.95" fill="#c41a38"/>
<circle cx="200.70" cy="428.86" r="0.95" fill="#c41a38"/>
<circle cx="200.20" cy="438.59" r="0.95" fill="#c41a38"/>
<circle cx="200.70" cy="408.47" r="0.95" fill="#c41a38"/>
<circle cx="199.20" cy="398.12" r="0.95" fill="#c41a38"/>
<circle cx="197.20" cy="435.15" r="0.95" fill="#c41a38"/>
<circle cx="199.20" cy="406.42" r="0.95" fill="#c41a38"/>
<circle cx="203.20" cy="433.49" r="0.95" fill="#c41a38"/>
<circle cx="200.20" cy="418.14" r="0.95" fill="#c41a38"/>
<circle cx="199.20" cy="404.25" r="0.95" fill="#c41a38"/>
<circle cx="202.20" cy="422.97" r="0.95" fill="#c41a38"/>
<circle cx="197.70" cy="428.77" r="0.95" fill="#c41a38"/>
<circle cx="198.70" cy="417.25" r="0.95" fill="#c41a38"/>
<circle cx="198.20" cy="408.07" r="0.95" fill="#c41a38"/>
<circle cx="195.70" cy="435.38" r="0.95" fill="#c41a38"/>
<circle cx="200.70" cy="426.38" r="0.95" fill="#c41a38"/>
<circle cx="200.70" cy="419.64" r="0.95" fill="#c41a38"/>
<circle cx="202.20" cy="427.96" r="0.95" fill="#c41a38"/>
<circle cx="199.20" cy="389.54" r="0.95" fill="#c41a38"/>
<circle cx="196.70" cy="441.43" r="0.95" fill="#c41a38"/>
<circle cx="200.70" cy="406.62" r="0.95" fill="#c41a38"/>
<circle cx="201.70" cy="432.32" r="0.95" fill="#c41a38"/>
<circle cx="194.70" cy="434.07" r="0.95" fill="#c41a38"/>
<circle cx="202.20" cy="436.20" r="0.95" fill="#c41a38"/>
<circle cx="203.70" cy="436.05" r="0.95" fill="#c41a38"/>
<circle cx="197.20" cy="425.15" r="0.95" fill="#c41a38"/>
<circle cx="201.70" cy="440.60" r="0.95" fill="#c41a38"/>
<circle cx="197.70" cy="427.25" r="0.95" fill="#c41a38"/>
<circle cx="200.70" cy="399.13" r="0.95" fill="#c41a38"/>
<circle cx="197.70" cy="419.45" r="0.95" fill="#c41a38"/>
<circle cx="199.70" cy="402.80" r="0.95" fill="#c41a38"/>
<circle cx="202.20" cy="425.85" r="0.95" fill="#c41a38"/>
<circle cx="201.70" cy="418.29" r="0.95" fill="#c41a38"/>
<circle cx="197.70" cy="406.01" r="0.95" fill="#c41a38"/>
<circle cx="199.20" cy="368.75" r="0.95" fill="#c41a38"/>
<circle cx="200.70" cy="414.60" r="0.95" fill="#c41a38"/>
<circle cx="204.70" cy="433.46" r="0.95" fill="#c41a38"/>
<circle cx="200.70" cy="437.13" r="0.95" fill="#c41a38"/>
<circle cx="197.70" cy="437.56" r="0.95" fill="#c41a38"/>
<circle cx="202.20" cy="429.88" r="0.95" fill="#c41a38"/>
<circle cx="196.70" cy="422.39" r="0.95" fill="#c41a38"/>
<circle cx="197.70" cy="415.94" r="0.95" fill="#c41a38"/>
<circle cx="195.20" cy="423.03" r="0.95" fill="#c41a38"/>
<circle cx="203.70" cy="422.09" r="0.95" fill="#c41a38"/>
<circle cx="200.20" cy="416.54" r="0.95" fill="#c41a38"/>
<circle cx="197.20" cy="430.64" r="0.95" fill="#c41a38"/>
<circle cx="202.20" cy="442.59" r="0.95" fill="#c41a38"/>
<circle cx="196.70" cy="408.43" r="0.95" fill="#c41a38"/>
<circle cx="196.70" cy="417.30" r="0.95" fill="#c41a38"/>
<circle cx="195.70" cy="431.63" r="0.95" fill="#c41a38"/>
<circle cx="193.70" cy="422.18" r="0.95" fill="#c41a38"/>
<circle cx="196.20" cy="419.07" r="0.95" fill="#c41a38"/>
<circle cx="193.70" cy="435.48" r="0.95" fill="#c41a38"/>
<circle cx="200.20" cy="424.50" r="0.95" fill="#c41a38"/>
<circle cx="202.20" cy="408.82" r="0.95" fill="#c41a38"/>
<circle cx="205.20" cy="435.95" r="0.95" fill="#c41a38"/>
<circle cx="201.50" cy="434.42" r="0.95" fill="#c41a38"/>
<circle cx="202.70" cy="416.94" r="0.95" fill="#c41a38"/>
<circle cx="203.70" cy="430.40" r="0.95" fill="#c41a38"/>
<circle cx="203.70" cy="418.34" r="0.95" fill="#c41a38"/>
<circle cx="203.70" cy="423.84" r="0.95" fill="#c41a38"/>
<circle cx="203.20" cy="440.57" r="0.95" fill="#c41a38"/>
<circle cx="194.20" cy="431.68" r="0.95" fill="#c41a38"/>
<circle cx="195.70" cy="425.29" r="0.95" fill="#c41a38"/>
<circle cx="196.20" cy="437.45" r="0.95" fill="#c41a38"/>
<line x1="199.20" y1="418.75" x2="199.20" y2="440.00" stroke="#222" stroke-width="0.9"/>
<line x1="196.20" y1="418.75" x2="202.20" y2="418.75" stroke="#222" stroke-width="0.9"/>
<line x1="196.20" y1="440.00" x2="202.20" y2="440.00" stroke="#222" stroke-width="0.9"/>
<line x1="193.20" y1="428.00" x2="205.20" y2="428.00" stroke="#222" stroke-width="1.1"/>
<circle cx="217.70" cy="450.06" r="0.95" fill="#c41a38"/>
<circle cx="217.70" cy="442.50" r="0.95" fill="#c41a38"/>
<circle cx="217.70" cy="409.11" r="0.95" fill="#c41a38"/>
<circle cx="217.70" cy="436.19" r="0.95" fill="#c41a38"/>
<circle cx="219.20" cy="448.98" r="0.95" fill="#c41a38"/>
<circle cx="217.70" cy="448.34" r="0.95" fill="#c41a38"/>
<circle cx="218.70" cy="441.22" r="0.95" fill="#c41a38"/>
<circle cx="217.70" cy="426.96" r="0.95" fill="#c41a38"/>
<circle cx="217.20" cy="440.22" r="0.95" fill="#c41a38"/>
<circle cx="216.20" cy="448.71" r="0.95" fill="#c41a38"/>
<circle cx="217.70" cy="444.10" r="0.95" fill="#c41a38"/>
<circle cx="218.20" cy="445.53" r="0.95" fill="#c41a38"/>
<circle cx="218.20" cy="438.82" r="0.95" fill="#c41a38"/>
<circle cx="217.70" cy="433.62" r="0.95" fill="#c41a38"/>
<circle cx="216.20" cy="444.46" r="0.95" fill="#c41a38"/>
<circle cx="219.70" cy="439.78" r="0.95" fill="#c41a38"/>
<circle cx="219.20" cy="433.12" r="0.95" fill="#c41a38"/>
<circle cx="220.70" cy="449.50" r="0.95" fill="#c41a38"/>
<circle cx="219.70" cy="444.54" r="0.95" fill="#c41a38"/>
<circle cx="216.70" cy="446.29" r="0.95" fill="#c41a38"/>
<circle cx="220.20" cy="447.71" r="0.95" fill="#c41a38"/>
<circle cx="219.20" cy="436.37" r="0.95" fill="#c41a38"/>
<circle cx="219.20" cy="427.32" r="0.95" fill="#c41a38"/>
<circle cx="216.70" cy="432.34" r="0.95" fill="#c41a38"/>
<circle cx="217.70" cy="429.24" r="0.95" fill="#c41a38"/>
<circle cx="215.20" cy="445.81" r="0.95" fill="#c41a38"/>
<circle cx="218.70" cy="430.43" r="0.95" fill="#c41a38"/>
<circle cx="216.20" cy="426.19" r="0.95" fill="#c41a38"/>
<circle cx="215.70" cy="439.31" r="0.95" fill="#c41a38"/>
<circle cx="221.20" cy="439.54" r="0.95" fill="#c41a38"/>
<circle cx="219.20" cy="442.73" r="0.95" fill="#c41a38"/>
<circle cx="217.70" cy="405.00" r="0.95" fill="#c41a38"/>
<circle cx="221.20" cy="445.40" r="0.95" fill="#c41a38"/>
<circle cx="214.20" cy="444.67" r="0.95" fill="#c41a38"/>
<circle cx="222.70" cy="445.51" r="0.95" fill="#c41a38"/>
<circle cx="214.20" cy="439.51" r="0.95" fill="#c41a38"/>
<circle cx="215.20" cy="443.11" r="0.95" fill="#c41a38"/>
<circle cx="212.70" cy="445.65" r="0.95" fill="#c41a38"/>
<circle cx="218.20" cy="431.99" r="0.95" fill="#c41a38"/>
<circle cx="222.70" cy="440.21" r="0.95" fill="#c41a38"/>
<circle cx="218.70" cy="407.78" r="0.95" fill="#c41a38"/>
<circle cx="216.20" cy="429.03" r="0.95" fill="#c41a38"/>
<circle cx="214.70" cy="449.63" r="0.95" fill="#c41a38"/>
<circle cx="221.53" cy="445.62" r="0.95" fill="#c41a38"/>
<circle cx="216.20" cy="435.28" r="0.95" fill="#c41a38"/>
<circle cx="216.20" cy="441.48" r="0.95" fill="#c41a38"/>
<circle cx="220.70" cy="441.09" r="0.95" fill="#c41a38"/>
<circle cx="220.43" cy="445.60" r="0.95" fill="#c41a38"/>
<circle cx="221.20" cy="443.62" r="0.95" fill="#c41a38"/>
<circle cx="217.70" cy="453.00" r="0.95" fill="#c41a38"/>
<circle cx="215.68" cy="445.71" r="0.95" fill="#c41a38"/>
<circle cx="220.70" cy="436.01" r="0.95" fill="#c41a38"/>
<circle cx="219.70" cy="438.25" r="0.95" fill="#c41a38"/>
<circle cx="214.70" cy="448.01" r="0.95" fill="#c41a38"/>
<circle cx="212.70" cy="444.02" r="0.95" fill="#c41a38"/>
<circle cx="217.70" cy="422.63" r="0.95" fill="#c41a38"/>
<circle cx="215.70" cy="433.50" r="0.95" fill="#c41a38"/>
<circle cx="214.70" cy="436.12" r="0.95" fill="#c41a38"/>
<circle cx="216.70" cy="438.04" r="0.95" fill="#c41a38"/>
<circle cx="221.70" cy="447.97" r="0.95" fill="#c41a38"/>
<circle cx="222.20" cy="449.84" r="0.95" fill="#c41a38"/>
<circle cx="214.70" cy="441.02" r="0.95" fill="#c41a38"/>
<circle cx="223.70" cy="444.35" r="0.95" fill="#c41a38"/>
<circle cx="213.20" cy="448.13" r="0.95" fill="#c41a38"/>
<circle cx="222.70" cy="438.71" r="0.95" fill="#c41a38"/>
<circle cx="213.20" cy="441.51" r="0.95" fill="#c41a38"/>
<circle cx="217.32" cy="445.86" r="0.95" fill="#c41a38"/>
<circle cx="223.20" cy="447.45" r="0.95" fill="#c41a38"/>
<circle cx="213.20" cy="438.33" r="0.95" fill="#c41a38"/>
<circle cx="222.20" cy="441.66" r="0.95" fill="#c41a38"/>
<line x1="217.70" y1="435.00" x2="217.70" y2="446.25" stroke="#222" stroke-width="0.9"/>
<line x1="214.70" y1="435.00" x2="220.70" y2="435.00" stroke="#222" stroke-width="0.9"/>
<line x1="214.70" y1="446.25" x2="220.70" y2="446.25" stroke="#222" stroke-width="0.9"/>
<line x1="211.70" y1="440.50" x2="223.70" y2="440.50" stroke="#222" stroke-width="1.1"/>
<line x1="70.60" y1="359.10" x2="107.70" y2="359.10" stroke="#555" stroke-width="1.1"/>
<text x="89.25" y="358.70" font-size="6" text-anchor="middle" font-weight="bold" fill="#222" stroke="#222" stroke-width="0.2" letter-spacing="0.3">*</text>
<line x1="88.10" y1="365.20" x2="106.10" y2="365.20" stroke="#555" stroke-width="1.1"/>
<text x="96.95" y="365.20" font-size="6" text-anchor="middle" font-weight="bold" fill="#222" stroke="#222" stroke-width="0.2" letter-spacing="0.3">****</text>
<line x1="126.30" y1="359.00" x2="163.40" y2="359.00" stroke="#555" stroke-width="1.1"/>
<text x="145.15" y="359.30" font-size="6" text-anchor="middle" font-weight="bold" fill="#222" stroke="#222" stroke-width="0.2" letter-spacing="0.3">****</text>
<line x1="125.90" y1="366.60" x2="143.30" y2="366.60" stroke="#555" stroke-width="1.1"/>
<text x="134.55" y="366.70" font-size="6" text-anchor="middle" font-weight="bold" fill="#222" stroke="#222" stroke-width="0.2" letter-spacing="0.3">****</text>
<line x1="145.00" y1="366.60" x2="162.30" y2="366.60" stroke="#555" stroke-width="1.1"/>
<text x="152.95" y="366.70" font-size="6" text-anchor="middle" font-weight="bold" fill="#222" stroke="#222" stroke-width="0.2" letter-spacing="0.3">**</text>
<line x1="181.30" y1="358.60" x2="218.40" y2="358.60" stroke="#555" stroke-width="1.1"/>
<text x="200.15" y="359.30" font-size="6" text-anchor="middle" font-weight="bold" fill="#222" stroke="#222" stroke-width="0.2" letter-spacing="0.3">****</text>
<line x1="180.30" y1="366.60" x2="197.20" y2="366.60" stroke="#555" stroke-width="1.1"/>
<text x="188.95" y="366.70" font-size="6" text-anchor="middle" font-weight="bold" fill="#222" stroke="#222" stroke-width="0.2" letter-spacing="0.3">***</text>
<line x1="198.30" y1="366.60" x2="217.70" y2="366.60" stroke="#555" stroke-width="1.1"/>
<text x="208.55" y="366.70" font-size="6" text-anchor="middle" font-weight="bold" fill="#222" stroke="#222" stroke-width="0.2" letter-spacing="0.3">****</text>
<line x1="357.90" y1="360.40" x2="357.90" y2="472.00" stroke="#222" stroke-width="1.15"/>
<line x1="355.40" y1="471.40" x2="357.90" y2="471.40" stroke="#222" stroke-width="1.0"/>
<text x="352.30" y="474.40" font-size="7.6" text-anchor="end" fill="#222" stroke="#222" stroke-width="0.2">0</text>
<line x1="355.40" y1="444.33" x2="357.90" y2="444.33" stroke="#222" stroke-width="1.0"/>
<text x="352.30" y="447.33" font-size="7.6" text-anchor="end" fill="#222" stroke="#222" stroke-width="0.2">5000</text>
<line x1="355.40" y1="417.26" x2="357.90" y2="417.26" stroke="#222" stroke-width="1.0"/>
<text x="352.30" y="420.26" font-size="7.6" text-anchor="end" fill="#222" stroke="#222" stroke-width="0.2">10000</text>
<line x1="355.40" y1="390.19" x2="357.90" y2="390.19" stroke="#222" stroke-width="1.0"/>
<text x="352.30" y="393.19" font-size="7.6" text-anchor="end" fill="#222" stroke="#222" stroke-width="0.2">15000</text>
<line x1="355.40" y1="363.12" x2="357.90" y2="363.12" stroke="#222" stroke-width="1.0"/>
<text x="352.30" y="366.12" font-size="7.6" text-anchor="end" fill="#222" stroke="#222" stroke-width="0.2">20000</text>
<line x1="355.50" y1="471.50" x2="513.40" y2="471.50" stroke="#222" stroke-width="1.15"/>
<line x1="366.30" y1="471.50" x2="366.30" y2="474.50" stroke="#222" stroke-width="1.0"/>
<line x1="378.90" y1="471.50" x2="378.90" y2="474.50" stroke="#222" stroke-width="1.0"/>
<line x1="391.50" y1="471.50" x2="391.50" y2="474.50" stroke="#222" stroke-width="1.0"/>
<line x1="404.10" y1="471.50" x2="404.10" y2="474.50" stroke="#222" stroke-width="1.0"/>
<line x1="416.70" y1="471.50" x2="416.70" y2="474.50" stroke="#222" stroke-width="1.0"/>
<line x1="429.30" y1="471.50" x2="429.30" y2="474.50" stroke="#222" stroke-width="1.0"/>
<line x1="441.90" y1="471.50" x2="441.90" y2="474.50" stroke="#222" stroke-width="1.0"/>
<line x1="454.50" y1="471.50" x2="454.50" y2="474.50" stroke="#222" stroke-width="1.0"/>
<line x1="467.10" y1="471.50" x2="467.10" y2="474.50" stroke="#222" stroke-width="1.0"/>
<line x1="479.70" y1="471.50" x2="479.70" y2="474.50" stroke="#222" stroke-width="1.0"/>
<line x1="492.30" y1="471.50" x2="492.30" y2="474.50" stroke="#222" stroke-width="1.0"/>
<line x1="504.90" y1="471.50" x2="504.90" y2="474.50" stroke="#222" stroke-width="1.0"/>
<text x="325.00" y="416.00" font-size="9.4" text-anchor="middle" textLength="69.2" lengthAdjust="spacingAndGlyphs" transform="rotate(-90 325.00 416.00)" fill="#222" stroke="#222" stroke-width="0.25">MFI of NKG2A<tspan font-size="5.4" dy="-2.6">+</tspan><tspan dy="2.6"> NK cells</tspan></text>
<text x="325.40" y="481.50" font-size="7.5" fill="#222" stroke="#222" stroke-width="0.2">NKG2C</text>
<text x="376.00" y="480.70" font-size="7.9" text-anchor="end" textLength="20.7" lengthAdjust="spacingAndGlyphs" transform="rotate(-45 376.00 480.70)" fill="#2a2a2a" stroke="#2a2a2a" stroke-width="0.15">V1/V1</text>
<text x="401.20" y="480.70" font-size="7.9" text-anchor="end" textLength="20.7" lengthAdjust="spacingAndGlyphs" transform="rotate(-45 401.20 480.70)" fill="#2a2a2a" stroke="#2a2a2a" stroke-width="0.15">V1/V2</text>
<text x="426.40" y="480.70" font-size="7.9" text-anchor="end" textLength="20.7" lengthAdjust="spacingAndGlyphs" transform="rotate(-45 426.40 480.70)" fill="#2a2a2a" stroke="#2a2a2a" stroke-width="0.15">V2/V2</text>
<text x="451.60" y="480.70" font-size="7.9" text-anchor="end" textLength="25.35" lengthAdjust="spacingAndGlyphs" transform="rotate(-45 451.60 480.70)" fill="#2a2a2a" stroke="#2a2a2a" stroke-width="0.15">V1/Neg</text>
<text x="476.80" y="480.70" font-size="7.9" text-anchor="end" textLength="25.35" lengthAdjust="spacingAndGlyphs" transform="rotate(-45 476.80 480.70)" fill="#2a2a2a" stroke="#2a2a2a" stroke-width="0.15">V2/Neg</text>
<text x="502.00" y="480.70" font-size="7.9" text-anchor="end" textLength="30.0" lengthAdjust="spacingAndGlyphs" transform="rotate(-45 502.00 480.70)" fill="#2a2a2a" stroke="#2a2a2a" stroke-width="0.15">Neg/Neg</text>
<circle cx="366.30" cy="457.93" r="0.95" fill="#0a6650"/>
<circle cx="366.30" cy="459.63" r="0.95" fill="#0a6650"/>
<circle cx="366.30" cy="463.48" r="0.95" fill="#0a6650"/>
<circle cx="367.80" cy="460.20" r="0.95" fill="#0a6650"/>
<circle cx="366.30" cy="461.20" r="0.95" fill="#0a6650"/>
<circle cx="367.30" cy="462.52" r="0.95" fill="#0a6650"/>
<circle cx="364.80" cy="459.61" r="0.95" fill="#0a6650"/>
<circle cx="364.80" cy="462.80" r="0.95" fill="#0a6650"/>
<circle cx="367.80" cy="458.36" r="0.95" fill="#0a6650"/>
<circle cx="368.80" cy="461.90" r="0.95" fill="#0a6650"/>
<circle cx="364.80" cy="461.03" r="0.95" fill="#0a6650"/>
<circle cx="364.80" cy="457.64" r="0.95" fill="#0a6650"/>
<circle cx="363.30" cy="460.75" r="0.95" fill="#0a6650"/>
<circle cx="362.80" cy="462.03" r="0.95" fill="#0a6650"/>
<circle cx="369.80" cy="463.04" r="0.95" fill="#0a6650"/>
<circle cx="369.30" cy="457.60" r="0.95" fill="#0a6650"/>
<circle cx="371.30" cy="462.85" r="0.95" fill="#0a6650"/>
<circle cx="363.30" cy="457.17" r="0.95" fill="#0a6650"/>
<circle cx="370.80" cy="457.67" r="0.95" fill="#0a6650"/>
<circle cx="369.30" cy="460.42" r="0.95" fill="#0a6650"/>
<circle cx="366.30" cy="442.50" r="0.95" fill="#0a6650"/>
<circle cx="361.30" cy="461.87" r="0.95" fill="#0a6650"/>
<circle cx="361.80" cy="463.09" r="0.95" fill="#0a6650"/>
<circle cx="370.80" cy="461.18" r="0.95" fill="#0a6650"/>
<circle cx="366.80" cy="456.70" r="0.95" fill="#0a6650"/>
<circle cx="362.30" cy="458.19" r="0.95" fill="#0a6650"/>
<circle cx="362.30" cy="459.70" r="0.95" fill="#0a6650"/>
<circle cx="370.30" cy="459.50" r="0.95" fill="#0a6650"/>
<circle cx="369.26" cy="460.85" r="0.95" fill="#0a6650"/>
<circle cx="362.17" cy="459.41" r="0.95" fill="#0a6650"/>
<circle cx="367.43" cy="461.83" r="0.95" fill="#0a6650"/>
<circle cx="369.06" cy="458.95" r="0.95" fill="#0a6650"/>
<circle cx="363.30" cy="463.24" r="0.95" fill="#0a6650"/>
<circle cx="371.18" cy="460.27" r="0.95" fill="#0a6650"/>
<circle cx="365.30" cy="456.13" r="0.95" fill="#0a6650"/>
<circle cx="365.30" cy="462.71" r="0.95" fill="#0a6650"/>
<circle cx="366.30" cy="452.08" r="0.95" fill="#0a6650"/>
<circle cx="370.70" cy="459.87" r="0.95" fill="#0a6650"/>
<circle cx="370.03" cy="459.21" r="0.95" fill="#0a6650"/>
<circle cx="361.56" cy="461.60" r="0.95" fill="#0a6650"/>
<circle cx="361.30" cy="457.01" r="0.95" fill="#0a6650"/>
<circle cx="366.30" cy="454.25" r="0.95" fill="#0a6650"/>
<circle cx="364.47" cy="457.53" r="0.95" fill="#0a6650"/>
<circle cx="367.84" cy="462.64" r="0.95" fill="#0a6650"/>
<circle cx="364.43" cy="456.92" r="0.95" fill="#0a6650"/>
<circle cx="363.80" cy="458.77" r="0.95" fill="#0a6650"/>
<circle cx="365.45" cy="463.60" r="0.95" fill="#0a6650"/>
<circle cx="367.80" cy="454.51" r="0.95" fill="#0a6650"/>
<circle cx="368.40" cy="462.02" r="0.95" fill="#0a6650"/>
<circle cx="369.65" cy="461.43" r="0.95" fill="#0a6650"/>
<circle cx="362.87" cy="458.28" r="0.95" fill="#0a6650"/>
<circle cx="361.49" cy="461.37" r="0.95" fill="#0a6650"/>
<circle cx="363.40" cy="461.23" r="0.95" fill="#0a6650"/>
<circle cx="366.59" cy="459.45" r="0.95" fill="#0a6650"/>
<circle cx="369.71" cy="462.36" r="0.95" fill="#0a6650"/>
<circle cx="364.88" cy="458.10" r="0.95" fill="#0a6650"/>
<circle cx="364.92" cy="458.91" r="0.95" fill="#0a6650"/>
<circle cx="364.30" cy="455.26" r="0.95" fill="#0a6650"/>
<circle cx="364.74" cy="463.48" r="0.95" fill="#0a6650"/>
<circle cx="368.10" cy="461.47" r="0.95" fill="#0a6650"/>
<line x1="366.30" y1="457.00" x2="366.30" y2="463.00" stroke="#0a4a3a" stroke-width="0.9"/>
<line x1="363.55" y1="457.00" x2="369.05" y2="457.00" stroke="#0a4a3a" stroke-width="0.9"/>
<line x1="363.55" y1="463.00" x2="369.05" y2="463.00" stroke="#0a4a3a" stroke-width="0.9"/>
<line x1="360.80" y1="460.60" x2="371.80" y2="460.60" stroke="#0a4a3a" stroke-width="1.1"/>
<circle cx="378.90" cy="429.65" r="0.95" fill="#ec8c08"/>
<circle cx="378.90" cy="433.56" r="0.95" fill="#ec8c08"/>
<circle cx="378.90" cy="426.89" r="0.95" fill="#ec8c08"/>
<circle cx="378.90" cy="421.38" r="0.95" fill="#ec8c08"/>
<circle cx="380.40" cy="429.16" r="0.95" fill="#ec8c08"/>
<circle cx="377.90" cy="428.62" r="0.95" fill="#ec8c08"/>
<circle cx="378.90" cy="423.25" r="0.95" fill="#ec8c08"/>
<circle cx="378.90" cy="436.54" r="0.95" fill="#ec8c08"/>
<circle cx="378.90" cy="419.96" r="0.95" fill="#ec8c08"/>
<circle cx="379.90" cy="430.84" r="0.95" fill="#ec8c08"/>
<circle cx="380.40" cy="434.32" r="0.95" fill="#ec8c08"/>
<circle cx="380.40" cy="419.19" r="0.95" fill="#ec8c08"/>
<circle cx="378.40" cy="431.02" r="0.95" fill="#ec8c08"/>
<circle cx="376.90" cy="430.49" r="0.95" fill="#ec8c08"/>
<circle cx="379.90" cy="437.46" r="0.95" fill="#ec8c08"/>
<circle cx="380.40" cy="420.94" r="0.95" fill="#ec8c08"/>
<circle cx="379.40" cy="424.47" r="0.95" fill="#ec8c08"/>
<circle cx="378.90" cy="417.65" r="0.95" fill="#ec8c08"/>
<circle cx="378.90" cy="443.09" r="0.95" fill="#ec8c08"/>
<circle cx="377.40" cy="434.19" r="0.95" fill="#ec8c08"/>
<circle cx="378.40" cy="437.79" r="0.95" fill="#ec8c08"/>
<circle cx="380.40" cy="426.08" r="0.95" fill="#ec8c08"/>
<circle cx="377.90" cy="418.84" r="0.95" fill="#ec8c08"/>
<circle cx="377.40" cy="436.52" r="0.95" fill="#ec8c08"/>
<circle cx="377.90" cy="425.29" r="0.95" fill="#ec8c08"/>
<circle cx="377.40" cy="421.92" r="0.95" fill="#ec8c08"/>
<circle cx="381.40" cy="431.43" r="0.95" fill="#ec8c08"/>
<circle cx="381.90" cy="429.38" r="0.95" fill="#ec8c08"/>
<circle cx="378.90" cy="408.00" r="0.95" fill="#ec8c08"/>
<circle cx="378.90" cy="444.96" r="0.95" fill="#ec8c08"/>
<circle cx="376.40" cy="425.35" r="0.95" fill="#ec8c08"/>
<circle cx="381.40" cy="424.96" r="0.95" fill="#ec8c08"/>
<circle cx="381.40" cy="428.00" r="0.95" fill="#ec8c08"/>
<circle cx="381.90" cy="421.26" r="0.95" fill="#ec8c08"/>
<circle cx="379.90" cy="446.00" r="0.95" fill="#ec8c08"/>
<circle cx="382.90" cy="425.55" r="0.95" fill="#ec8c08"/>
<circle cx="378.90" cy="441.77" r="0.95" fill="#ec8c08"/>
<circle cx="375.90" cy="421.46" r="0.95" fill="#ec8c08"/>
<circle cx="383.40" cy="420.66" r="0.95" fill="#ec8c08"/>
<circle cx="376.40" cy="428.81" r="0.95" fill="#ec8c08"/>
<circle cx="381.90" cy="433.87" r="0.95" fill="#ec8c08"/>
<circle cx="378.90" cy="439.58" r="0.95" fill="#ec8c08"/>
<circle cx="380.90" cy="422.19" r="0.95" fill="#ec8c08"/>
<circle cx="376.40" cy="418.40" r="0.95" fill="#ec8c08"/>
<circle cx="377.40" cy="426.52" r="0.95" fill="#ec8c08"/>
<circle cx="380.40" cy="439.08" r="0.95" fill="#ec8c08"/>
<circle cx="375.90" cy="434.28" r="0.95" fill="#ec8c08"/>
<circle cx="380.90" cy="436.50" r="0.95" fill="#ec8c08"/>
<circle cx="375.90" cy="435.83" r="0.95" fill="#ec8c08"/>
<circle cx="383.40" cy="421.99" r="0.95" fill="#ec8c08"/>
<circle cx="378.90" cy="414.75" r="0.95" fill="#ec8c08"/>
<circle cx="375.90" cy="431.42" r="0.95" fill="#ec8c08"/>
<circle cx="374.40" cy="422.06" r="0.95" fill="#ec8c08"/>
<circle cx="380.40" cy="443.31" r="0.95" fill="#ec8c08"/>
<circle cx="378.90" cy="450.50" r="0.95" fill="#ec8c08"/>
<circle cx="380.40" cy="441.60" r="0.95" fill="#ec8c08"/>
<circle cx="377.40" cy="439.43" r="0.95" fill="#ec8c08"/>
<circle cx="377.90" cy="440.77" r="0.95" fill="#ec8c08"/>
<circle cx="378.90" cy="448.53" r="0.95" fill="#ec8c08"/>
<circle cx="374.90" cy="425.94" r="0.95" fill="#ec8c08"/>
<line x1="378.90" y1="424.60" x2="378.90" y2="441.50" stroke="#c06d00" stroke-width="0.9"/>
<line x1="376.15" y1="424.60" x2="381.65" y2="424.60" stroke="#c06d00" stroke-width="0.9"/>
<line x1="376.15" y1="441.50" x2="381.65" y2="441.50" stroke="#c06d00" stroke-width="0.9"/>
<line x1="373.40" y1="432.90" x2="384.40" y2="432.90" stroke="#c06d00" stroke-width="1.1"/>
<circle cx="391.50" cy="446.47" r="0.95" fill="#0a6650"/>
<circle cx="391.50" cy="459.21" r="0.95" fill="#0a6650"/>
<circle cx="391.50" cy="450.40" r="0.95" fill="#0a6650"/>
<circle cx="391.50" cy="462.00" r="0.95" fill="#0a6650"/>
<circle cx="392.50" cy="451.25" r="0.95" fill="#0a6650"/>
<circle cx="391.50" cy="444.61" r="0.95" fill="#0a6650"/>
<circle cx="391.50" cy="456.94" r="0.95" fill="#0a6650"/>
<circle cx="391.50" cy="448.86" r="0.95" fill="#0a6650"/>
<circle cx="393.00" cy="456.72" r="0.95" fill="#0a6650"/>
<circle cx="393.00" cy="449.88" r="0.95" fill="#0a6650"/>
<circle cx="391.50" cy="452.95" r="0.95" fill="#0a6650"/>
<circle cx="393.00" cy="461.97" r="0.95" fill="#0a6650"/>
<circle cx="390.00" cy="451.02" r="0.95" fill="#0a6650"/>
<circle cx="390.00" cy="448.65" r="0.95" fill="#0a6650"/>
<circle cx="393.00" cy="452.76" r="0.95" fill="#0a6650"/>
<circle cx="393.00" cy="445.79" r="0.95" fill="#0a6650"/>
<circle cx="390.00" cy="457.41" r="0.95" fill="#0a6650"/>
<circle cx="394.00" cy="448.91" r="0.95" fill="#0a6650"/>
<circle cx="391.50" cy="439.70" r="0.95" fill="#0a6650"/>
<circle cx="389.00" cy="456.23" r="0.95" fill="#0a6650"/>
<circle cx="391.50" cy="455.35" r="0.95" fill="#0a6650"/>
<circle cx="392.50" cy="454.45" r="0.95" fill="#0a6650"/>
<circle cx="390.00" cy="453.50" r="0.95" fill="#0a6650"/>
<circle cx="393.00" cy="459.31" r="0.95" fill="#0a6650"/>
<circle cx="388.50" cy="448.46" r="0.95" fill="#0a6650"/>
<circle cx="394.00" cy="457.73" r="0.95" fill="#0a6650"/>
<circle cx="395.00" cy="456.63" r="0.95" fill="#0a6650"/>
<circle cx="395.50" cy="448.83" r="0.95" fill="#0a6650"/>
<circle cx="392.50" cy="447.75" r="0.95" fill="#0a6650"/>
<circle cx="393.00" cy="444.18" r="0.95" fill="#0a6650"/>
<circle cx="394.50" cy="453.43" r="0.95" fill="#0a6650"/>
<circle cx="388.50" cy="452.95" r="0.95" fill="#0a6650"/>
<circle cx="394.00" cy="451.90" r="0.95" fill="#0a6650"/>
<circle cx="388.50" cy="451.39" r="0.95" fill="#0a6650"/>
<circle cx="396.00" cy="452.70" r="0.95" fill="#0a6650"/>
<circle cx="391.50" cy="437.00" r="0.95" fill="#0a6650"/>
<circle cx="387.00" cy="451.86" r="0.95" fill="#0a6650"/>
<circle cx="388.00" cy="454.15" r="0.95" fill="#0a6650"/>
<circle cx="387.50" cy="449.59" r="0.95" fill="#0a6650"/>
<circle cx="388.50" cy="457.54" r="0.95" fill="#0a6650"/>
<circle cx="387.50" cy="455.90" r="0.95" fill="#0a6650"/>
<circle cx="395.50" cy="454.41" r="0.95" fill="#0a6650"/>
<circle cx="393.00" cy="439.50" r="0.95" fill="#0a6650"/>
<circle cx="394.50" cy="450.42" r="0.95" fill="#0a6650"/>
<circle cx="386.50" cy="454.08" r="0.95" fill="#0a6650"/>
<line x1="391.50" y1="444.60" x2="391.50" y2="458.50" stroke="#0a4a3a" stroke-width="0.9"/>
<line x1="388.75" y1="444.60" x2="394.25" y2="444.60" stroke="#0a4a3a" stroke-width="0.9"/>
<line x1="388.75" y1="458.50" x2="394.25" y2="458.50" stroke="#0a4a3a" stroke-width="0.9"/>
<line x1="386.00" y1="453.80" x2="397.00" y2="453.80" stroke="#0a4a3a" stroke-width="1.1"/>
<circle cx="404.10" cy="446.00" r="0.95" fill="#ec8c08"/>
<circle cx="404.10" cy="425.14" r="0.95" fill="#ec8c08"/>
<circle cx="404.10" cy="431.98" r="0.95" fill="#ec8c08"/>
<circle cx="404.10" cy="434.09" r="0.95" fill="#ec8c08"/>
<circle cx="404.10" cy="410.97" r="0.95" fill="#ec8c08"/>
<circle cx="404.10" cy="429.76" r="0.95" fill="#ec8c08"/>
<circle cx="404.10" cy="427.71" r="0.95" fill="#ec8c08"/>
<circle cx="404.10" cy="413.89" r="0.95" fill="#ec8c08"/>
<circle cx="404.10" cy="407.62" r="0.95" fill="#ec8c08"/>
<circle cx="405.10" cy="412.09" r="0.95" fill="#ec8c08"/>
<circle cx="404.10" cy="437.33" r="0.95" fill="#ec8c08"/>
<circle cx="405.60" cy="425.27" r="0.95" fill="#ec8c08"/>
<circle cx="404.10" cy="440.44" r="0.95" fill="#ec8c08"/>
<circle cx="404.10" cy="422.95" r="0.95" fill="#ec8c08"/>
<circle cx="404.10" cy="418.59" r="0.95" fill="#ec8c08"/>
<circle cx="405.60" cy="408.05" r="0.95" fill="#ec8c08"/>
<circle cx="404.10" cy="392.50" r="0.95" fill="#ec8c08"/>
<circle cx="404.10" cy="402.64" r="0.95" fill="#ec8c08"/>
<circle cx="405.60" cy="437.30" r="0.95" fill="#ec8c08"/>
<circle cx="404.10" cy="415.80" r="0.95" fill="#ec8c08"/>
<circle cx="405.60" cy="429.13" r="0.95" fill="#ec8c08"/>
<circle cx="405.60" cy="422.27" r="0.95" fill="#ec8c08"/>
<circle cx="404.10" cy="420.68" r="0.95" fill="#ec8c08"/>
<circle cx="402.60" cy="411.60" r="0.95" fill="#ec8c08"/>
<circle cx="402.60" cy="407.86" r="0.95" fill="#ec8c08"/>
<circle cx="405.10" cy="426.72" r="0.95" fill="#ec8c08"/>
<circle cx="405.60" cy="402.76" r="0.95" fill="#ec8c08"/>
<circle cx="402.60" cy="430.20" r="0.95" fill="#ec8c08"/>
<circle cx="405.10" cy="424.05" r="0.95" fill="#ec8c08"/>
<circle cx="402.60" cy="424.91" r="0.95" fill="#ec8c08"/>
<circle cx="405.60" cy="440.46" r="0.95" fill="#ec8c08"/>
<circle cx="402.60" cy="402.04" r="0.95" fill="#ec8c08"/>
<circle cx="404.10" cy="405.59" r="0.95" fill="#ec8c08"/>
<circle cx="402.60" cy="427.78" r="0.95" fill="#ec8c08"/>
<circle cx="403.10" cy="421.81" r="0.95" fill="#ec8c08"/>
<circle cx="405.60" cy="414.39" r="0.95" fill="#ec8c08"/>
<circle cx="405.10" cy="430.86" r="0.95" fill="#ec8c08"/>
<circle cx="405.60" cy="410.40" r="0.95" fill="#ec8c08"/>
<circle cx="406.60" cy="426.84" r="0.95" fill="#ec8c08"/>
<circle cx="406.60" cy="430.11" r="0.95" fill="#ec8c08"/>
<circle cx="401.10" cy="430.27" r="0.95" fill="#ec8c08"/>
<circle cx="406.60" cy="411.70" r="0.95" fill="#ec8c08"/>
<circle cx="403.10" cy="436.43" r="0.95" fill="#ec8c08"/>
<circle cx="405.60" cy="416.30" r="0.95" fill="#ec8c08"/>
<circle cx="401.10" cy="411.00" r="0.95" fill="#ec8c08"/>
<circle cx="402.60" cy="413.80" r="0.95" fill="#ec8c08"/>
<circle cx="405.10" cy="406.54" r="0.95" fill="#ec8c08"/>
<circle cx="406.60" cy="424.20" r="0.95" fill="#ec8c08"/>
<line x1="404.10" y1="409.20" x2="404.10" y2="430.80" stroke="#c06d00" stroke-width="0.9"/>
<line x1="401.35" y1="409.20" x2="406.85" y2="409.20" stroke="#c06d00" stroke-width="0.9"/>
<line x1="401.35" y1="430.80" x2="406.85" y2="430.80" stroke="#c06d00" stroke-width="0.9"/>
<line x1="398.60" y1="419.40" x2="409.60" y2="419.40" stroke="#c06d00" stroke-width="1.1"/>
<circle cx="416.70" cy="449.04" r="0.95" fill="#0a6650"/>
<circle cx="418.20" cy="448.32" r="0.95" fill="#0a6650"/>
<circle cx="415.20" cy="449.52" r="0.95" fill="#0a6650"/>
<circle cx="416.70" cy="436.00" r="0.95" fill="#0a6650"/>
<circle cx="416.70" cy="442.63" r="0.95" fill="#0a6650"/>
<circle cx="414.20" cy="448.65" r="0.95" fill="#0a6650"/>
<circle cx="416.70" cy="452.00" r="0.95" fill="#0a6650"/>
<circle cx="416.70" cy="446.18" r="0.95" fill="#0a6650"/>
<line x1="416.70" y1="440.00" x2="416.70" y2="449.20" stroke="#0a4a3a" stroke-width="0.9"/>
<line x1="413.95" y1="440.00" x2="419.45" y2="440.00" stroke="#0a4a3a" stroke-width="0.9"/>
<line x1="413.95" y1="449.20" x2="419.45" y2="449.20" stroke="#0a4a3a" stroke-width="0.9"/>
<line x1="411.20" y1="446.20" x2="422.20" y2="446.20" stroke="#0a4a3a" stroke-width="1.1"/>
<circle cx="429.30" cy="399.27" r="0.95" fill="#ec8c08"/>
<circle cx="429.30" cy="426.53" r="0.95" fill="#ec8c08"/>
<circle cx="429.30" cy="419.81" r="0.95" fill="#ec8c08"/>
<circle cx="429.30" cy="381.50" r="0.95" fill="#ec8c08"/>
<circle cx="429.30" cy="396.32" r="0.95" fill="#ec8c08"/>
<circle cx="430.30" cy="395.26" r="0.95" fill="#ec8c08"/>
<circle cx="429.30" cy="409.05" r="0.95" fill="#ec8c08"/>
<circle cx="429.30" cy="431.00" r="0.95" fill="#ec8c08"/>
<circle cx="430.30" cy="427.66" r="0.95" fill="#ec8c08"/>
<circle cx="429.30" cy="424.12" r="0.95" fill="#ec8c08"/>
<circle cx="430.30" cy="425.45" r="0.95" fill="#ec8c08"/>
<circle cx="429.30" cy="406.65" r="0.95" fill="#ec8c08"/>
<circle cx="429.30" cy="392.85" r="0.95" fill="#ec8c08"/>
<line x1="429.30" y1="393.80" x2="429.30" y2="430.80" stroke="#c06d00" stroke-width="0.9"/>
<line x1="426.55" y1="393.80" x2="432.05" y2="393.80" stroke="#c06d00" stroke-width="0.9"/>
<line x1="426.55" y1="430.80" x2="432.05" y2="430.80" stroke="#c06d00" stroke-width="0.9"/>
<line x1="423.80" y1="414.50" x2="434.80" y2="414.50" stroke="#c06d00" stroke-width="1.1"/>
<circle cx="441.90" cy="456.45" r="0.95" fill="#0a6650"/>
<circle cx="441.90" cy="458.01" r="0.95" fill="#0a6650"/>
<circle cx="441.90" cy="460.90" r="0.95" fill="#0a6650"/>
<circle cx="443.40" cy="456.82" r="0.95" fill="#0a6650"/>
<circle cx="443.40" cy="461.50" r="0.95" fill="#0a6650"/>
<circle cx="443.40" cy="458.22" r="0.95" fill="#0a6650"/>
<circle cx="441.90" cy="453.65" r="0.95" fill="#0a6650"/>
<circle cx="441.90" cy="455.11" r="0.95" fill="#0a6650"/>
<circle cx="441.90" cy="451.58" r="0.95" fill="#0a6650"/>
<circle cx="442.90" cy="459.88" r="0.95" fill="#0a6650"/>
<circle cx="443.40" cy="455.06" r="0.95" fill="#0a6650"/>
<circle cx="440.40" cy="455.68" r="0.95" fill="#0a6650"/>
<circle cx="440.40" cy="458.55" r="0.95" fill="#0a6650"/>
<circle cx="440.90" cy="460.05" r="0.95" fill="#0a6650"/>
<circle cx="439.90" cy="457.34" r="0.95" fill="#0a6650"/>
<circle cx="442.90" cy="452.74" r="0.95" fill="#0a6650"/>
<circle cx="444.90" cy="456.01" r="0.95" fill="#0a6650"/>
<circle cx="440.40" cy="451.77" r="0.95" fill="#0a6650"/>
<circle cx="441.90" cy="448.86" r="0.95" fill="#0a6650"/>
<circle cx="444.90" cy="457.69" r="0.95" fill="#0a6650"/>
<circle cx="438.90" cy="458.45" r="0.95" fill="#0a6650"/>
<circle cx="444.40" cy="452.30" r="0.95" fill="#0a6650"/>
<circle cx="438.90" cy="455.19" r="0.95" fill="#0a6650"/>
<circle cx="441.90" cy="447.00" r="0.95" fill="#0a6650"/>
<circle cx="445.90" cy="455.10" r="0.95" fill="#0a6650"/>
<circle cx="437.40" cy="455.35" r="0.95" fill="#0a6650"/>
<circle cx="443.40" cy="451.35" r="0.95" fill="#0a6650"/>
<circle cx="440.40" cy="453.33" r="0.95" fill="#0a6650"/>
<circle cx="438.90" cy="451.54" r="0.95" fill="#0a6650"/>
<circle cx="443.40" cy="448.68" r="0.95" fill="#0a6650"/>
<circle cx="439.95" cy="454.52" r="0.95" fill="#0a6650"/>
<circle cx="444.40" cy="459.48" r="0.95" fill="#0a6650"/>
<circle cx="438.40" cy="456.94" r="0.95" fill="#0a6650"/>
<circle cx="439.40" cy="459.68" r="0.95" fill="#0a6650"/>
<circle cx="443.90" cy="453.59" r="0.95" fill="#0a6650"/>
<line x1="441.90" y1="450.80" x2="441.90" y2="460.00" stroke="#0a4a3a" stroke-width="0.9"/>
<line x1="439.15" y1="450.80" x2="444.65" y2="450.80" stroke="#0a4a3a" stroke-width="0.9"/>
<line x1="439.15" y1="460.00" x2="444.65" y2="460.00" stroke="#0a4a3a" stroke-width="0.9"/>
<line x1="436.40" y1="455.40" x2="447.40" y2="455.40" stroke="#0a4a3a" stroke-width="1.1"/>
<circle cx="454.50" cy="415.23" r="0.95" fill="#ec8c08"/>
<circle cx="454.50" cy="442.37" r="0.95" fill="#ec8c08"/>
<circle cx="454.50" cy="429.44" r="0.95" fill="#ec8c08"/>
<circle cx="455.00" cy="416.43" r="0.95" fill="#ec8c08"/>
<circle cx="454.50" cy="444.03" r="0.95" fill="#ec8c08"/>
<circle cx="454.50" cy="432.11" r="0.95" fill="#ec8c08"/>
<circle cx="454.50" cy="420.82" r="0.95" fill="#ec8c08"/>
<circle cx="456.00" cy="421.40" r="0.95" fill="#ec8c08"/>
<circle cx="454.50" cy="419.24" r="0.95" fill="#ec8c08"/>
<circle cx="456.00" cy="432.20" r="0.95" fill="#ec8c08"/>
<circle cx="454.50" cy="427.76" r="0.95" fill="#ec8c08"/>
<circle cx="454.50" cy="425.97" r="0.95" fill="#ec8c08"/>
<circle cx="454.50" cy="446.00" r="0.95" fill="#ec8c08"/>
<circle cx="454.50" cy="433.75" r="0.95" fill="#ec8c08"/>
<circle cx="454.50" cy="411.91" r="0.95" fill="#ec8c08"/>
<circle cx="454.50" cy="423.27" r="0.95" fill="#ec8c08"/>
<circle cx="456.00" cy="429.97" r="0.95" fill="#ec8c08"/>
<circle cx="456.00" cy="425.19" r="0.95" fill="#ec8c08"/>
<circle cx="456.00" cy="419.66" r="0.95" fill="#ec8c08"/>
<circle cx="456.00" cy="443.20" r="0.95" fill="#ec8c08"/>
<circle cx="453.50" cy="424.78" r="0.95" fill="#ec8c08"/>
<circle cx="453.00" cy="443.18" r="0.95" fill="#ec8c08"/>
<circle cx="455.50" cy="428.61" r="0.95" fill="#ec8c08"/>
<circle cx="454.50" cy="438.53" r="0.95" fill="#ec8c08"/>
<circle cx="456.00" cy="411.89" r="0.95" fill="#ec8c08"/>
<circle cx="453.00" cy="427.87" r="0.95" fill="#ec8c08"/>
<circle cx="456.00" cy="423.34" r="0.95" fill="#ec8c08"/>
<circle cx="453.50" cy="416.26" r="0.95" fill="#ec8c08"/>
<circle cx="456.50" cy="427.70" r="0.95" fill="#ec8c08"/>
<circle cx="457.50" cy="442.88" r="0.95" fill="#ec8c08"/>
<circle cx="453.50" cy="431.10" r="0.95" fill="#ec8c08"/>
<circle cx="454.50" cy="435.82" r="0.95" fill="#ec8c08"/>
<circle cx="454.50" cy="410.00" r="0.95" fill="#ec8c08"/>
<circle cx="453.00" cy="420.54" r="0.95" fill="#ec8c08"/>
<circle cx="452.50" cy="425.95" r="0.95" fill="#ec8c08"/>
<line x1="454.50" y1="420.00" x2="454.50" y2="440.00" stroke="#c06d00" stroke-width="0.9"/>
<line x1="451.75" y1="420.00" x2="457.25" y2="420.00" stroke="#c06d00" stroke-width="0.9"/>
<line x1="451.75" y1="440.00" x2="457.25" y2="440.00" stroke="#c06d00" stroke-width="0.9"/>
<line x1="449.00" y1="429.80" x2="460.00" y2="429.80" stroke="#c06d00" stroke-width="1.1"/>
<circle cx="467.10" cy="447.77" r="0.95" fill="#0a6650"/>
<circle cx="467.10" cy="455.05" r="0.95" fill="#0a6650"/>
<circle cx="467.10" cy="450.44" r="0.95" fill="#0a6650"/>
<circle cx="467.60" cy="451.72" r="0.95" fill="#0a6650"/>
<circle cx="467.10" cy="436.65" r="0.95" fill="#0a6650"/>
<circle cx="466.60" cy="452.59" r="0.95" fill="#0a6650"/>
<circle cx="467.60" cy="453.62" r="0.95" fill="#0a6650"/>
<circle cx="468.60" cy="455.03" r="0.95" fill="#0a6650"/>
<circle cx="467.60" cy="446.47" r="0.95" fill="#0a6650"/>
<circle cx="465.60" cy="455.20" r="0.95" fill="#0a6650"/>
<circle cx="466.10" cy="445.91" r="0.95" fill="#0a6650"/>
<circle cx="465.60" cy="451.57" r="0.95" fill="#0a6650"/>
<circle cx="468.60" cy="447.31" r="0.95" fill="#0a6650"/>
<circle cx="470.10" cy="455.00" r="0.95" fill="#0a6650"/>
<circle cx="467.10" cy="458.10" r="0.95" fill="#0a6650"/>
<circle cx="469.10" cy="451.30" r="0.95" fill="#0a6650"/>
<circle cx="468.60" cy="449.94" r="0.95" fill="#0a6650"/>
<circle cx="465.60" cy="453.75" r="0.95" fill="#0a6650"/>
<circle cx="469.10" cy="453.38" r="0.95" fill="#0a6650"/>
<circle cx="468.60" cy="458.27" r="0.95" fill="#0a6650"/>
<circle cx="464.10" cy="454.93" r="0.95" fill="#0a6650"/>
<circle cx="470.60" cy="453.69" r="0.95" fill="#0a6650"/>
<circle cx="465.60" cy="458.93" r="0.95" fill="#0a6650"/>
<circle cx="471.60" cy="455.11" r="0.95" fill="#0a6650"/>
<circle cx="465.60" cy="448.53" r="0.95" fill="#0a6650"/>
<circle cx="467.10" cy="456.48" r="0.95" fill="#0a6650"/>
<circle cx="467.10" cy="463.00" r="0.95" fill="#0a6650"/>
<circle cx="463.10" cy="453.76" r="0.95" fill="#0a6650"/>
<circle cx="464.60" cy="447.58" r="0.95" fill="#0a6650"/>
<circle cx="472.10" cy="453.66" r="0.95" fill="#0a6650"/>
<circle cx="462.44" cy="453.86" r="0.95" fill="#0a6650"/>
<circle cx="470.10" cy="449.25" r="0.95" fill="#0a6650"/>
<circle cx="467.10" cy="429.50" r="0.95" fill="#0a6650"/>
<circle cx="468.60" cy="456.72" r="0.95" fill="#0a6650"/>
<circle cx="467.10" cy="442.68" r="0.95" fill="#0a6650"/>
<circle cx="464.10" cy="451.47" r="0.95" fill="#0a6650"/>
<circle cx="470.60" cy="447.99" r="0.95" fill="#0a6650"/>
<circle cx="470.10" cy="458.23" r="0.95" fill="#0a6650"/>
<circle cx="467.10" cy="460.94" r="0.95" fill="#0a6650"/>
<circle cx="462.60" cy="455.50" r="0.95" fill="#0a6650"/>
<circle cx="470.60" cy="450.92" r="0.95" fill="#0a6650"/>
<circle cx="464.10" cy="448.82" r="0.95" fill="#0a6650"/>
<line x1="467.10" y1="446.20" x2="467.10" y2="457.00" stroke="#0a4a3a" stroke-width="0.9"/>
<line x1="464.35" y1="446.20" x2="469.85" y2="446.20" stroke="#0a4a3a" stroke-width="0.9"/>
<line x1="464.35" y1="457.00" x2="469.85" y2="457.00" stroke="#0a4a3a" stroke-width="0.9"/>
<line x1="461.60" y1="452.60" x2="472.60" y2="452.60" stroke="#0a4a3a" stroke-width="1.1"/>
<circle cx="479.70" cy="410.68" r="0.95" fill="#ec8c08"/>
<circle cx="479.70" cy="424.25" r="0.95" fill="#ec8c08"/>
<circle cx="479.70" cy="416.53" r="0.95" fill="#ec8c08"/>
<circle cx="479.70" cy="402.07" r="0.95" fill="#ec8c08"/>
<circle cx="479.70" cy="419.05" r="0.95" fill="#ec8c08"/>
<circle cx="479.70" cy="413.15" r="0.95" fill="#ec8c08"/>
<circle cx="479.70" cy="406.62" r="0.95" fill="#ec8c08"/>
<circle cx="481.20" cy="405.90" r="0.95" fill="#ec8c08"/>
<circle cx="481.20" cy="410.26" r="0.95" fill="#ec8c08"/>
<circle cx="479.70" cy="421.14" r="0.95" fill="#ec8c08"/>
<circle cx="481.20" cy="415.83" r="0.95" fill="#ec8c08"/>
<circle cx="481.20" cy="423.66" r="0.95" fill="#ec8c08"/>
<circle cx="481.20" cy="401.64" r="0.95" fill="#ec8c08"/>
<circle cx="480.70" cy="403.03" r="0.95" fill="#ec8c08"/>
<circle cx="479.70" cy="433.56" r="0.95" fill="#ec8c08"/>
<circle cx="481.20" cy="421.96" r="0.95" fill="#ec8c08"/>
<circle cx="478.20" cy="410.34" r="0.95" fill="#ec8c08"/>
<circle cx="479.70" cy="431.92" r="0.95" fill="#ec8c08"/>
<circle cx="478.20" cy="421.95" r="0.95" fill="#ec8c08"/>
<circle cx="478.70" cy="423.37" r="0.95" fill="#ec8c08"/>
<circle cx="477.20" cy="423.74" r="0.95" fill="#ec8c08"/>
<circle cx="482.70" cy="423.58" r="0.95" fill="#ec8c08"/>
<circle cx="479.70" cy="428.90" r="0.95" fill="#ec8c08"/>
<circle cx="478.70" cy="405.48" r="0.95" fill="#ec8c08"/>
<circle cx="479.70" cy="425.62" r="0.95" fill="#ec8c08"/>
<circle cx="482.70" cy="410.15" r="0.95" fill="#ec8c08"/>
<circle cx="479.70" cy="436.00" r="0.95" fill="#ec8c08"/>
<circle cx="480.70" cy="412.19" r="0.95" fill="#ec8c08"/>
<circle cx="479.70" cy="397.00" r="0.95" fill="#ec8c08"/>
<circle cx="480.70" cy="418.03" r="0.95" fill="#ec8c08"/>
<circle cx="481.20" cy="425.18" r="0.95" fill="#ec8c08"/>
<circle cx="478.20" cy="425.31" r="0.95" fill="#ec8c08"/>
<line x1="479.70" y1="404.60" x2="479.70" y2="432.30" stroke="#c06d00" stroke-width="0.9"/>
<line x1="476.95" y1="404.60" x2="482.45" y2="404.60" stroke="#c06d00" stroke-width="0.9"/>
<line x1="476.95" y1="432.30" x2="482.45" y2="432.30" stroke="#c06d00" stroke-width="0.9"/>
<line x1="474.20" y1="417.50" x2="485.20" y2="417.50" stroke="#c06d00" stroke-width="1.1"/>
<circle cx="492.30" cy="455.00" r="0.95" fill="#0a6650"/>
<circle cx="493.80" cy="454.87" r="0.95" fill="#0a6650"/>
<circle cx="492.30" cy="445.00" r="0.95" fill="#0a6650"/>
<circle cx="492.30" cy="453.28" r="0.95" fill="#0a6650"/>
<line x1="492.30" y1="447.70" x2="492.30" y2="453.80" stroke="#0a4a3a" stroke-width="0.9"/>
<line x1="489.55" y1="447.70" x2="495.05" y2="447.70" stroke="#0a4a3a" stroke-width="0.9"/>
<line x1="489.55" y1="453.80" x2="495.05" y2="453.80" stroke="#0a4a3a" stroke-width="0.9"/>
<line x1="486.80" y1="453.80" x2="497.80" y2="453.80" stroke="#0a4a3a" stroke-width="1.1"/>
<circle cx="504.90" cy="420.18" r="0.95" fill="#ec8c08"/>
<circle cx="506.40" cy="420.12" r="0.95" fill="#ec8c08"/>
<circle cx="504.90" cy="428.00" r="0.95" fill="#ec8c08"/>
<circle cx="504.90" cy="413.00" r="0.95" fill="#ec8c08"/>
<line x1="504.90" y1="416.30" x2="504.90" y2="428.60" stroke="#c06d00" stroke-width="0.9"/>
<line x1="502.15" y1="416.30" x2="507.65" y2="416.30" stroke="#c06d00" stroke-width="0.9"/>
<line x1="502.15" y1="428.60" x2="507.65" y2="428.60" stroke="#c06d00" stroke-width="0.9"/>
<line x1="499.40" y1="422.50" x2="510.40" y2="422.50" stroke="#c06d00" stroke-width="1.1"/>
<line x1="379.40" y1="351.30" x2="501.90" y2="351.30" stroke="#555" stroke-width="1.1"/>
<text x="440.65" y="350.80" font-size="6" text-anchor="middle" font-weight="bold" fill="#222" stroke="#222" stroke-width="0.2" letter-spacing="0.3">**</text>
<line x1="379.40" y1="357.80" x2="479.90" y2="357.80" stroke="#555" stroke-width="1.1"/>
<text x="429.95" y="357.30" font-size="6" text-anchor="middle" font-weight="bold" fill="#222" stroke="#222" stroke-width="0.2" letter-spacing="0.3">****</text>
<line x1="379.40" y1="364.80" x2="450.80" y2="364.80" stroke="#555" stroke-width="1.1"/>
<text x="415.35" y="364.00" font-size="6" text-anchor="middle" font-weight="bold" fill="#222" stroke="#222" stroke-width="0.2" letter-spacing="0.3">*</text>
<line x1="379.40" y1="371.80" x2="428.70" y2="371.80" stroke="#555" stroke-width="1.1"/>
<text x="404.35" y="371.00" font-size="6" text-anchor="middle" font-weight="bold" fill="#222" stroke="#222" stroke-width="0.2" letter-spacing="0.3">****</text>
<line x1="404.50" y1="378.20" x2="428.70" y2="378.20" stroke="#555" stroke-width="1.1"/>
<text x="417.25" y="378.30" font-size="6" text-anchor="middle" font-weight="bold" fill="#222" stroke="#222" stroke-width="0.2" letter-spacing="0.3">*</text>
<line x1="379.40" y1="389.80" x2="404.50" y2="389.80" stroke="#555" stroke-width="1.1"/>
<text x="392.15" y="389.60" font-size="6" text-anchor="middle" font-weight="bold" fill="#222" stroke="#222" stroke-width="0.2" letter-spacing="0.3">****</text>
<line x1="455.60" y1="392.00" x2="479.90" y2="392.00" stroke="#555" stroke-width="1.1"/>
<text x="467.65" y="391.80" font-size="6" text-anchor="middle" font-weight="bold" fill="#222" stroke="#222" stroke-width="0.2" letter-spacing="0.3">***</text>
<circle cx="400.3" cy="515" r="1.2" fill="#0a6650"/>
<text x="404.20" y="518.40" font-size="7.8" fill="#222" stroke="#222" stroke-width="0.2">CD56<tspan font-size="4.8" dy="-2.8">dim</tspan></text>
<circle cx="438.3" cy="515" r="1.2" fill="#ec8c08"/>
<text x="442.60" y="518.40" font-size="7.8" fill="#222" stroke="#222" stroke-width="0.2">CD56<tspan font-size="4.8" dy="-2.8">bright</tspan></text>
<rect x="0" y="0" width="520" height="1.1" fill="#666"/>
<rect x="0" y="0" width="1.15" height="526" fill="#474747"/>
<rect x="518.95" y="0" width="1.05" height="526" fill="#555"/>
<rect x="0" y="524.8" width="520" height="1.2" fill="#333"/>
</svg></body></html>
